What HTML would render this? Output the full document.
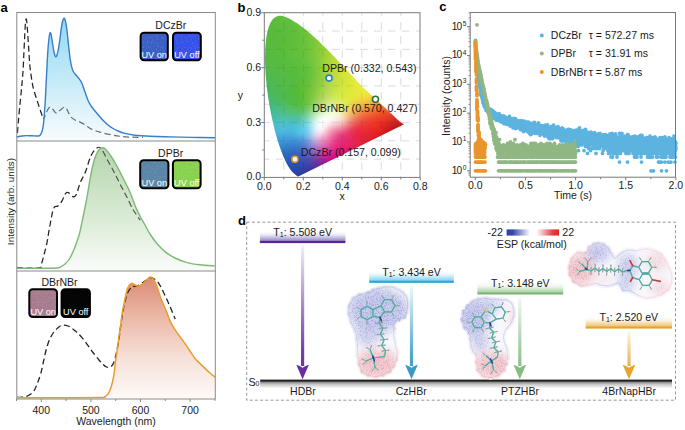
<!DOCTYPE html>
<html><head><meta charset="utf-8"><style>
html,body{margin:0;padding:0;background:#fff;overflow:hidden;width:685px;height:430px;}
svg{display:block;font-family:"Liberation Sans", sans-serif;}
</style></head><body>
<svg width="685" height="430" viewBox="0 0 685 430">
<defs>
<linearGradient id="gA1" x1="0" y1="0" x2="0" y2="1" gradientUnits="objectBoundingBox"><stop offset="0" stop-color="#92d9f3"/><stop offset="0.5" stop-color="#c4eaf8"/><stop offset="1" stop-color="#f8fcfe"/></linearGradient>
<linearGradient id="gA2" x1="0" y1="0" x2="0" y2="1" gradientUnits="objectBoundingBox"><stop offset="0" stop-color="#b5d6ad"/><stop offset="0.5" stop-color="#d5e8d0"/><stop offset="1" stop-color="#fafcf9"/></linearGradient>
<linearGradient id="gA3" x1="0" y1="0" x2="0" y2="1" gradientUnits="objectBoundingBox"><stop offset="0" stop-color="#da8a74"/><stop offset="0.3" stop-color="#eab4a2"/><stop offset="0.65" stop-color="#f6dfd6"/><stop offset="1" stop-color="#fefaf8"/></linearGradient>
</defs>
<path d="M16.80,137.00 C17.67,136.83 20.40,136.23 22.00,136.00 C23.60,135.77 24.73,135.63 26.40,135.60 C28.07,135.57 30.10,135.73 32.00,135.80 C33.90,135.87 36.47,136.10 37.80,136.00 C39.13,135.90 39.30,135.95 40.00,135.20 C40.70,134.45 41.42,133.42 42.00,131.50 C42.58,129.58 43.00,128.12 43.50,123.70 C44.00,119.28 44.53,112.28 45.00,105.00 C45.47,97.72 45.92,87.50 46.30,80.00 C46.68,72.50 46.97,65.83 47.30,60.00 C47.63,54.17 47.97,49.00 48.30,45.00 C48.63,41.00 49.00,38.05 49.30,36.00 C49.60,33.95 49.78,32.87 50.10,32.70 C50.42,32.53 50.75,32.95 51.20,35.00 C51.65,37.05 52.28,41.92 52.80,45.00 C53.32,48.08 53.83,51.57 54.30,53.50 C54.77,55.43 55.15,56.35 55.60,56.60 C56.05,56.85 56.50,56.43 57.00,55.00 C57.50,53.57 58.05,51.17 58.60,48.00 C59.15,44.83 59.73,40.00 60.30,36.00 C60.87,32.00 61.42,26.95 62.00,24.00 C62.58,21.05 63.25,18.88 63.80,18.30 C64.35,17.72 64.80,18.72 65.30,20.50 C65.80,22.28 66.27,24.92 66.80,29.00 C67.33,33.08 67.97,40.17 68.50,45.00 C69.03,49.83 69.52,54.57 70.00,58.00 C70.48,61.43 70.90,63.43 71.40,65.60 C71.90,67.77 72.32,69.52 73.00,71.00 C73.68,72.48 74.58,73.33 75.50,74.50 C76.42,75.67 77.45,76.58 78.50,78.00 C79.55,79.42 80.72,80.67 81.80,83.00 C82.88,85.33 83.92,89.00 85.00,92.00 C86.08,95.00 87.22,98.58 88.30,101.00 C89.38,103.42 90.38,104.83 91.50,106.50 C92.62,108.17 93.58,109.25 95.00,111.00 C96.42,112.75 98.50,115.28 100.00,117.00 C101.50,118.72 102.67,119.97 104.00,121.30 C105.33,122.63 106.50,123.80 108.00,125.00 C109.50,126.20 111.33,127.50 113.00,128.50 C114.67,129.50 116.00,130.18 118.00,131.00 C120.00,131.82 122.17,132.70 125.00,133.40 C127.83,134.10 130.83,134.72 135.00,135.20 C139.17,135.68 144.17,136.02 150.00,136.30 C155.83,136.58 163.00,136.72 170.00,136.90 C177.00,137.08 184.50,137.25 192.00,137.40 C199.50,137.55 211.17,137.73 215.00,137.80 L215.00,140.5 L16.80,140.5 Z" fill="url(#gA1)" stroke="none"/>
<path d="M16.80,268.30 C20.67,268.28 33.32,268.25 40.00,268.20 C46.68,268.15 53.40,268.27 56.90,268.00 C60.40,267.73 59.60,267.32 61.00,266.60 C62.40,265.88 63.80,265.13 65.30,263.70 C66.80,262.27 68.62,260.23 70.00,258.00 C71.38,255.77 72.52,252.80 73.60,250.30 C74.68,247.80 75.52,245.80 76.50,243.00 C77.48,240.20 78.65,236.67 79.50,233.50 C80.35,230.33 80.90,227.25 81.60,224.00 C82.30,220.75 83.05,217.17 83.70,214.00 C84.35,210.83 84.92,208.00 85.50,205.00 C86.08,202.00 86.62,199.28 87.20,196.00 C87.78,192.72 88.35,189.05 89.00,185.30 C89.65,181.55 90.35,177.27 91.10,173.50 C91.85,169.73 92.68,165.78 93.50,162.70 C94.32,159.62 95.08,157.15 96.00,155.00 C96.92,152.85 97.92,151.00 99.00,149.80 C100.08,148.60 101.50,147.97 102.50,147.80 C103.50,147.63 104.13,148.17 105.00,148.80 C105.87,149.43 106.62,150.23 107.70,151.60 C108.78,152.97 110.25,155.10 111.50,157.00 C112.75,158.90 114.03,161.00 115.20,163.00 C116.37,165.00 117.40,166.92 118.50,169.00 C119.60,171.08 120.67,173.25 121.80,175.50 C122.93,177.75 124.07,180.03 125.30,182.50 C126.53,184.97 127.92,187.38 129.20,190.30 C130.48,193.22 131.73,196.78 133.00,200.00 C134.27,203.22 135.55,206.77 136.80,209.60 C138.05,212.43 139.27,214.68 140.50,217.00 C141.73,219.32 142.57,220.58 144.20,223.50 C145.83,226.42 148.08,231.05 150.30,234.50 C152.52,237.95 154.95,241.27 157.50,244.20 C160.05,247.13 162.68,249.80 165.60,252.10 C168.52,254.40 171.42,256.25 175.00,258.00 C178.58,259.75 182.93,261.47 187.10,262.60 C191.27,263.73 195.38,264.25 200.00,264.80 C204.62,265.35 212.33,265.72 214.80,265.90 L214.80,270.5 L16.80,270.5 Z" fill="url(#gA2)" stroke="none"/>
<path d="M16.80,397.70 C24.00,397.70 45.98,397.72 60.00,397.70 C74.02,397.68 93.57,397.70 100.90,397.60 C108.23,397.50 103.13,397.40 104.00,397.10 C104.87,396.80 105.35,396.43 106.10,395.80 C106.85,395.17 107.72,394.60 108.50,393.30 C109.28,392.00 110.12,389.97 110.80,388.00 C111.48,386.03 112.03,384.00 112.60,381.50 C113.17,379.00 113.73,376.25 114.20,373.00 C114.67,369.75 114.90,365.83 115.40,362.00 C115.90,358.17 116.63,354.00 117.20,350.00 C117.77,346.00 118.28,341.75 118.80,338.00 C119.32,334.25 119.75,331.50 120.30,327.50 C120.85,323.50 121.48,317.92 122.10,314.00 C122.72,310.08 123.45,306.83 124.00,304.00 C124.55,301.17 124.90,299.33 125.40,297.00 C125.90,294.67 126.40,291.88 127.00,290.00 C127.60,288.12 128.40,286.72 129.00,285.70 C129.60,284.68 130.10,284.30 130.60,283.90 C131.10,283.50 131.38,283.18 132.00,283.30 C132.62,283.42 133.40,284.17 134.30,284.60 C135.20,285.03 136.37,285.80 137.40,285.90 C138.43,286.00 139.32,285.80 140.50,285.20 C141.68,284.60 143.33,283.33 144.50,282.30 C145.67,281.27 146.58,279.87 147.50,279.00 C148.42,278.13 149.15,277.22 150.00,277.10 C150.85,276.98 151.73,277.43 152.60,278.30 C153.47,279.17 154.33,280.52 155.20,282.30 C156.07,284.08 156.92,286.47 157.80,289.00 C158.68,291.53 159.60,295.00 160.50,297.50 C161.40,300.00 162.20,301.67 163.20,304.00 C164.20,306.33 165.27,308.47 166.50,311.50 C167.73,314.53 169.02,318.92 170.60,322.20 C172.18,325.48 173.95,328.13 176.00,331.20 C178.05,334.27 180.73,337.55 182.90,340.60 C185.07,343.65 186.97,346.50 189.00,349.50 C191.03,352.50 193.27,356.27 195.10,358.60 C196.93,360.93 198.35,361.87 200.00,363.50 C201.65,365.13 203.33,366.82 205.00,368.40 C206.67,369.98 208.32,371.53 210.00,373.00 C211.68,374.47 214.25,376.50 215.10,377.20 L215.10,398.5 L16.80,398.5 Z" fill="url(#gA3)" stroke="none"/>
<path d="M17.40,133.00 C17.58,130.83 18.10,124.50 18.50,120.00 C18.90,115.50 19.35,110.67 19.80,106.00 C20.25,101.33 20.78,96.33 21.20,92.00 C21.62,87.67 21.98,83.67 22.30,80.00 C22.62,76.33 22.85,74.17 23.10,70.00 C23.35,65.83 23.55,60.33 23.80,55.00 C24.05,49.67 24.35,43.00 24.60,38.00 C24.85,33.00 25.07,28.15 25.30,25.00 C25.53,21.85 25.75,19.60 26.00,19.10 C26.25,18.60 26.50,19.35 26.80,22.00 C27.10,24.65 27.45,30.00 27.80,35.00 C28.15,40.00 28.57,47.00 28.90,52.00 C29.23,57.00 29.48,61.50 29.80,65.00 C30.12,68.50 30.47,70.50 30.80,73.00 C31.13,75.50 31.45,77.78 31.80,80.00 C32.15,82.22 32.37,83.97 32.90,86.30 C33.43,88.63 34.18,91.28 35.00,94.00 C35.82,96.72 36.88,99.77 37.80,102.60 C38.72,105.43 39.55,108.28 40.50,111.00 C41.45,113.72 43.00,117.58 43.50,118.90" fill="none" stroke="#222" stroke-width="1.25" stroke-dasharray="6,3.4"/>
<path d="M43.50,118.90 C43.83,118.25 44.83,116.48 45.50,115.00 C46.17,113.52 46.75,111.32 47.50,110.00 C48.25,108.68 49.08,107.18 50.00,107.10 C50.92,107.02 51.92,108.48 53.00,109.50 C54.08,110.52 55.33,113.07 56.50,113.20 C57.67,113.33 58.63,111.32 60.00,110.30 C61.37,109.28 63.45,107.07 64.70,107.10 C65.95,107.13 66.55,108.93 67.50,110.50 C68.45,112.07 69.15,114.92 70.40,116.50 C71.65,118.08 73.38,119.07 75.00,120.00 C76.62,120.93 78.27,121.18 80.10,122.10 C81.93,123.02 84.10,124.33 86.00,125.50 C87.90,126.67 89.17,127.98 91.50,129.10 C93.83,130.22 96.47,131.20 100.00,132.20 C103.53,133.20 108.90,134.37 112.70,135.10 C116.50,135.83 119.58,136.25 122.80,136.60 C126.02,136.95 128.63,137.07 132.00,137.20 C135.37,137.33 141.17,137.37 143.00,137.40" fill="none" stroke="#6e6e6e" stroke-width="1.25" stroke-dasharray="6,3.4" stroke-dashoffset="2"/>
<path d="M16.80,137.00 C17.67,136.83 20.40,136.23 22.00,136.00 C23.60,135.77 24.73,135.63 26.40,135.60 C28.07,135.57 30.10,135.73 32.00,135.80 C33.90,135.87 36.47,136.10 37.80,136.00 C39.13,135.90 39.30,135.95 40.00,135.20 C40.70,134.45 41.42,133.42 42.00,131.50 C42.58,129.58 43.00,128.12 43.50,123.70 C44.00,119.28 44.53,112.28 45.00,105.00 C45.47,97.72 45.92,87.50 46.30,80.00 C46.68,72.50 46.97,65.83 47.30,60.00 C47.63,54.17 47.97,49.00 48.30,45.00 C48.63,41.00 49.00,38.05 49.30,36.00 C49.60,33.95 49.78,32.87 50.10,32.70 C50.42,32.53 50.75,32.95 51.20,35.00 C51.65,37.05 52.28,41.92 52.80,45.00 C53.32,48.08 53.83,51.57 54.30,53.50 C54.77,55.43 55.15,56.35 55.60,56.60 C56.05,56.85 56.50,56.43 57.00,55.00 C57.50,53.57 58.05,51.17 58.60,48.00 C59.15,44.83 59.73,40.00 60.30,36.00 C60.87,32.00 61.42,26.95 62.00,24.00 C62.58,21.05 63.25,18.88 63.80,18.30 C64.35,17.72 64.80,18.72 65.30,20.50 C65.80,22.28 66.27,24.92 66.80,29.00 C67.33,33.08 67.97,40.17 68.50,45.00 C69.03,49.83 69.52,54.57 70.00,58.00 C70.48,61.43 70.90,63.43 71.40,65.60 C71.90,67.77 72.32,69.52 73.00,71.00 C73.68,72.48 74.58,73.33 75.50,74.50 C76.42,75.67 77.45,76.58 78.50,78.00 C79.55,79.42 80.72,80.67 81.80,83.00 C82.88,85.33 83.92,89.00 85.00,92.00 C86.08,95.00 87.22,98.58 88.30,101.00 C89.38,103.42 90.38,104.83 91.50,106.50 C92.62,108.17 93.58,109.25 95.00,111.00 C96.42,112.75 98.50,115.28 100.00,117.00 C101.50,118.72 102.67,119.97 104.00,121.30 C105.33,122.63 106.50,123.80 108.00,125.00 C109.50,126.20 111.33,127.50 113.00,128.50 C114.67,129.50 116.00,130.18 118.00,131.00 C120.00,131.82 122.17,132.70 125.00,133.40 C127.83,134.10 130.83,134.72 135.00,135.20 C139.17,135.68 144.17,136.02 150.00,136.30 C155.83,136.58 163.00,136.72 170.00,136.90 C177.00,137.08 184.50,137.25 192.00,137.40 C199.50,137.55 211.17,137.73 215.00,137.80" fill="none" stroke="#3a7dc9" stroke-width="1.4"/>
<path d="M17.00,267.80 C20.72,267.80 35.17,268.63 39.30,267.80 C43.43,266.97 40.98,265.10 41.80,262.80 C42.62,260.50 43.37,257.22 44.20,254.00 C45.03,250.78 46.07,247.00 46.80,243.50 C47.53,240.00 48.03,236.25 48.60,233.00 C49.17,229.75 49.67,226.92 50.20,224.00 C50.73,221.08 51.27,218.00 51.80,215.50 C52.33,213.00 52.83,210.48 53.40,209.00 C53.97,207.52 54.52,207.07 55.20,206.60 C55.88,206.13 56.65,206.72 57.50,206.20 C58.35,205.68 59.43,204.62 60.30,203.50 C61.17,202.38 61.95,201.00 62.70,199.50 C63.45,198.00 64.07,195.68 64.80,194.50 C65.53,193.32 66.27,192.55 67.10,192.40 C67.93,192.25 68.90,192.93 69.80,193.60 C70.70,194.27 71.68,195.90 72.50,196.40 C73.32,196.90 73.98,197.08 74.70,196.60 C75.42,196.12 76.18,194.88 76.80,193.50 C77.42,192.12 77.78,190.22 78.40,188.30 C79.02,186.38 79.82,183.72 80.50,182.00 C81.18,180.28 81.83,179.30 82.50,178.00 C83.17,176.70 83.83,175.70 84.50,174.20 C85.17,172.70 85.83,170.95 86.50,169.00 C87.17,167.05 87.83,164.50 88.50,162.50 C89.17,160.50 89.83,158.58 90.50,157.00 C91.17,155.42 91.75,154.25 92.50,153.00 C93.25,151.75 94.07,150.45 95.00,149.50 C95.93,148.55 97.58,147.67 98.10,147.30" fill="none" stroke="#222" stroke-width="1.25" stroke-dasharray="6,3.4"/>
<path d="M98.10,147.30 C98.55,147.45 99.95,147.47 100.80,148.20 C101.65,148.93 101.95,149.48 103.20,151.70 C104.45,153.92 106.58,158.28 108.30,161.50 C110.02,164.72 111.83,167.83 113.50,171.00 C115.17,174.17 116.67,177.28 118.30,180.50 C119.93,183.72 121.63,187.05 123.30,190.30 C124.97,193.55 126.68,196.78 128.30,200.00 C129.92,203.22 131.62,207.10 133.00,209.60 C134.38,212.10 135.40,213.23 136.60,215.00 C137.80,216.77 139.60,219.33 140.20,220.20" fill="none" stroke="#4a4a4a" stroke-width="1.1" stroke-dasharray="6,3.4" stroke-dashoffset="3"/>
<path d="M16.80,268.30 C20.67,268.28 33.32,268.25 40.00,268.20 C46.68,268.15 53.40,268.27 56.90,268.00 C60.40,267.73 59.60,267.32 61.00,266.60 C62.40,265.88 63.80,265.13 65.30,263.70 C66.80,262.27 68.62,260.23 70.00,258.00 C71.38,255.77 72.52,252.80 73.60,250.30 C74.68,247.80 75.52,245.80 76.50,243.00 C77.48,240.20 78.65,236.67 79.50,233.50 C80.35,230.33 80.90,227.25 81.60,224.00 C82.30,220.75 83.05,217.17 83.70,214.00 C84.35,210.83 84.92,208.00 85.50,205.00 C86.08,202.00 86.62,199.28 87.20,196.00 C87.78,192.72 88.35,189.05 89.00,185.30 C89.65,181.55 90.35,177.27 91.10,173.50 C91.85,169.73 92.68,165.78 93.50,162.70 C94.32,159.62 95.08,157.15 96.00,155.00 C96.92,152.85 97.92,151.00 99.00,149.80 C100.08,148.60 101.50,147.97 102.50,147.80 C103.50,147.63 104.13,148.17 105.00,148.80 C105.87,149.43 106.62,150.23 107.70,151.60 C108.78,152.97 110.25,155.10 111.50,157.00 C112.75,158.90 114.03,161.00 115.20,163.00 C116.37,165.00 117.40,166.92 118.50,169.00 C119.60,171.08 120.67,173.25 121.80,175.50 C122.93,177.75 124.07,180.03 125.30,182.50 C126.53,184.97 127.92,187.38 129.20,190.30 C130.48,193.22 131.73,196.78 133.00,200.00 C134.27,203.22 135.55,206.77 136.80,209.60 C138.05,212.43 139.27,214.68 140.50,217.00 C141.73,219.32 142.57,220.58 144.20,223.50 C145.83,226.42 148.08,231.05 150.30,234.50 C152.52,237.95 154.95,241.27 157.50,244.20 C160.05,247.13 162.68,249.80 165.60,252.10 C168.52,254.40 171.42,256.25 175.00,258.00 C178.58,259.75 182.93,261.47 187.10,262.60 C191.27,263.73 195.38,264.25 200.00,264.80 C204.62,265.35 212.33,265.72 214.80,265.90" fill="none" stroke="#7db877" stroke-width="1.4"/>
<path d="M17.00,397.50 C17.83,397.43 20.42,397.30 22.00,397.10 C23.58,396.90 25.17,396.72 26.50,396.30 C27.83,395.88 28.73,395.55 30.00,394.60 C31.27,393.65 32.85,392.53 34.10,390.60 C35.35,388.67 36.38,385.87 37.50,383.00 C38.62,380.13 39.78,377.07 40.80,373.40 C41.82,369.73 42.65,365.13 43.60,361.00 C44.55,356.87 45.50,352.18 46.50,348.60 C47.50,345.02 48.48,342.10 49.60,339.50 C50.72,336.90 51.97,334.82 53.20,333.00 C54.43,331.18 55.83,329.77 57.00,328.60 C58.17,327.43 59.08,326.57 60.20,326.00 C61.32,325.43 62.40,325.20 63.70,325.20 C65.00,325.20 66.62,325.47 68.00,326.00 C69.38,326.53 70.65,327.47 72.00,328.40 C73.35,329.33 74.43,330.07 76.10,331.60 C77.77,333.13 80.10,335.40 82.00,337.60 C83.90,339.80 85.67,342.32 87.50,344.80 C89.33,347.28 91.08,349.97 93.00,352.50 C94.92,355.03 97.27,357.95 99.00,360.00 C100.73,362.05 102.15,363.63 103.40,364.80 C104.65,365.97 105.57,366.58 106.50,367.00 C107.43,367.42 108.15,367.47 109.00,367.30 C109.85,367.13 110.77,366.88 111.60,366.00 C112.43,365.12 113.17,364.33 114.00,362.00 C114.83,359.67 115.80,355.67 116.60,352.00 C117.40,348.33 118.10,344.50 118.80,340.00 C119.50,335.50 120.13,329.67 120.80,325.00 C121.47,320.33 122.13,315.83 122.80,312.00 C123.47,308.17 123.97,305.25 124.80,302.00 C125.63,298.75 126.68,294.97 127.80,292.50 C128.92,290.03 130.47,288.22 131.50,287.20 C132.53,286.18 132.85,286.72 134.00,286.40 C135.15,286.08 136.98,285.90 138.40,285.30 C139.82,284.70 141.15,283.68 142.50,282.80 C143.85,281.92 145.15,280.85 146.50,280.00 C147.85,279.15 149.30,277.87 150.60,277.70 C151.90,277.53 153.02,278.18 154.30,279.00 C155.58,279.82 157.00,280.85 158.30,282.60 C159.60,284.35 160.82,287.00 162.10,289.50 C163.38,292.00 164.68,294.77 166.00,297.60 C167.32,300.43 168.47,302.92 170.00,306.50 C171.53,310.08 174.33,317.00 175.20,319.10" fill="none" stroke="#222" stroke-width="1.3" stroke-dasharray="6,3.4"/>
<path d="M16.80,397.70 C24.00,397.70 45.98,397.72 60.00,397.70 C74.02,397.68 93.57,397.70 100.90,397.60 C108.23,397.50 103.13,397.40 104.00,397.10 C104.87,396.80 105.35,396.43 106.10,395.80 C106.85,395.17 107.72,394.60 108.50,393.30 C109.28,392.00 110.12,389.97 110.80,388.00 C111.48,386.03 112.03,384.00 112.60,381.50 C113.17,379.00 113.73,376.25 114.20,373.00 C114.67,369.75 114.90,365.83 115.40,362.00 C115.90,358.17 116.63,354.00 117.20,350.00 C117.77,346.00 118.28,341.75 118.80,338.00 C119.32,334.25 119.75,331.50 120.30,327.50 C120.85,323.50 121.48,317.92 122.10,314.00 C122.72,310.08 123.45,306.83 124.00,304.00 C124.55,301.17 124.90,299.33 125.40,297.00 C125.90,294.67 126.40,291.88 127.00,290.00 C127.60,288.12 128.40,286.72 129.00,285.70 C129.60,284.68 130.10,284.30 130.60,283.90 C131.10,283.50 131.38,283.18 132.00,283.30 C132.62,283.42 133.40,284.17 134.30,284.60 C135.20,285.03 136.37,285.80 137.40,285.90 C138.43,286.00 139.32,285.80 140.50,285.20 C141.68,284.60 143.33,283.33 144.50,282.30 C145.67,281.27 146.58,279.87 147.50,279.00 C148.42,278.13 149.15,277.22 150.00,277.10 C150.85,276.98 151.73,277.43 152.60,278.30 C153.47,279.17 154.33,280.52 155.20,282.30 C156.07,284.08 156.92,286.47 157.80,289.00 C158.68,291.53 159.60,295.00 160.50,297.50 C161.40,300.00 162.20,301.67 163.20,304.00 C164.20,306.33 165.27,308.47 166.50,311.50 C167.73,314.53 169.02,318.92 170.60,322.20 C172.18,325.48 173.95,328.13 176.00,331.20 C178.05,334.27 180.73,337.55 182.90,340.60 C185.07,343.65 186.97,346.50 189.00,349.50 C191.03,352.50 193.27,356.27 195.10,358.60 C196.93,360.93 198.35,361.87 200.00,363.50 C201.65,365.13 203.33,366.82 205.00,368.40 C206.67,369.98 208.32,371.53 210.00,373.00 C211.68,374.47 214.25,376.50 215.10,377.20" fill="none" stroke="#e99e2c" stroke-width="1.5"/>
<rect x="16.8" y="12.5" width="198.5" height="386.5" stroke="#8a8a8a" stroke-width="1" fill="none"/>
<line x1="16.8" y1="141" x2="215.3" y2="141" stroke="#8a8a8a" stroke-width="1" fill="none"/>
<line x1="16.8" y1="271" x2="215.3" y2="271" stroke="#8a8a8a" stroke-width="1" fill="none"/>
<line x1="16.50" y1="399" x2="16.50" y2="401" stroke="#8a8a8a" stroke-width="1" fill="none"/>
<line x1="41.30" y1="399" x2="41.30" y2="402" stroke="#8a8a8a" stroke-width="1" fill="none"/>
<line x1="66.10" y1="399" x2="66.10" y2="401" stroke="#8a8a8a" stroke-width="1" fill="none"/>
<line x1="90.90" y1="399" x2="90.90" y2="402" stroke="#8a8a8a" stroke-width="1" fill="none"/>
<line x1="115.70" y1="399" x2="115.70" y2="401" stroke="#8a8a8a" stroke-width="1" fill="none"/>
<line x1="140.50" y1="399" x2="140.50" y2="402" stroke="#8a8a8a" stroke-width="1" fill="none"/>
<line x1="165.30" y1="399" x2="165.30" y2="401" stroke="#8a8a8a" stroke-width="1" fill="none"/>
<line x1="190.10" y1="399" x2="190.10" y2="402" stroke="#8a8a8a" stroke-width="1" fill="none"/>
<line x1="214.90" y1="399" x2="214.90" y2="401" stroke="#8a8a8a" stroke-width="1" fill="none"/>
<text x="41.30" y="414.00" font-size="10.5" text-anchor="middle" font-weight="normal" fill="#1a1a1a" >400</text>
<text x="90.90" y="414.00" font-size="10.5" text-anchor="middle" font-weight="normal" fill="#1a1a1a" >500</text>
<text x="140.50" y="414.00" font-size="10.5" text-anchor="middle" font-weight="normal" fill="#1a1a1a" >600</text>
<text x="190.10" y="414.00" font-size="10.5" text-anchor="middle" font-weight="normal" fill="#1a1a1a" >700</text>
<text x="116.00" y="424.50" font-size="10.5" text-anchor="middle" font-weight="normal" fill="#1a1a1a" >Wavelength (nm)</text>
<text x="0" y="0" font-size="9.95" text-anchor="middle" fill="#1a1a1a" transform="translate(14.0,201.5) rotate(-90)">Intensity (arb. units)</text>
<text x="0.60" y="12.00" font-size="13" text-anchor="start" font-weight="bold" fill="#000" >a</text>
<defs><filter id="grain" x="0" y="0" width="1" height="1" color-interpolation-filters="sRGB"><feTurbulence type="fractalNoise" baseFrequency="0.8" numOctaves="2" seed="11" result="nz"/><feColorMatrix in="nz" type="matrix" values="0 0 0 0 1  0 0 0 0 1  0 0 0 0 1  0 0 0 -1.6 0.75" result="wn"/><feComposite in="wn" in2="SourceGraphic" operator="in"/></filter></defs>
<text x="170.80" y="29.00" font-size="10.5" text-anchor="middle" font-weight="normal" fill="#1a1a1a" >DCzBr</text>
<rect x="140.6" y="32.8" width="27.2" height="27.4" rx="3.5" fill="#3a5fc4" stroke="#000" stroke-width="2"/>
<rect x="141.6" y="33.8" width="25.2" height="25.4" rx="2.5" fill="#000" filter="url(#grain)" opacity="0.35"/>
<text x="154.20" y="57.90" font-size="9.2" text-anchor="middle" font-weight="normal" fill="#fff" >UV on</text>
<rect x="173" y="32.8" width="27.8" height="27.4" rx="3.5" fill="#3452ea" stroke="#000" stroke-width="2"/>
<rect x="174" y="33.8" width="25.8" height="25.4" rx="2.5" fill="#000" filter="url(#grain)" opacity="0.35"/>
<text x="186.90" y="57.90" font-size="9.2" text-anchor="middle" font-weight="normal" fill="#fff" >UV off</text>
<text x="170.60" y="157.00" font-size="10.5" text-anchor="middle" font-weight="normal" fill="#1a1a1a" >DPBr</text>
<rect x="140.2" y="160.2" width="28.2" height="28" rx="3.5" fill="#5b85a6" stroke="#000" stroke-width="2"/>
<rect x="141.2" y="161.2" width="26.2" height="26" rx="2.5" fill="#000" filter="url(#grain)" opacity="0.35"/>
<text x="154.30" y="185.90" font-size="9.2" text-anchor="middle" font-weight="normal" fill="#fff" >UV on</text>
<rect x="172.9" y="160.2" width="27.7" height="28" rx="3.5" fill="#88d150" stroke="#000" stroke-width="2"/>
<rect x="173.9" y="161.2" width="25.7" height="26" rx="2.5" fill="#000" filter="url(#grain)" opacity="0.35"/>
<text x="186.75" y="185.90" font-size="9.2" text-anchor="middle" font-weight="normal" fill="#fff" >UV off</text>
<text x="59.50" y="285.80" font-size="10.5" text-anchor="middle" font-weight="normal" fill="#1a1a1a" >DBrNBr</text>
<rect x="29.3" y="289.3" width="27.7" height="27.7" rx="3.5" fill="#a77a8e" stroke="#000" stroke-width="2"/>
<rect x="30.3" y="290.3" width="25.7" height="25.7" rx="2.5" fill="#000" filter="url(#grain)" opacity="0.35"/>
<text x="43.15" y="314.70" font-size="9.2" text-anchor="middle" font-weight="normal" fill="#fff" >UV on</text>
<rect x="61.6" y="289.3" width="28.3" height="27.7" rx="3.5" fill="#050505" stroke="#000" stroke-width="2"/>
<text x="75.75" y="314.70" font-size="9.2" text-anchor="middle" font-weight="normal" fill="#fff" >UV off</text>
<defs><clipPath id="cieclip"><path d="M298.25,176.49 L298.24,176.49 L298.24,176.49 L298.22,176.49 L298.21,176.50 L298.19,176.50 L298.17,176.50 L298.15,176.50 L298.14,176.50 L298.12,176.52 L298.10,176.52 L298.08,176.53 L298.05,176.53 L298.02,176.53 L297.99,176.52 L297.95,176.52 L297.92,176.52 L297.88,176.52 L297.84,176.51 L297.79,176.50 L297.72,176.47 L297.64,176.42 L297.56,176.37 L297.46,176.31 L297.35,176.23 L297.23,176.14 L297.09,176.03 L296.93,175.90 L296.76,175.76 L296.57,175.60 L296.36,175.41 L296.13,175.22 L295.86,175.00 L295.56,174.75 L295.22,174.47 L294.84,174.16 L294.43,173.82 L293.98,173.45 L293.49,173.02 L292.95,172.53 L292.37,171.97 L291.76,171.33 L291.09,170.56 L290.33,169.59 L289.47,168.36 L288.50,166.83 L287.45,164.99 L286.29,162.79 L285.02,160.12 L283.63,156.91 L282.10,153.13 L280.42,148.71 L278.62,143.56 L276.78,137.63 L274.96,130.93 L273.15,123.45 L271.36,115.23 L269.66,106.45 L268.14,97.33 L266.87,88.11 L265.89,77.87 L265.25,67.63 L265.01,57.98 L265.21,48.96 L265.86,40.67 L267.00,33.34 L268.64,27.15 L270.70,22.25 L273.14,18.79 L275.87,16.68 L278.79,15.76 L281.84,15.87 L284.97,16.73 L288.16,18.08 L291.35,19.76 L294.47,21.63 L297.50,23.60 L300.45,25.66 L303.36,27.83 L306.23,30.10 L309.08,32.47 L311.91,34.93 L314.72,37.48 L317.53,40.10 L320.32,42.78 L323.11,45.51 L325.90,48.30 L328.69,51.12 L331.48,53.98 L334.27,56.87 L337.05,59.78 L339.84,62.71 L342.62,65.64 L345.39,68.58 L348.15,71.51 L350.89,74.44 L353.62,77.36 L356.32,80.26 L358.99,83.13 L361.63,85.97 L364.23,88.40 L366.79,90.79 L369.30,93.13 L371.75,95.42 L374.14,97.64 L376.45,99.81 L378.70,101.91 L380.84,103.92 L382.87,105.81 L384.77,107.59 L386.57,109.27 L388.30,110.89 L389.93,112.41 L391.45,113.82 L392.84,115.11 L394.12,116.31 L395.31,117.42 L396.40,118.44 L397.40,119.38 L398.31,120.23 L399.14,121.00 L399.90,121.71 L400.59,122.36 L404.12,124.36 Z"/></clipPath><filter id="cieblur" x="-5%" y="-5%" width="110%" height="110%"><feGaussianBlur stdDeviation="1.6"/></filter></defs>
<line x1="283.80" y1="12.7" x2="283.80" y2="177.4" stroke="#000" stroke-width="0.9" stroke-dasharray="7.5,6.5" opacity="0.16" stroke-dashoffset="4.5"/><line x1="303.30" y1="12.7" x2="303.30" y2="177.4" stroke="#000" stroke-width="0.9" stroke-dasharray="7.5,6.5" opacity="0.16" stroke-dashoffset="4.5"/><line x1="322.80" y1="12.7" x2="322.80" y2="177.4" stroke="#000" stroke-width="0.9" stroke-dasharray="7.5,6.5" opacity="0.16" stroke-dashoffset="4.5"/><line x1="342.30" y1="12.7" x2="342.30" y2="177.4" stroke="#000" stroke-width="0.9" stroke-dasharray="7.5,6.5" opacity="0.16" stroke-dashoffset="4.5"/><line x1="361.80" y1="12.7" x2="361.80" y2="177.4" stroke="#000" stroke-width="0.9" stroke-dasharray="7.5,6.5" opacity="0.16" stroke-dashoffset="4.5"/><line x1="381.30" y1="12.7" x2="381.30" y2="177.4" stroke="#000" stroke-width="0.9" stroke-dasharray="7.5,6.5" opacity="0.16" stroke-dashoffset="4.5"/><line x1="400.80" y1="12.7" x2="400.80" y2="177.4" stroke="#000" stroke-width="0.9" stroke-dasharray="7.5,6.5" opacity="0.16" stroke-dashoffset="4.5"/><line x1="264.3" y1="159.11" x2="420" y2="159.11" stroke="#000" stroke-width="0.9" stroke-dasharray="7.5,6.5" opacity="0.16" stroke-dashoffset="2.3"/><line x1="264.3" y1="140.82" x2="420" y2="140.82" stroke="#000" stroke-width="0.9" stroke-dasharray="7.5,6.5" opacity="0.16" stroke-dashoffset="2.3"/><line x1="264.3" y1="122.53" x2="420" y2="122.53" stroke="#000" stroke-width="0.9" stroke-dasharray="7.5,6.5" opacity="0.16" stroke-dashoffset="2.3"/><line x1="264.3" y1="104.24" x2="420" y2="104.24" stroke="#000" stroke-width="0.9" stroke-dasharray="7.5,6.5" opacity="0.16" stroke-dashoffset="2.3"/><line x1="264.3" y1="85.95" x2="420" y2="85.95" stroke="#000" stroke-width="0.9" stroke-dasharray="7.5,6.5" opacity="0.16" stroke-dashoffset="2.3"/><line x1="264.3" y1="67.66" x2="420" y2="67.66" stroke="#000" stroke-width="0.9" stroke-dasharray="7.5,6.5" opacity="0.16" stroke-dashoffset="2.3"/><line x1="264.3" y1="49.37" x2="420" y2="49.37" stroke="#000" stroke-width="0.9" stroke-dasharray="7.5,6.5" opacity="0.16" stroke-dashoffset="2.3"/><line x1="264.3" y1="31.08" x2="420" y2="31.08" stroke="#000" stroke-width="0.9" stroke-dasharray="7.5,6.5" opacity="0.16" stroke-dashoffset="2.3"/>
<g clip-path="url(#cieclip)"><g filter="url(#cieblur)">
<rect x="271" y="13" width="3.6" height="3.6" fill="#5cbf3e"/>
<rect x="274" y="13" width="3.6" height="3.6" fill="#5dbf3e"/>
<rect x="277" y="13" width="3.6" height="3.6" fill="#5fbf3d"/>
<rect x="280" y="13" width="3.6" height="3.6" fill="#60bf3c"/>
<rect x="283" y="13" width="3.6" height="3.6" fill="#62c03c"/>
<rect x="286" y="13" width="3.6" height="3.6" fill="#63c13b"/>
<rect x="289" y="13" width="3.6" height="3.6" fill="#66c23b"/>
<rect x="268" y="16" width="3.6" height="3.6" fill="#5abe3f"/>
<rect x="271" y="16" width="3.6" height="3.6" fill="#5bbe3e"/>
<rect x="274" y="16" width="3.6" height="3.6" fill="#5cbe3e"/>
<rect x="277" y="16" width="3.6" height="3.6" fill="#5dbe3d"/>
<rect x="280" y="16" width="3.6" height="3.6" fill="#5fbe3d"/>
<rect x="283" y="16" width="3.6" height="3.6" fill="#60bf3c"/>
<rect x="286" y="16" width="3.6" height="3.6" fill="#62c03b"/>
<rect x="289" y="16" width="3.6" height="3.6" fill="#64c03b"/>
<rect x="292" y="16" width="3.6" height="3.6" fill="#66c23a"/>
<rect x="295" y="16" width="3.6" height="3.6" fill="#69c33a"/>
<rect x="265" y="19" width="3.6" height="3.6" fill="#59bd40"/>
<rect x="268" y="19" width="3.6" height="3.6" fill="#5abd3f"/>
<rect x="271" y="19" width="3.6" height="3.6" fill="#5bbd3e"/>
<rect x="274" y="19" width="3.6" height="3.6" fill="#5bbd3e"/>
<rect x="277" y="19" width="3.6" height="3.6" fill="#5cbd3d"/>
<rect x="280" y="19" width="3.6" height="3.6" fill="#5ebd3d"/>
<rect x="283" y="19" width="3.6" height="3.6" fill="#5fbe3c"/>
<rect x="286" y="19" width="3.6" height="3.6" fill="#61bf3c"/>
<rect x="289" y="19" width="3.6" height="3.6" fill="#63bf3b"/>
<rect x="292" y="19" width="3.6" height="3.6" fill="#65c13a"/>
<rect x="295" y="19" width="3.6" height="3.6" fill="#68c23a"/>
<rect x="298" y="19" width="3.6" height="3.6" fill="#6bc339"/>
<rect x="265" y="22" width="3.6" height="3.6" fill="#58bc40"/>
<rect x="268" y="22" width="3.6" height="3.6" fill="#59bc3f"/>
<rect x="271" y="22" width="3.6" height="3.6" fill="#5abc3e"/>
<rect x="274" y="22" width="3.6" height="3.6" fill="#5bbc3e"/>
<rect x="277" y="22" width="3.6" height="3.6" fill="#5cbc3d"/>
<rect x="280" y="22" width="3.6" height="3.6" fill="#5dbd3d"/>
<rect x="283" y="22" width="3.6" height="3.6" fill="#5ebd3c"/>
<rect x="286" y="22" width="3.6" height="3.6" fill="#5fbe3c"/>
<rect x="289" y="22" width="3.6" height="3.6" fill="#61bf3b"/>
<rect x="292" y="22" width="3.6" height="3.6" fill="#63c03b"/>
<rect x="295" y="22" width="3.6" height="3.6" fill="#66c13a"/>
<rect x="298" y="22" width="3.6" height="3.6" fill="#69c239"/>
<rect x="301" y="22" width="3.6" height="3.6" fill="#6dc439"/>
<rect x="304" y="22" width="3.6" height="3.6" fill="#71c538"/>
<rect x="265" y="25" width="3.6" height="3.6" fill="#58bc3f"/>
<rect x="268" y="25" width="3.6" height="3.6" fill="#59bc3f"/>
<rect x="271" y="25" width="3.6" height="3.6" fill="#59bc3e"/>
<rect x="274" y="25" width="3.6" height="3.6" fill="#5abc3e"/>
<rect x="277" y="25" width="3.6" height="3.6" fill="#5bbc3d"/>
<rect x="280" y="25" width="3.6" height="3.6" fill="#5cbc3d"/>
<rect x="283" y="25" width="3.6" height="3.6" fill="#5dbd3c"/>
<rect x="286" y="25" width="3.6" height="3.6" fill="#5ebd3c"/>
<rect x="289" y="25" width="3.6" height="3.6" fill="#60be3b"/>
<rect x="292" y="25" width="3.6" height="3.6" fill="#62bf3b"/>
<rect x="295" y="25" width="3.6" height="3.6" fill="#65c03a"/>
<rect x="298" y="25" width="3.6" height="3.6" fill="#68c23a"/>
<rect x="301" y="25" width="3.6" height="3.6" fill="#6cc339"/>
<rect x="304" y="25" width="3.6" height="3.6" fill="#70c538"/>
<rect x="307" y="25" width="3.6" height="3.6" fill="#74c638"/>
<rect x="265" y="28" width="3.6" height="3.6" fill="#58bc3f"/>
<rect x="268" y="28" width="3.6" height="3.6" fill="#58bb3f"/>
<rect x="271" y="28" width="3.6" height="3.6" fill="#59bb3e"/>
<rect x="274" y="28" width="3.6" height="3.6" fill="#5abb3e"/>
<rect x="277" y="28" width="3.6" height="3.6" fill="#5abb3d"/>
<rect x="280" y="28" width="3.6" height="3.6" fill="#5bbc3d"/>
<rect x="283" y="28" width="3.6" height="3.6" fill="#5cbc3c"/>
<rect x="286" y="28" width="3.6" height="3.6" fill="#5dbd3c"/>
<rect x="289" y="28" width="3.6" height="3.6" fill="#5fbe3b"/>
<rect x="292" y="28" width="3.6" height="3.6" fill="#61bf3b"/>
<rect x="295" y="28" width="3.6" height="3.6" fill="#64c03a"/>
<rect x="298" y="28" width="3.6" height="3.6" fill="#67c13a"/>
<rect x="301" y="28" width="3.6" height="3.6" fill="#6bc239"/>
<rect x="304" y="28" width="3.6" height="3.6" fill="#6fc439"/>
<rect x="307" y="28" width="3.6" height="3.6" fill="#73c638"/>
<rect x="310" y="28" width="3.6" height="3.6" fill="#79c838"/>
<rect x="262" y="31" width="3.6" height="3.6" fill="#57bb40"/>
<rect x="265" y="31" width="3.6" height="3.6" fill="#58bb3f"/>
<rect x="268" y="31" width="3.6" height="3.6" fill="#58bb3f"/>
<rect x="271" y="31" width="3.6" height="3.6" fill="#59bb3e"/>
<rect x="274" y="31" width="3.6" height="3.6" fill="#59bb3d"/>
<rect x="277" y="31" width="3.6" height="3.6" fill="#5abb3d"/>
<rect x="280" y="31" width="3.6" height="3.6" fill="#5bbc3d"/>
<rect x="283" y="31" width="3.6" height="3.6" fill="#5bbc3c"/>
<rect x="286" y="31" width="3.6" height="3.6" fill="#5cbd3c"/>
<rect x="289" y="31" width="3.6" height="3.6" fill="#5ebd3b"/>
<rect x="292" y="31" width="3.6" height="3.6" fill="#60be3b"/>
<rect x="295" y="31" width="3.6" height="3.6" fill="#62bf3a"/>
<rect x="298" y="31" width="3.6" height="3.6" fill="#66c13a"/>
<rect x="301" y="31" width="3.6" height="3.6" fill="#69c23a"/>
<rect x="304" y="31" width="3.6" height="3.6" fill="#6ec439"/>
<rect x="307" y="31" width="3.6" height="3.6" fill="#73c538"/>
<rect x="310" y="31" width="3.6" height="3.6" fill="#78c738"/>
<rect x="313" y="31" width="3.6" height="3.6" fill="#7ec937"/>
<rect x="262" y="34" width="3.6" height="3.6" fill="#57bb40"/>
<rect x="265" y="34" width="3.6" height="3.6" fill="#58bb3f"/>
<rect x="268" y="34" width="3.6" height="3.6" fill="#58bb3f"/>
<rect x="271" y="34" width="3.6" height="3.6" fill="#59bb3e"/>
<rect x="274" y="34" width="3.6" height="3.6" fill="#59bb3d"/>
<rect x="277" y="34" width="3.6" height="3.6" fill="#5abb3d"/>
<rect x="280" y="34" width="3.6" height="3.6" fill="#5abc3c"/>
<rect x="283" y="34" width="3.6" height="3.6" fill="#5bbc3c"/>
<rect x="286" y="34" width="3.6" height="3.6" fill="#5cbc3c"/>
<rect x="289" y="34" width="3.6" height="3.6" fill="#5dbd3b"/>
<rect x="292" y="34" width="3.6" height="3.6" fill="#5fbe3b"/>
<rect x="295" y="34" width="3.6" height="3.6" fill="#62bf3b"/>
<rect x="298" y="34" width="3.6" height="3.6" fill="#65c03a"/>
<rect x="301" y="34" width="3.6" height="3.6" fill="#69c23a"/>
<rect x="304" y="34" width="3.6" height="3.6" fill="#6dc339"/>
<rect x="307" y="34" width="3.6" height="3.6" fill="#72c539"/>
<rect x="310" y="34" width="3.6" height="3.6" fill="#77c738"/>
<rect x="313" y="34" width="3.6" height="3.6" fill="#7dc938"/>
<rect x="316" y="34" width="3.6" height="3.6" fill="#83cb37"/>
<rect x="262" y="37" width="3.6" height="3.6" fill="#57bb40"/>
<rect x="265" y="37" width="3.6" height="3.6" fill="#58bb3f"/>
<rect x="268" y="37" width="3.6" height="3.6" fill="#58bb3f"/>
<rect x="271" y="37" width="3.6" height="3.6" fill="#59bb3e"/>
<rect x="274" y="37" width="3.6" height="3.6" fill="#59bb3d"/>
<rect x="277" y="37" width="3.6" height="3.6" fill="#5abb3d"/>
<rect x="280" y="37" width="3.6" height="3.6" fill="#5abc3c"/>
<rect x="283" y="37" width="3.6" height="3.6" fill="#5bbc3c"/>
<rect x="286" y="37" width="3.6" height="3.6" fill="#5cbd3c"/>
<rect x="289" y="37" width="3.6" height="3.6" fill="#5dbd3b"/>
<rect x="292" y="37" width="3.6" height="3.6" fill="#5fbe3b"/>
<rect x="295" y="37" width="3.6" height="3.6" fill="#61bf3b"/>
<rect x="298" y="37" width="3.6" height="3.6" fill="#64c03a"/>
<rect x="301" y="37" width="3.6" height="3.6" fill="#68c13a"/>
<rect x="304" y="37" width="3.6" height="3.6" fill="#6cc33a"/>
<rect x="307" y="37" width="3.6" height="3.6" fill="#71c439"/>
<rect x="310" y="37" width="3.6" height="3.6" fill="#77c638"/>
<rect x="313" y="37" width="3.6" height="3.6" fill="#7dc938"/>
<rect x="316" y="37" width="3.6" height="3.6" fill="#83cb37"/>
<rect x="319" y="37" width="3.6" height="3.6" fill="#8acd37"/>
<rect x="262" y="40" width="3.6" height="3.6" fill="#56bb41"/>
<rect x="265" y="40" width="3.6" height="3.6" fill="#57bb40"/>
<rect x="268" y="40" width="3.6" height="3.6" fill="#58bb3f"/>
<rect x="271" y="40" width="3.6" height="3.6" fill="#59bb3e"/>
<rect x="274" y="40" width="3.6" height="3.6" fill="#59bb3d"/>
<rect x="277" y="40" width="3.6" height="3.6" fill="#59bb3d"/>
<rect x="280" y="40" width="3.6" height="3.6" fill="#5abc3c"/>
<rect x="283" y="40" width="3.6" height="3.6" fill="#5bbc3c"/>
<rect x="286" y="40" width="3.6" height="3.6" fill="#5cbd3c"/>
<rect x="289" y="40" width="3.6" height="3.6" fill="#5dbd3c"/>
<rect x="292" y="40" width="3.6" height="3.6" fill="#5fbe3b"/>
<rect x="295" y="40" width="3.6" height="3.6" fill="#61bf3b"/>
<rect x="298" y="40" width="3.6" height="3.6" fill="#64c03b"/>
<rect x="301" y="40" width="3.6" height="3.6" fill="#67c13a"/>
<rect x="304" y="40" width="3.6" height="3.6" fill="#6cc33a"/>
<rect x="307" y="40" width="3.6" height="3.6" fill="#71c439"/>
<rect x="310" y="40" width="3.6" height="3.6" fill="#76c639"/>
<rect x="313" y="40" width="3.6" height="3.6" fill="#7dc838"/>
<rect x="316" y="40" width="3.6" height="3.6" fill="#84cb38"/>
<rect x="319" y="40" width="3.6" height="3.6" fill="#8bcd37"/>
<rect x="322" y="40" width="3.6" height="3.6" fill="#92d036"/>
<rect x="262" y="43" width="3.6" height="3.6" fill="#56bb41"/>
<rect x="265" y="43" width="3.6" height="3.6" fill="#57bb40"/>
<rect x="268" y="43" width="3.6" height="3.6" fill="#58bb3f"/>
<rect x="271" y="43" width="3.6" height="3.6" fill="#58bb3e"/>
<rect x="274" y="43" width="3.6" height="3.6" fill="#59bb3e"/>
<rect x="277" y="43" width="3.6" height="3.6" fill="#59bc3d"/>
<rect x="280" y="43" width="3.6" height="3.6" fill="#5abc3d"/>
<rect x="283" y="43" width="3.6" height="3.6" fill="#5bbc3c"/>
<rect x="286" y="43" width="3.6" height="3.6" fill="#5cbd3c"/>
<rect x="289" y="43" width="3.6" height="3.6" fill="#5dbd3c"/>
<rect x="292" y="43" width="3.6" height="3.6" fill="#5fbe3b"/>
<rect x="295" y="43" width="3.6" height="3.6" fill="#61bf3b"/>
<rect x="298" y="43" width="3.6" height="3.6" fill="#64c03b"/>
<rect x="301" y="43" width="3.6" height="3.6" fill="#67c13b"/>
<rect x="304" y="43" width="3.6" height="3.6" fill="#6bc23a"/>
<rect x="307" y="43" width="3.6" height="3.6" fill="#70c43a"/>
<rect x="310" y="43" width="3.6" height="3.6" fill="#76c639"/>
<rect x="313" y="43" width="3.6" height="3.6" fill="#7dc839"/>
<rect x="316" y="43" width="3.6" height="3.6" fill="#84ca38"/>
<rect x="319" y="43" width="3.6" height="3.6" fill="#8ccd37"/>
<rect x="322" y="43" width="3.6" height="3.6" fill="#93d037"/>
<rect x="325" y="43" width="3.6" height="3.6" fill="#9bd236"/>
<rect x="262" y="46" width="3.6" height="3.6" fill="#55bb41"/>
<rect x="265" y="46" width="3.6" height="3.6" fill="#56bb40"/>
<rect x="268" y="46" width="3.6" height="3.6" fill="#57bb3f"/>
<rect x="271" y="46" width="3.6" height="3.6" fill="#58bb3e"/>
<rect x="274" y="46" width="3.6" height="3.6" fill="#58bb3e"/>
<rect x="277" y="46" width="3.6" height="3.6" fill="#59bc3d"/>
<rect x="280" y="46" width="3.6" height="3.6" fill="#5abc3d"/>
<rect x="283" y="46" width="3.6" height="3.6" fill="#5bbd3c"/>
<rect x="286" y="46" width="3.6" height="3.6" fill="#5cbd3c"/>
<rect x="289" y="46" width="3.6" height="3.6" fill="#5dbe3c"/>
<rect x="292" y="46" width="3.6" height="3.6" fill="#5fbe3c"/>
<rect x="295" y="46" width="3.6" height="3.6" fill="#61bf3b"/>
<rect x="298" y="46" width="3.6" height="3.6" fill="#63c03b"/>
<rect x="301" y="46" width="3.6" height="3.6" fill="#67c13b"/>
<rect x="304" y="46" width="3.6" height="3.6" fill="#6bc23a"/>
<rect x="307" y="46" width="3.6" height="3.6" fill="#6fc43a"/>
<rect x="310" y="46" width="3.6" height="3.6" fill="#75c53a"/>
<rect x="313" y="46" width="3.6" height="3.6" fill="#7cc839"/>
<rect x="316" y="46" width="3.6" height="3.6" fill="#84ca38"/>
<rect x="319" y="46" width="3.6" height="3.6" fill="#8ccd38"/>
<rect x="322" y="46" width="3.6" height="3.6" fill="#95d037"/>
<rect x="325" y="46" width="3.6" height="3.6" fill="#9dd337"/>
<rect x="328" y="46" width="3.6" height="3.6" fill="#a4d536"/>
<rect x="262" y="49" width="3.6" height="3.6" fill="#55bb42"/>
<rect x="265" y="49" width="3.6" height="3.6" fill="#56bb41"/>
<rect x="268" y="49" width="3.6" height="3.6" fill="#57bb40"/>
<rect x="271" y="49" width="3.6" height="3.6" fill="#57bb3f"/>
<rect x="274" y="49" width="3.6" height="3.6" fill="#58bb3e"/>
<rect x="277" y="49" width="3.6" height="3.6" fill="#59bc3d"/>
<rect x="280" y="49" width="3.6" height="3.6" fill="#5abc3d"/>
<rect x="283" y="49" width="3.6" height="3.6" fill="#5bbd3d"/>
<rect x="286" y="49" width="3.6" height="3.6" fill="#5cbd3c"/>
<rect x="289" y="49" width="3.6" height="3.6" fill="#5dbe3c"/>
<rect x="292" y="49" width="3.6" height="3.6" fill="#5fbf3c"/>
<rect x="295" y="49" width="3.6" height="3.6" fill="#61bf3c"/>
<rect x="298" y="49" width="3.6" height="3.6" fill="#63c03b"/>
<rect x="301" y="49" width="3.6" height="3.6" fill="#66c13b"/>
<rect x="304" y="49" width="3.6" height="3.6" fill="#6ac23b"/>
<rect x="307" y="49" width="3.6" height="3.6" fill="#6fc43b"/>
<rect x="310" y="49" width="3.6" height="3.6" fill="#75c53a"/>
<rect x="313" y="49" width="3.6" height="3.6" fill="#7dc83a"/>
<rect x="316" y="49" width="3.6" height="3.6" fill="#85ca39"/>
<rect x="319" y="49" width="3.6" height="3.6" fill="#8dcd38"/>
<rect x="322" y="49" width="3.6" height="3.6" fill="#96d038"/>
<rect x="325" y="49" width="3.6" height="3.6" fill="#9ed337"/>
<rect x="328" y="49" width="3.6" height="3.6" fill="#a6d636"/>
<rect x="331" y="49" width="3.6" height="3.6" fill="#aed836"/>
<rect x="262" y="52" width="3.6" height="3.6" fill="#54bb43"/>
<rect x="265" y="52" width="3.6" height="3.6" fill="#55bb41"/>
<rect x="268" y="52" width="3.6" height="3.6" fill="#56bb40"/>
<rect x="271" y="52" width="3.6" height="3.6" fill="#57bb3f"/>
<rect x="274" y="52" width="3.6" height="3.6" fill="#58bc3e"/>
<rect x="277" y="52" width="3.6" height="3.6" fill="#59bc3e"/>
<rect x="280" y="52" width="3.6" height="3.6" fill="#59bc3d"/>
<rect x="283" y="52" width="3.6" height="3.6" fill="#5abd3d"/>
<rect x="286" y="52" width="3.6" height="3.6" fill="#5cbe3d"/>
<rect x="289" y="52" width="3.6" height="3.6" fill="#5dbe3d"/>
<rect x="292" y="52" width="3.6" height="3.6" fill="#5fbf3c"/>
<rect x="295" y="52" width="3.6" height="3.6" fill="#60bf3c"/>
<rect x="298" y="52" width="3.6" height="3.6" fill="#63c03c"/>
<rect x="301" y="52" width="3.6" height="3.6" fill="#66c13c"/>
<rect x="304" y="52" width="3.6" height="3.6" fill="#6ac23b"/>
<rect x="307" y="52" width="3.6" height="3.6" fill="#6fc43b"/>
<rect x="310" y="52" width="3.6" height="3.6" fill="#75c53b"/>
<rect x="313" y="52" width="3.6" height="3.6" fill="#7dc83a"/>
<rect x="316" y="52" width="3.6" height="3.6" fill="#85ca39"/>
<rect x="319" y="52" width="3.6" height="3.6" fill="#8ecd39"/>
<rect x="322" y="52" width="3.6" height="3.6" fill="#98d038"/>
<rect x="325" y="52" width="3.6" height="3.6" fill="#a0d338"/>
<rect x="328" y="52" width="3.6" height="3.6" fill="#a8d637"/>
<rect x="331" y="52" width="3.6" height="3.6" fill="#b0d936"/>
<rect x="334" y="52" width="3.6" height="3.6" fill="#b7db36"/>
<rect x="262" y="55" width="3.6" height="3.6" fill="#53ba44"/>
<rect x="265" y="55" width="3.6" height="3.6" fill="#54bb42"/>
<rect x="268" y="55" width="3.6" height="3.6" fill="#55bb41"/>
<rect x="271" y="55" width="3.6" height="3.6" fill="#56bb40"/>
<rect x="274" y="55" width="3.6" height="3.6" fill="#57bc3f"/>
<rect x="277" y="55" width="3.6" height="3.6" fill="#58bc3e"/>
<rect x="280" y="55" width="3.6" height="3.6" fill="#59bc3e"/>
<rect x="283" y="55" width="3.6" height="3.6" fill="#5abd3e"/>
<rect x="286" y="55" width="3.6" height="3.6" fill="#5bbe3d"/>
<rect x="289" y="55" width="3.6" height="3.6" fill="#5dbe3d"/>
<rect x="292" y="55" width="3.6" height="3.6" fill="#5ebf3d"/>
<rect x="295" y="55" width="3.6" height="3.6" fill="#60bf3c"/>
<rect x="298" y="55" width="3.6" height="3.6" fill="#62c03c"/>
<rect x="301" y="55" width="3.6" height="3.6" fill="#65c13c"/>
<rect x="304" y="55" width="3.6" height="3.6" fill="#69c23c"/>
<rect x="307" y="55" width="3.6" height="3.6" fill="#6ec33b"/>
<rect x="310" y="55" width="3.6" height="3.6" fill="#75c53b"/>
<rect x="313" y="55" width="3.6" height="3.6" fill="#7dc83b"/>
<rect x="316" y="55" width="3.6" height="3.6" fill="#86ca3a"/>
<rect x="319" y="55" width="3.6" height="3.6" fill="#8fcd39"/>
<rect x="322" y="55" width="3.6" height="3.6" fill="#99d039"/>
<rect x="325" y="55" width="3.6" height="3.6" fill="#a2d338"/>
<rect x="328" y="55" width="3.6" height="3.6" fill="#aad638"/>
<rect x="331" y="55" width="3.6" height="3.6" fill="#b2d937"/>
<rect x="334" y="55" width="3.6" height="3.6" fill="#b9dc36"/>
<rect x="337" y="55" width="3.6" height="3.6" fill="#c0de36"/>
<rect x="262" y="58" width="3.6" height="3.6" fill="#53ba45"/>
<rect x="265" y="58" width="3.6" height="3.6" fill="#54bb43"/>
<rect x="268" y="58" width="3.6" height="3.6" fill="#55bb42"/>
<rect x="271" y="58" width="3.6" height="3.6" fill="#56bb41"/>
<rect x="274" y="58" width="3.6" height="3.6" fill="#57bb40"/>
<rect x="277" y="58" width="3.6" height="3.6" fill="#57bc3f"/>
<rect x="280" y="58" width="3.6" height="3.6" fill="#58bc3f"/>
<rect x="283" y="58" width="3.6" height="3.6" fill="#59bd3e"/>
<rect x="286" y="58" width="3.6" height="3.6" fill="#5abd3e"/>
<rect x="289" y="58" width="3.6" height="3.6" fill="#5cbe3d"/>
<rect x="292" y="58" width="3.6" height="3.6" fill="#5dbf3d"/>
<rect x="295" y="58" width="3.6" height="3.6" fill="#5fbf3d"/>
<rect x="298" y="58" width="3.6" height="3.6" fill="#61c03c"/>
<rect x="301" y="58" width="3.6" height="3.6" fill="#63c13c"/>
<rect x="304" y="58" width="3.6" height="3.6" fill="#67c23c"/>
<rect x="307" y="58" width="3.6" height="3.6" fill="#6dc33c"/>
<rect x="310" y="58" width="3.6" height="3.6" fill="#73c53c"/>
<rect x="313" y="58" width="3.6" height="3.6" fill="#7cc83b"/>
<rect x="316" y="58" width="3.6" height="3.6" fill="#85ca3b"/>
<rect x="319" y="58" width="3.6" height="3.6" fill="#90cd3a"/>
<rect x="322" y="58" width="3.6" height="3.6" fill="#9ad13a"/>
<rect x="325" y="58" width="3.6" height="3.6" fill="#a3d439"/>
<rect x="328" y="58" width="3.6" height="3.6" fill="#abd738"/>
<rect x="331" y="58" width="3.6" height="3.6" fill="#b3d938"/>
<rect x="334" y="58" width="3.6" height="3.6" fill="#bbdc37"/>
<rect x="337" y="58" width="3.6" height="3.6" fill="#c2df37"/>
<rect x="340" y="58" width="3.6" height="3.6" fill="#c8e136"/>
<rect x="262" y="61" width="3.6" height="3.6" fill="#52ba46"/>
<rect x="265" y="61" width="3.6" height="3.6" fill="#53ba45"/>
<rect x="268" y="61" width="3.6" height="3.6" fill="#54bb43"/>
<rect x="271" y="61" width="3.6" height="3.6" fill="#55bb42"/>
<rect x="274" y="61" width="3.6" height="3.6" fill="#56bb41"/>
<rect x="277" y="61" width="3.6" height="3.6" fill="#57bc40"/>
<rect x="280" y="61" width="3.6" height="3.6" fill="#57bc40"/>
<rect x="283" y="61" width="3.6" height="3.6" fill="#58bd3f"/>
<rect x="286" y="61" width="3.6" height="3.6" fill="#59bd3f"/>
<rect x="289" y="61" width="3.6" height="3.6" fill="#5bbe3e"/>
<rect x="292" y="61" width="3.6" height="3.6" fill="#5cbe3e"/>
<rect x="295" y="61" width="3.6" height="3.6" fill="#5dbf3d"/>
<rect x="298" y="61" width="3.6" height="3.6" fill="#5fbf3d"/>
<rect x="301" y="61" width="3.6" height="3.6" fill="#62c03d"/>
<rect x="304" y="61" width="3.6" height="3.6" fill="#65c13c"/>
<rect x="307" y="61" width="3.6" height="3.6" fill="#6bc33c"/>
<rect x="310" y="61" width="3.6" height="3.6" fill="#71c53c"/>
<rect x="313" y="61" width="3.6" height="3.6" fill="#7ac73c"/>
<rect x="316" y="61" width="3.6" height="3.6" fill="#84ca3c"/>
<rect x="319" y="61" width="3.6" height="3.6" fill="#8fcd3b"/>
<rect x="322" y="61" width="3.6" height="3.6" fill="#99d13b"/>
<rect x="325" y="61" width="3.6" height="3.6" fill="#a3d43a"/>
<rect x="328" y="61" width="3.6" height="3.6" fill="#acd739"/>
<rect x="331" y="61" width="3.6" height="3.6" fill="#b5da39"/>
<rect x="334" y="61" width="3.6" height="3.6" fill="#bcdc38"/>
<rect x="337" y="61" width="3.6" height="3.6" fill="#c3df37"/>
<rect x="340" y="61" width="3.6" height="3.6" fill="#cae137"/>
<rect x="343" y="61" width="3.6" height="3.6" fill="#cfe337"/>
<rect x="262" y="64" width="3.6" height="3.6" fill="#51ba48"/>
<rect x="265" y="64" width="3.6" height="3.6" fill="#52ba47"/>
<rect x="268" y="64" width="3.6" height="3.6" fill="#53ba45"/>
<rect x="271" y="64" width="3.6" height="3.6" fill="#54bb44"/>
<rect x="274" y="64" width="3.6" height="3.6" fill="#55bb43"/>
<rect x="277" y="64" width="3.6" height="3.6" fill="#56bb42"/>
<rect x="280" y="64" width="3.6" height="3.6" fill="#56bc41"/>
<rect x="283" y="64" width="3.6" height="3.6" fill="#57bc40"/>
<rect x="286" y="64" width="3.6" height="3.6" fill="#58bd3f"/>
<rect x="289" y="64" width="3.6" height="3.6" fill="#59bd3f"/>
<rect x="292" y="64" width="3.6" height="3.6" fill="#5abe3e"/>
<rect x="295" y="64" width="3.6" height="3.6" fill="#5cbe3d"/>
<rect x="298" y="64" width="3.6" height="3.6" fill="#5dbf3d"/>
<rect x="301" y="64" width="3.6" height="3.6" fill="#60c03d"/>
<rect x="304" y="64" width="3.6" height="3.6" fill="#63c13d"/>
<rect x="307" y="64" width="3.6" height="3.6" fill="#68c23d"/>
<rect x="310" y="64" width="3.6" height="3.6" fill="#6fc43d"/>
<rect x="313" y="64" width="3.6" height="3.6" fill="#77c73d"/>
<rect x="316" y="64" width="3.6" height="3.6" fill="#82ca3d"/>
<rect x="319" y="64" width="3.6" height="3.6" fill="#8dcd3c"/>
<rect x="322" y="64" width="3.6" height="3.6" fill="#98d03c"/>
<rect x="325" y="64" width="3.6" height="3.6" fill="#a3d43b"/>
<rect x="328" y="64" width="3.6" height="3.6" fill="#add73b"/>
<rect x="331" y="64" width="3.6" height="3.6" fill="#b6da3a"/>
<rect x="334" y="64" width="3.6" height="3.6" fill="#bedd39"/>
<rect x="337" y="64" width="3.6" height="3.6" fill="#c5df39"/>
<rect x="340" y="64" width="3.6" height="3.6" fill="#cbe138"/>
<rect x="343" y="64" width="3.6" height="3.6" fill="#d1e338"/>
<rect x="346" y="64" width="3.6" height="3.6" fill="#d6e538"/>
<rect x="262" y="67" width="3.6" height="3.6" fill="#50ba4a"/>
<rect x="265" y="67" width="3.6" height="3.6" fill="#51ba49"/>
<rect x="268" y="67" width="3.6" height="3.6" fill="#52ba47"/>
<rect x="271" y="67" width="3.6" height="3.6" fill="#53ba46"/>
<rect x="274" y="67" width="3.6" height="3.6" fill="#54bb45"/>
<rect x="277" y="67" width="3.6" height="3.6" fill="#55bb44"/>
<rect x="280" y="67" width="3.6" height="3.6" fill="#55bb42"/>
<rect x="283" y="67" width="3.6" height="3.6" fill="#56bc41"/>
<rect x="286" y="67" width="3.6" height="3.6" fill="#57bc40"/>
<rect x="289" y="67" width="3.6" height="3.6" fill="#58bd3f"/>
<rect x="292" y="67" width="3.6" height="3.6" fill="#59bd3e"/>
<rect x="295" y="67" width="3.6" height="3.6" fill="#5abe3e"/>
<rect x="298" y="67" width="3.6" height="3.6" fill="#5cbe3d"/>
<rect x="301" y="67" width="3.6" height="3.6" fill="#5ebf3d"/>
<rect x="304" y="67" width="3.6" height="3.6" fill="#61c03d"/>
<rect x="307" y="67" width="3.6" height="3.6" fill="#66c13d"/>
<rect x="310" y="67" width="3.6" height="3.6" fill="#6cc33d"/>
<rect x="313" y="67" width="3.6" height="3.6" fill="#75c63e"/>
<rect x="316" y="67" width="3.6" height="3.6" fill="#80c93e"/>
<rect x="319" y="67" width="3.6" height="3.6" fill="#8bcd3e"/>
<rect x="322" y="67" width="3.6" height="3.6" fill="#97d03e"/>
<rect x="325" y="67" width="3.6" height="3.6" fill="#a2d43d"/>
<rect x="328" y="67" width="3.6" height="3.6" fill="#add73c"/>
<rect x="331" y="67" width="3.6" height="3.6" fill="#b6da3b"/>
<rect x="334" y="67" width="3.6" height="3.6" fill="#bfdd3a"/>
<rect x="337" y="67" width="3.6" height="3.6" fill="#c6df3a"/>
<rect x="340" y="67" width="3.6" height="3.6" fill="#cce139"/>
<rect x="343" y="67" width="3.6" height="3.6" fill="#d2e339"/>
<rect x="346" y="67" width="3.6" height="3.6" fill="#d7e539"/>
<rect x="349" y="67" width="3.6" height="3.6" fill="#dbe739"/>
<rect x="262" y="70" width="3.6" height="3.6" fill="#4fb94d"/>
<rect x="265" y="70" width="3.6" height="3.6" fill="#50b94b"/>
<rect x="268" y="70" width="3.6" height="3.6" fill="#51ba4a"/>
<rect x="271" y="70" width="3.6" height="3.6" fill="#52ba48"/>
<rect x="274" y="70" width="3.6" height="3.6" fill="#53ba47"/>
<rect x="277" y="70" width="3.6" height="3.6" fill="#54bb46"/>
<rect x="280" y="70" width="3.6" height="3.6" fill="#54bb44"/>
<rect x="283" y="70" width="3.6" height="3.6" fill="#55bb43"/>
<rect x="286" y="70" width="3.6" height="3.6" fill="#56bc41"/>
<rect x="289" y="70" width="3.6" height="3.6" fill="#56bc40"/>
<rect x="292" y="70" width="3.6" height="3.6" fill="#57bc3f"/>
<rect x="295" y="70" width="3.6" height="3.6" fill="#59bd3e"/>
<rect x="298" y="70" width="3.6" height="3.6" fill="#5abe3d"/>
<rect x="301" y="70" width="3.6" height="3.6" fill="#5dbe3c"/>
<rect x="304" y="70" width="3.6" height="3.6" fill="#60c03c"/>
<rect x="307" y="70" width="3.6" height="3.6" fill="#65c13d"/>
<rect x="310" y="70" width="3.6" height="3.6" fill="#6bc33e"/>
<rect x="313" y="70" width="3.6" height="3.6" fill="#74c63e"/>
<rect x="316" y="70" width="3.6" height="3.6" fill="#7fc93f"/>
<rect x="319" y="70" width="3.6" height="3.6" fill="#8bcc3f"/>
<rect x="322" y="70" width="3.6" height="3.6" fill="#97d03f"/>
<rect x="325" y="70" width="3.6" height="3.6" fill="#a2d43f"/>
<rect x="328" y="70" width="3.6" height="3.6" fill="#add73e"/>
<rect x="331" y="70" width="3.6" height="3.6" fill="#b7da3d"/>
<rect x="334" y="70" width="3.6" height="3.6" fill="#bfdd3c"/>
<rect x="337" y="70" width="3.6" height="3.6" fill="#c7df3b"/>
<rect x="340" y="70" width="3.6" height="3.6" fill="#cde13b"/>
<rect x="343" y="70" width="3.6" height="3.6" fill="#d3e33a"/>
<rect x="346" y="70" width="3.6" height="3.6" fill="#d8e53a"/>
<rect x="349" y="70" width="3.6" height="3.6" fill="#dce739"/>
<rect x="352" y="70" width="3.6" height="3.6" fill="#e0e839"/>
<rect x="262" y="73" width="3.6" height="3.6" fill="#4eb94f"/>
<rect x="265" y="73" width="3.6" height="3.6" fill="#4fb94e"/>
<rect x="268" y="73" width="3.6" height="3.6" fill="#50b94c"/>
<rect x="271" y="73" width="3.6" height="3.6" fill="#51ba4b"/>
<rect x="274" y="73" width="3.6" height="3.6" fill="#52ba49"/>
<rect x="277" y="73" width="3.6" height="3.6" fill="#53ba48"/>
<rect x="280" y="73" width="3.6" height="3.6" fill="#54bb46"/>
<rect x="283" y="73" width="3.6" height="3.6" fill="#54bb45"/>
<rect x="286" y="73" width="3.6" height="3.6" fill="#55bb43"/>
<rect x="289" y="73" width="3.6" height="3.6" fill="#55bc41"/>
<rect x="292" y="73" width="3.6" height="3.6" fill="#56bc3f"/>
<rect x="295" y="73" width="3.6" height="3.6" fill="#58bc3d"/>
<rect x="298" y="73" width="3.6" height="3.6" fill="#5abd3c"/>
<rect x="301" y="73" width="3.6" height="3.6" fill="#5cbe3c"/>
<rect x="304" y="73" width="3.6" height="3.6" fill="#60bf3c"/>
<rect x="307" y="73" width="3.6" height="3.6" fill="#65c13c"/>
<rect x="310" y="73" width="3.6" height="3.6" fill="#6cc33d"/>
<rect x="313" y="73" width="3.6" height="3.6" fill="#75c63e"/>
<rect x="316" y="73" width="3.6" height="3.6" fill="#7fc93f"/>
<rect x="319" y="73" width="3.6" height="3.6" fill="#8bcc40"/>
<rect x="322" y="73" width="3.6" height="3.6" fill="#97d041"/>
<rect x="325" y="73" width="3.6" height="3.6" fill="#a3d441"/>
<rect x="328" y="73" width="3.6" height="3.6" fill="#aed741"/>
<rect x="331" y="73" width="3.6" height="3.6" fill="#b8da40"/>
<rect x="334" y="73" width="3.6" height="3.6" fill="#c0dd3e"/>
<rect x="337" y="73" width="3.6" height="3.6" fill="#c8df3d"/>
<rect x="340" y="73" width="3.6" height="3.6" fill="#cee13c"/>
<rect x="343" y="73" width="3.6" height="3.6" fill="#d4e33b"/>
<rect x="346" y="73" width="3.6" height="3.6" fill="#d9e53b"/>
<rect x="349" y="73" width="3.6" height="3.6" fill="#dde73a"/>
<rect x="352" y="73" width="3.6" height="3.6" fill="#e1e83a"/>
<rect x="355" y="73" width="3.6" height="3.6" fill="#e5ea3a"/>
<rect x="262" y="76" width="3.6" height="3.6" fill="#4db952"/>
<rect x="265" y="76" width="3.6" height="3.6" fill="#4eb951"/>
<rect x="268" y="76" width="3.6" height="3.6" fill="#4fb94f"/>
<rect x="271" y="76" width="3.6" height="3.6" fill="#50b94e"/>
<rect x="274" y="76" width="3.6" height="3.6" fill="#51ba4c"/>
<rect x="277" y="76" width="3.6" height="3.6" fill="#52ba4a"/>
<rect x="280" y="76" width="3.6" height="3.6" fill="#53ba48"/>
<rect x="283" y="76" width="3.6" height="3.6" fill="#53bb46"/>
<rect x="286" y="76" width="3.6" height="3.6" fill="#54bb44"/>
<rect x="289" y="76" width="3.6" height="3.6" fill="#55bb41"/>
<rect x="292" y="76" width="3.6" height="3.6" fill="#56bb3f"/>
<rect x="295" y="76" width="3.6" height="3.6" fill="#57bc3d"/>
<rect x="298" y="76" width="3.6" height="3.6" fill="#59bd3c"/>
<rect x="301" y="76" width="3.6" height="3.6" fill="#5cbe3b"/>
<rect x="304" y="76" width="3.6" height="3.6" fill="#61bf3b"/>
<rect x="307" y="76" width="3.6" height="3.6" fill="#66c13c"/>
<rect x="310" y="76" width="3.6" height="3.6" fill="#6ec33d"/>
<rect x="313" y="76" width="3.6" height="3.6" fill="#77c63e"/>
<rect x="316" y="76" width="3.6" height="3.6" fill="#81c940"/>
<rect x="319" y="76" width="3.6" height="3.6" fill="#8dcd42"/>
<rect x="322" y="76" width="3.6" height="3.6" fill="#99d143"/>
<rect x="325" y="76" width="3.6" height="3.6" fill="#a5d444"/>
<rect x="328" y="76" width="3.6" height="3.6" fill="#afd843"/>
<rect x="331" y="76" width="3.6" height="3.6" fill="#b9db42"/>
<rect x="334" y="76" width="3.6" height="3.6" fill="#c1dd40"/>
<rect x="337" y="76" width="3.6" height="3.6" fill="#c8e03f"/>
<rect x="340" y="76" width="3.6" height="3.6" fill="#cfe13d"/>
<rect x="343" y="76" width="3.6" height="3.6" fill="#d4e33c"/>
<rect x="346" y="76" width="3.6" height="3.6" fill="#d9e53b"/>
<rect x="349" y="76" width="3.6" height="3.6" fill="#dee63b"/>
<rect x="352" y="76" width="3.6" height="3.6" fill="#e2e83b"/>
<rect x="355" y="76" width="3.6" height="3.6" fill="#e5ea3b"/>
<rect x="358" y="76" width="3.6" height="3.6" fill="#e8eb3b"/>
<rect x="262" y="79" width="3.6" height="3.6" fill="#4cb855"/>
<rect x="265" y="79" width="3.6" height="3.6" fill="#4db853"/>
<rect x="268" y="79" width="3.6" height="3.6" fill="#4fb952"/>
<rect x="271" y="79" width="3.6" height="3.6" fill="#50b950"/>
<rect x="274" y="79" width="3.6" height="3.6" fill="#51b94f"/>
<rect x="277" y="79" width="3.6" height="3.6" fill="#51ba4d"/>
<rect x="280" y="79" width="3.6" height="3.6" fill="#52ba4b"/>
<rect x="283" y="79" width="3.6" height="3.6" fill="#53ba48"/>
<rect x="286" y="79" width="3.6" height="3.6" fill="#53bb45"/>
<rect x="289" y="79" width="3.6" height="3.6" fill="#54bb42"/>
<rect x="292" y="79" width="3.6" height="3.6" fill="#55bb3f"/>
<rect x="295" y="79" width="3.6" height="3.6" fill="#57bc3c"/>
<rect x="298" y="79" width="3.6" height="3.6" fill="#59bc3a"/>
<rect x="301" y="79" width="3.6" height="3.6" fill="#5dbd3a"/>
<rect x="304" y="79" width="3.6" height="3.6" fill="#62bf3a"/>
<rect x="307" y="79" width="3.6" height="3.6" fill="#68c13b"/>
<rect x="310" y="79" width="3.6" height="3.6" fill="#70c33c"/>
<rect x="313" y="79" width="3.6" height="3.6" fill="#79c63e"/>
<rect x="316" y="79" width="3.6" height="3.6" fill="#84ca40"/>
<rect x="319" y="79" width="3.6" height="3.6" fill="#90cd43"/>
<rect x="322" y="79" width="3.6" height="3.6" fill="#9bd145"/>
<rect x="325" y="79" width="3.6" height="3.6" fill="#a7d546"/>
<rect x="328" y="79" width="3.6" height="3.6" fill="#b1d846"/>
<rect x="331" y="79" width="3.6" height="3.6" fill="#badb44"/>
<rect x="334" y="79" width="3.6" height="3.6" fill="#c2de42"/>
<rect x="337" y="79" width="3.6" height="3.6" fill="#c9e03f"/>
<rect x="340" y="79" width="3.6" height="3.6" fill="#cfe23e"/>
<rect x="343" y="79" width="3.6" height="3.6" fill="#d5e33c"/>
<rect x="346" y="79" width="3.6" height="3.6" fill="#dae53c"/>
<rect x="349" y="79" width="3.6" height="3.6" fill="#dee73b"/>
<rect x="352" y="79" width="3.6" height="3.6" fill="#e2e83b"/>
<rect x="355" y="79" width="3.6" height="3.6" fill="#e6ea3c"/>
<rect x="358" y="79" width="3.6" height="3.6" fill="#e9eb3c"/>
<rect x="361" y="79" width="3.6" height="3.6" fill="#ebeb3c"/>
<rect x="262" y="82" width="3.6" height="3.6" fill="#4bb858"/>
<rect x="265" y="82" width="3.6" height="3.6" fill="#4cb856"/>
<rect x="268" y="82" width="3.6" height="3.6" fill="#4eb855"/>
<rect x="271" y="82" width="3.6" height="3.6" fill="#4fb953"/>
<rect x="274" y="82" width="3.6" height="3.6" fill="#50b951"/>
<rect x="277" y="82" width="3.6" height="3.6" fill="#51b94f"/>
<rect x="280" y="82" width="3.6" height="3.6" fill="#52ba4d"/>
<rect x="283" y="82" width="3.6" height="3.6" fill="#52ba4a"/>
<rect x="286" y="82" width="3.6" height="3.6" fill="#53ba46"/>
<rect x="289" y="82" width="3.6" height="3.6" fill="#54ba42"/>
<rect x="292" y="82" width="3.6" height="3.6" fill="#55bb3e"/>
<rect x="295" y="82" width="3.6" height="3.6" fill="#57bb3b"/>
<rect x="298" y="82" width="3.6" height="3.6" fill="#5abc39"/>
<rect x="301" y="82" width="3.6" height="3.6" fill="#5ebd38"/>
<rect x="304" y="82" width="3.6" height="3.6" fill="#63bf38"/>
<rect x="307" y="82" width="3.6" height="3.6" fill="#6ac139"/>
<rect x="310" y="82" width="3.6" height="3.6" fill="#72c43b"/>
<rect x="313" y="82" width="3.6" height="3.6" fill="#7cc73e"/>
<rect x="316" y="82" width="3.6" height="3.6" fill="#87ca41"/>
<rect x="319" y="82" width="3.6" height="3.6" fill="#92ce44"/>
<rect x="322" y="82" width="3.6" height="3.6" fill="#9ed246"/>
<rect x="325" y="82" width="3.6" height="3.6" fill="#a9d648"/>
<rect x="328" y="82" width="3.6" height="3.6" fill="#b3d948"/>
<rect x="331" y="82" width="3.6" height="3.6" fill="#bcdc46"/>
<rect x="334" y="82" width="3.6" height="3.6" fill="#c3df43"/>
<rect x="337" y="82" width="3.6" height="3.6" fill="#cae140"/>
<rect x="340" y="82" width="3.6" height="3.6" fill="#d0e33e"/>
<rect x="343" y="82" width="3.6" height="3.6" fill="#d5e53c"/>
<rect x="346" y="82" width="3.6" height="3.6" fill="#dae63b"/>
<rect x="349" y="82" width="3.6" height="3.6" fill="#dee73b"/>
<rect x="352" y="82" width="3.6" height="3.6" fill="#e2e83c"/>
<rect x="355" y="82" width="3.6" height="3.6" fill="#e6e93c"/>
<rect x="358" y="82" width="3.6" height="3.6" fill="#e9ea3d"/>
<rect x="361" y="82" width="3.6" height="3.6" fill="#eceb3d"/>
<rect x="364" y="82" width="3.6" height="3.6" fill="#eeea3c"/>
<rect x="262" y="85" width="3.6" height="3.6" fill="#4ab85b"/>
<rect x="265" y="85" width="3.6" height="3.6" fill="#4cb859"/>
<rect x="268" y="85" width="3.6" height="3.6" fill="#4db857"/>
<rect x="271" y="85" width="3.6" height="3.6" fill="#4eb955"/>
<rect x="274" y="85" width="3.6" height="3.6" fill="#4fb953"/>
<rect x="277" y="85" width="3.6" height="3.6" fill="#50b951"/>
<rect x="280" y="85" width="3.6" height="3.6" fill="#51ba4e"/>
<rect x="283" y="85" width="3.6" height="3.6" fill="#52ba4b"/>
<rect x="286" y="85" width="3.6" height="3.6" fill="#52ba46"/>
<rect x="289" y="85" width="3.6" height="3.6" fill="#53ba41"/>
<rect x="292" y="85" width="3.6" height="3.6" fill="#54ba3d"/>
<rect x="295" y="85" width="3.6" height="3.6" fill="#56bb3a"/>
<rect x="298" y="85" width="3.6" height="3.6" fill="#5abc38"/>
<rect x="301" y="85" width="3.6" height="3.6" fill="#5ebd37"/>
<rect x="304" y="85" width="3.6" height="3.6" fill="#64bf37"/>
<rect x="307" y="85" width="3.6" height="3.6" fill="#6cc138"/>
<rect x="310" y="85" width="3.6" height="3.6" fill="#75c43b"/>
<rect x="313" y="85" width="3.6" height="3.6" fill="#7fc73e"/>
<rect x="316" y="85" width="3.6" height="3.6" fill="#8acb42"/>
<rect x="319" y="85" width="3.6" height="3.6" fill="#95cf45"/>
<rect x="322" y="85" width="3.6" height="3.6" fill="#a1d348"/>
<rect x="325" y="85" width="3.6" height="3.6" fill="#acd749"/>
<rect x="328" y="85" width="3.6" height="3.6" fill="#b5da49"/>
<rect x="331" y="85" width="3.6" height="3.6" fill="#bede47"/>
<rect x="334" y="85" width="3.6" height="3.6" fill="#c5e144"/>
<rect x="337" y="85" width="3.6" height="3.6" fill="#cbe340"/>
<rect x="340" y="85" width="3.6" height="3.6" fill="#d1e53e"/>
<rect x="343" y="85" width="3.6" height="3.6" fill="#d6e63c"/>
<rect x="346" y="85" width="3.6" height="3.6" fill="#dae73b"/>
<rect x="349" y="85" width="3.6" height="3.6" fill="#dfe83b"/>
<rect x="352" y="85" width="3.6" height="3.6" fill="#e3e93c"/>
<rect x="355" y="85" width="3.6" height="3.6" fill="#e6e93d"/>
<rect x="358" y="85" width="3.6" height="3.6" fill="#e9ea3d"/>
<rect x="361" y="85" width="3.6" height="3.6" fill="#ecea3e"/>
<rect x="364" y="85" width="3.6" height="3.6" fill="#efea3d"/>
<rect x="367" y="85" width="3.6" height="3.6" fill="#f1e83c"/>
<rect x="262" y="88" width="3.6" height="3.6" fill="#49b85d"/>
<rect x="265" y="88" width="3.6" height="3.6" fill="#4bb85c"/>
<rect x="268" y="88" width="3.6" height="3.6" fill="#4cb85a"/>
<rect x="271" y="88" width="3.6" height="3.6" fill="#4db858"/>
<rect x="274" y="88" width="3.6" height="3.6" fill="#4eb955"/>
<rect x="277" y="88" width="3.6" height="3.6" fill="#4fb952"/>
<rect x="280" y="88" width="3.6" height="3.6" fill="#50ba4f"/>
<rect x="283" y="88" width="3.6" height="3.6" fill="#51ba4b"/>
<rect x="286" y="88" width="3.6" height="3.6" fill="#52ba46"/>
<rect x="289" y="88" width="3.6" height="3.6" fill="#52ba41"/>
<rect x="292" y="88" width="3.6" height="3.6" fill="#54ba3c"/>
<rect x="295" y="88" width="3.6" height="3.6" fill="#56bb39"/>
<rect x="298" y="88" width="3.6" height="3.6" fill="#5abc36"/>
<rect x="301" y="88" width="3.6" height="3.6" fill="#5ebd35"/>
<rect x="304" y="88" width="3.6" height="3.6" fill="#65bf36"/>
<rect x="307" y="88" width="3.6" height="3.6" fill="#6dc138"/>
<rect x="310" y="88" width="3.6" height="3.6" fill="#77c43b"/>
<rect x="313" y="88" width="3.6" height="3.6" fill="#82c83f"/>
<rect x="316" y="88" width="3.6" height="3.6" fill="#8dcc43"/>
<rect x="319" y="88" width="3.6" height="3.6" fill="#99d047"/>
<rect x="322" y="88" width="3.6" height="3.6" fill="#a5d44b"/>
<rect x="325" y="88" width="3.6" height="3.6" fill="#afd84c"/>
<rect x="328" y="88" width="3.6" height="3.6" fill="#b8dc4c"/>
<rect x="331" y="88" width="3.6" height="3.6" fill="#c0df4a"/>
<rect x="334" y="88" width="3.6" height="3.6" fill="#c7e246"/>
<rect x="337" y="88" width="3.6" height="3.6" fill="#cde542"/>
<rect x="340" y="88" width="3.6" height="3.6" fill="#d2e63e"/>
<rect x="343" y="88" width="3.6" height="3.6" fill="#d6e83b"/>
<rect x="346" y="88" width="3.6" height="3.6" fill="#dbe83a"/>
<rect x="349" y="88" width="3.6" height="3.6" fill="#dfe93b"/>
<rect x="352" y="88" width="3.6" height="3.6" fill="#e3e93c"/>
<rect x="355" y="88" width="3.6" height="3.6" fill="#e6e93d"/>
<rect x="358" y="88" width="3.6" height="3.6" fill="#eae93e"/>
<rect x="361" y="88" width="3.6" height="3.6" fill="#edea3e"/>
<rect x="364" y="88" width="3.6" height="3.6" fill="#efe93e"/>
<rect x="367" y="88" width="3.6" height="3.6" fill="#f1e63d"/>
<rect x="370" y="88" width="3.6" height="3.6" fill="#f3e13c"/>
<rect x="262" y="91" width="3.6" height="3.6" fill="#48b761"/>
<rect x="265" y="91" width="3.6" height="3.6" fill="#4ab85e"/>
<rect x="268" y="91" width="3.6" height="3.6" fill="#4bb85c"/>
<rect x="271" y="91" width="3.6" height="3.6" fill="#4cb85a"/>
<rect x="274" y="91" width="3.6" height="3.6" fill="#4db957"/>
<rect x="277" y="91" width="3.6" height="3.6" fill="#4eb954"/>
<rect x="280" y="91" width="3.6" height="3.6" fill="#4fba50"/>
<rect x="283" y="91" width="3.6" height="3.6" fill="#50ba4b"/>
<rect x="286" y="91" width="3.6" height="3.6" fill="#51ba46"/>
<rect x="289" y="91" width="3.6" height="3.6" fill="#52ba41"/>
<rect x="292" y="91" width="3.6" height="3.6" fill="#53ba3c"/>
<rect x="295" y="91" width="3.6" height="3.6" fill="#56bb38"/>
<rect x="298" y="91" width="3.6" height="3.6" fill="#59bc35"/>
<rect x="301" y="91" width="3.6" height="3.6" fill="#5ebd34"/>
<rect x="304" y="91" width="3.6" height="3.6" fill="#66bf35"/>
<rect x="307" y="91" width="3.6" height="3.6" fill="#6ec238"/>
<rect x="310" y="91" width="3.6" height="3.6" fill="#79c53c"/>
<rect x="313" y="91" width="3.6" height="3.6" fill="#85c941"/>
<rect x="316" y="91" width="3.6" height="3.6" fill="#91cd47"/>
<rect x="319" y="91" width="3.6" height="3.6" fill="#9dd14c"/>
<rect x="322" y="91" width="3.6" height="3.6" fill="#a9d550"/>
<rect x="325" y="91" width="3.6" height="3.6" fill="#b4da52"/>
<rect x="328" y="91" width="3.6" height="3.6" fill="#bdde51"/>
<rect x="331" y="91" width="3.6" height="3.6" fill="#c4e14f"/>
<rect x="334" y="91" width="3.6" height="3.6" fill="#cae44a"/>
<rect x="337" y="91" width="3.6" height="3.6" fill="#cfe744"/>
<rect x="340" y="91" width="3.6" height="3.6" fill="#d3e83f"/>
<rect x="343" y="91" width="3.6" height="3.6" fill="#d7e93c"/>
<rect x="346" y="91" width="3.6" height="3.6" fill="#dce93b"/>
<rect x="349" y="91" width="3.6" height="3.6" fill="#e0e93b"/>
<rect x="352" y="91" width="3.6" height="3.6" fill="#e4e83c"/>
<rect x="355" y="91" width="3.6" height="3.6" fill="#e7e83d"/>
<rect x="358" y="91" width="3.6" height="3.6" fill="#eae83e"/>
<rect x="361" y="91" width="3.6" height="3.6" fill="#ede83f"/>
<rect x="364" y="91" width="3.6" height="3.6" fill="#f0e73f"/>
<rect x="367" y="91" width="3.6" height="3.6" fill="#f2e33d"/>
<rect x="370" y="91" width="3.6" height="3.6" fill="#f3dd3c"/>
<rect x="373" y="91" width="3.6" height="3.6" fill="#f4d539"/>
<rect x="265" y="94" width="3.6" height="3.6" fill="#49b862"/>
<rect x="268" y="94" width="3.6" height="3.6" fill="#4ab85f"/>
<rect x="271" y="94" width="3.6" height="3.6" fill="#4bb95d"/>
<rect x="274" y="94" width="3.6" height="3.6" fill="#4cb95b"/>
<rect x="277" y="94" width="3.6" height="3.6" fill="#4db957"/>
<rect x="280" y="94" width="3.6" height="3.6" fill="#4fba53"/>
<rect x="283" y="94" width="3.6" height="3.6" fill="#4fba4d"/>
<rect x="286" y="94" width="3.6" height="3.6" fill="#50ba48"/>
<rect x="289" y="94" width="3.6" height="3.6" fill="#51ba42"/>
<rect x="292" y="94" width="3.6" height="3.6" fill="#53ba3c"/>
<rect x="295" y="94" width="3.6" height="3.6" fill="#55bb38"/>
<rect x="298" y="94" width="3.6" height="3.6" fill="#59bc35"/>
<rect x="301" y="94" width="3.6" height="3.6" fill="#5ebd35"/>
<rect x="304" y="94" width="3.6" height="3.6" fill="#66bf36"/>
<rect x="307" y="94" width="3.6" height="3.6" fill="#70c23a"/>
<rect x="310" y="94" width="3.6" height="3.6" fill="#7bc63f"/>
<rect x="313" y="94" width="3.6" height="3.6" fill="#88ca45"/>
<rect x="316" y="94" width="3.6" height="3.6" fill="#95ce4c"/>
<rect x="319" y="94" width="3.6" height="3.6" fill="#a2d352"/>
<rect x="322" y="94" width="3.6" height="3.6" fill="#aed758"/>
<rect x="325" y="94" width="3.6" height="3.6" fill="#b9dc5b"/>
<rect x="328" y="94" width="3.6" height="3.6" fill="#c2e05b"/>
<rect x="331" y="94" width="3.6" height="3.6" fill="#c9e457"/>
<rect x="334" y="94" width="3.6" height="3.6" fill="#cee751"/>
<rect x="337" y="94" width="3.6" height="3.6" fill="#d2e94a"/>
<rect x="340" y="94" width="3.6" height="3.6" fill="#d5ea43"/>
<rect x="343" y="94" width="3.6" height="3.6" fill="#d9ea3e"/>
<rect x="346" y="94" width="3.6" height="3.6" fill="#dde93d"/>
<rect x="349" y="94" width="3.6" height="3.6" fill="#e1e83c"/>
<rect x="352" y="94" width="3.6" height="3.6" fill="#e5e73d"/>
<rect x="355" y="94" width="3.6" height="3.6" fill="#e8e63e"/>
<rect x="358" y="94" width="3.6" height="3.6" fill="#ebe53f"/>
<rect x="361" y="94" width="3.6" height="3.6" fill="#eee53f"/>
<rect x="364" y="94" width="3.6" height="3.6" fill="#f0e23f"/>
<rect x="367" y="94" width="3.6" height="3.6" fill="#f2dd3d"/>
<rect x="370" y="94" width="3.6" height="3.6" fill="#f3d53b"/>
<rect x="373" y="94" width="3.6" height="3.6" fill="#f4cc39"/>
<rect x="376" y="94" width="3.6" height="3.6" fill="#f5c336"/>
<rect x="265" y="97" width="3.6" height="3.6" fill="#47b867"/>
<rect x="268" y="97" width="3.6" height="3.6" fill="#49b865"/>
<rect x="271" y="97" width="3.6" height="3.6" fill="#4ab963"/>
<rect x="274" y="97" width="3.6" height="3.6" fill="#4bb960"/>
<rect x="277" y="97" width="3.6" height="3.6" fill="#4dba5c"/>
<rect x="280" y="97" width="3.6" height="3.6" fill="#4eba57"/>
<rect x="283" y="97" width="3.6" height="3.6" fill="#4fba51"/>
<rect x="286" y="97" width="3.6" height="3.6" fill="#50ba4b"/>
<rect x="289" y="97" width="3.6" height="3.6" fill="#51bb44"/>
<rect x="292" y="97" width="3.6" height="3.6" fill="#52bb3f"/>
<rect x="295" y="97" width="3.6" height="3.6" fill="#54bb3a"/>
<rect x="298" y="97" width="3.6" height="3.6" fill="#58bc37"/>
<rect x="301" y="97" width="3.6" height="3.6" fill="#5dbd37"/>
<rect x="304" y="97" width="3.6" height="3.6" fill="#66c039"/>
<rect x="307" y="97" width="3.6" height="3.6" fill="#71c33e"/>
<rect x="310" y="97" width="3.6" height="3.6" fill="#7ec744"/>
<rect x="313" y="97" width="3.6" height="3.6" fill="#8ccc4c"/>
<rect x="316" y="97" width="3.6" height="3.6" fill="#9ad054"/>
<rect x="319" y="97" width="3.6" height="3.6" fill="#a8d55c"/>
<rect x="322" y="97" width="3.6" height="3.6" fill="#b5da63"/>
<rect x="325" y="97" width="3.6" height="3.6" fill="#c0de68"/>
<rect x="328" y="97" width="3.6" height="3.6" fill="#c9e368"/>
<rect x="331" y="97" width="3.6" height="3.6" fill="#cfe765"/>
<rect x="334" y="97" width="3.6" height="3.6" fill="#d3ea5e"/>
<rect x="337" y="97" width="3.6" height="3.6" fill="#d6ec55"/>
<rect x="340" y="97" width="3.6" height="3.6" fill="#d9ec4b"/>
<rect x="343" y="97" width="3.6" height="3.6" fill="#dceb45"/>
<rect x="346" y="97" width="3.6" height="3.6" fill="#e0e941"/>
<rect x="349" y="97" width="3.6" height="3.6" fill="#e4e63f"/>
<rect x="352" y="97" width="3.6" height="3.6" fill="#e7e33f"/>
<rect x="355" y="97" width="3.6" height="3.6" fill="#eae03f"/>
<rect x="358" y="97" width="3.6" height="3.6" fill="#ecde3f"/>
<rect x="361" y="97" width="3.6" height="3.6" fill="#efdc40"/>
<rect x="364" y="97" width="3.6" height="3.6" fill="#f1d83f"/>
<rect x="367" y="97" width="3.6" height="3.6" fill="#f2d23d"/>
<rect x="370" y="97" width="3.6" height="3.6" fill="#f4ca3a"/>
<rect x="373" y="97" width="3.6" height="3.6" fill="#f4c137"/>
<rect x="376" y="97" width="3.6" height="3.6" fill="#f4b635"/>
<rect x="379" y="97" width="3.6" height="3.6" fill="#f4ab33"/>
<rect x="265" y="100" width="3.6" height="3.6" fill="#45b771"/>
<rect x="268" y="100" width="3.6" height="3.6" fill="#47b86f"/>
<rect x="271" y="100" width="3.6" height="3.6" fill="#48b86c"/>
<rect x="274" y="100" width="3.6" height="3.6" fill="#4ab968"/>
<rect x="277" y="100" width="3.6" height="3.6" fill="#4cba64"/>
<rect x="280" y="100" width="3.6" height="3.6" fill="#4dbb5e"/>
<rect x="283" y="100" width="3.6" height="3.6" fill="#4fbb58"/>
<rect x="286" y="100" width="3.6" height="3.6" fill="#50bb51"/>
<rect x="289" y="100" width="3.6" height="3.6" fill="#51bb4a"/>
<rect x="292" y="100" width="3.6" height="3.6" fill="#52bb43"/>
<rect x="295" y="100" width="3.6" height="3.6" fill="#54bb3e"/>
<rect x="298" y="100" width="3.6" height="3.6" fill="#57bc3b"/>
<rect x="301" y="100" width="3.6" height="3.6" fill="#5dbe3b"/>
<rect x="304" y="100" width="3.6" height="3.6" fill="#66c13e"/>
<rect x="307" y="100" width="3.6" height="3.6" fill="#72c444"/>
<rect x="310" y="100" width="3.6" height="3.6" fill="#80c94c"/>
<rect x="313" y="100" width="3.6" height="3.6" fill="#90ce55"/>
<rect x="316" y="100" width="3.6" height="3.6" fill="#a0d35f"/>
<rect x="319" y="100" width="3.6" height="3.6" fill="#afd869"/>
<rect x="322" y="100" width="3.6" height="3.6" fill="#bddd72"/>
<rect x="325" y="100" width="3.6" height="3.6" fill="#c8e279"/>
<rect x="328" y="100" width="3.6" height="3.6" fill="#d1e67b"/>
<rect x="331" y="100" width="3.6" height="3.6" fill="#d7ea78"/>
<rect x="334" y="100" width="3.6" height="3.6" fill="#daed71"/>
<rect x="337" y="100" width="3.6" height="3.6" fill="#dcee66"/>
<rect x="340" y="100" width="3.6" height="3.6" fill="#deed5a"/>
<rect x="343" y="100" width="3.6" height="3.6" fill="#e1eb51"/>
<rect x="346" y="100" width="3.6" height="3.6" fill="#e4e64a"/>
<rect x="349" y="100" width="3.6" height="3.6" fill="#e7e145"/>
<rect x="352" y="100" width="3.6" height="3.6" fill="#e9dc42"/>
<rect x="355" y="100" width="3.6" height="3.6" fill="#ecd741"/>
<rect x="358" y="100" width="3.6" height="3.6" fill="#eed240"/>
<rect x="361" y="100" width="3.6" height="3.6" fill="#efcd40"/>
<rect x="364" y="100" width="3.6" height="3.6" fill="#f1c83e"/>
<rect x="367" y="100" width="3.6" height="3.6" fill="#f2c23c"/>
<rect x="370" y="100" width="3.6" height="3.6" fill="#f3ba39"/>
<rect x="373" y="100" width="3.6" height="3.6" fill="#f4b136"/>
<rect x="376" y="100" width="3.6" height="3.6" fill="#f3a633"/>
<rect x="379" y="100" width="3.6" height="3.6" fill="#f39b31"/>
<rect x="382" y="100" width="3.6" height="3.6" fill="#f2922f"/>
<rect x="265" y="103" width="3.6" height="3.6" fill="#42b67e"/>
<rect x="268" y="103" width="3.6" height="3.6" fill="#44b77b"/>
<rect x="271" y="103" width="3.6" height="3.6" fill="#46b877"/>
<rect x="274" y="103" width="3.6" height="3.6" fill="#49ba73"/>
<rect x="277" y="103" width="3.6" height="3.6" fill="#4bbb6e"/>
<rect x="280" y="103" width="3.6" height="3.6" fill="#4dbc68"/>
<rect x="283" y="103" width="3.6" height="3.6" fill="#4fbc61"/>
<rect x="286" y="103" width="3.6" height="3.6" fill="#51bc59"/>
<rect x="289" y="103" width="3.6" height="3.6" fill="#52bc52"/>
<rect x="292" y="103" width="3.6" height="3.6" fill="#52bc4b"/>
<rect x="295" y="103" width="3.6" height="3.6" fill="#53bc46"/>
<rect x="298" y="103" width="3.6" height="3.6" fill="#56bd43"/>
<rect x="301" y="103" width="3.6" height="3.6" fill="#5cbe43"/>
<rect x="304" y="103" width="3.6" height="3.6" fill="#66c247"/>
<rect x="307" y="103" width="3.6" height="3.6" fill="#74c74f"/>
<rect x="310" y="103" width="3.6" height="3.6" fill="#84cc59"/>
<rect x="313" y="103" width="3.6" height="3.6" fill="#96d263"/>
<rect x="316" y="103" width="3.6" height="3.6" fill="#a7d76e"/>
<rect x="319" y="103" width="3.6" height="3.6" fill="#b7dd7a"/>
<rect x="322" y="103" width="3.6" height="3.6" fill="#c5e285"/>
<rect x="325" y="103" width="3.6" height="3.6" fill="#d1e68e"/>
<rect x="328" y="103" width="3.6" height="3.6" fill="#daeb92"/>
<rect x="331" y="103" width="3.6" height="3.6" fill="#dfee8f"/>
<rect x="334" y="103" width="3.6" height="3.6" fill="#e1f188"/>
<rect x="337" y="103" width="3.6" height="3.6" fill="#e3f17c"/>
<rect x="340" y="103" width="3.6" height="3.6" fill="#e5ee6e"/>
<rect x="343" y="103" width="3.6" height="3.6" fill="#e7e960"/>
<rect x="346" y="103" width="3.6" height="3.6" fill="#e9e355"/>
<rect x="349" y="103" width="3.6" height="3.6" fill="#ebdb4c"/>
<rect x="352" y="103" width="3.6" height="3.6" fill="#ecd247"/>
<rect x="355" y="103" width="3.6" height="3.6" fill="#eeca44"/>
<rect x="358" y="103" width="3.6" height="3.6" fill="#efc242"/>
<rect x="361" y="103" width="3.6" height="3.6" fill="#f0bb40"/>
<rect x="364" y="103" width="3.6" height="3.6" fill="#f1b43e"/>
<rect x="367" y="103" width="3.6" height="3.6" fill="#f2ad3b"/>
<rect x="370" y="103" width="3.6" height="3.6" fill="#f3a537"/>
<rect x="373" y="103" width="3.6" height="3.6" fill="#f39d34"/>
<rect x="376" y="103" width="3.6" height="3.6" fill="#f29331"/>
<rect x="379" y="103" width="3.6" height="3.6" fill="#f1892f"/>
<rect x="382" y="103" width="3.6" height="3.6" fill="#f0802e"/>
<rect x="385" y="103" width="3.6" height="3.6" fill="#ef792c"/>
<rect x="265" y="106" width="3.6" height="3.6" fill="#40b68a"/>
<rect x="268" y="106" width="3.6" height="3.6" fill="#42b788"/>
<rect x="271" y="106" width="3.6" height="3.6" fill="#45b984"/>
<rect x="274" y="106" width="3.6" height="3.6" fill="#47ba7f"/>
<rect x="277" y="106" width="3.6" height="3.6" fill="#4abc7a"/>
<rect x="280" y="106" width="3.6" height="3.6" fill="#4dbd74"/>
<rect x="283" y="106" width="3.6" height="3.6" fill="#4fbd6d"/>
<rect x="286" y="106" width="3.6" height="3.6" fill="#51be65"/>
<rect x="289" y="106" width="3.6" height="3.6" fill="#53be5d"/>
<rect x="292" y="106" width="3.6" height="3.6" fill="#53be57"/>
<rect x="295" y="106" width="3.6" height="3.6" fill="#54bd52"/>
<rect x="298" y="106" width="3.6" height="3.6" fill="#56be4f"/>
<rect x="301" y="106" width="3.6" height="3.6" fill="#5bc04f"/>
<rect x="304" y="106" width="3.6" height="3.6" fill="#67c455"/>
<rect x="307" y="106" width="3.6" height="3.6" fill="#77ca5f"/>
<rect x="310" y="106" width="3.6" height="3.6" fill="#8ad06a"/>
<rect x="313" y="106" width="3.6" height="3.6" fill="#9dd776"/>
<rect x="316" y="106" width="3.6" height="3.6" fill="#afdd81"/>
<rect x="319" y="106" width="3.6" height="3.6" fill="#c0e38e"/>
<rect x="322" y="106" width="3.6" height="3.6" fill="#cfe99c"/>
<rect x="325" y="106" width="3.6" height="3.6" fill="#daeda6"/>
<rect x="328" y="106" width="3.6" height="3.6" fill="#e2f1aa"/>
<rect x="331" y="106" width="3.6" height="3.6" fill="#e6f4a9"/>
<rect x="334" y="106" width="3.6" height="3.6" fill="#e8f5a2"/>
<rect x="337" y="106" width="3.6" height="3.6" fill="#e9f395"/>
<rect x="340" y="106" width="3.6" height="3.6" fill="#ebef84"/>
<rect x="343" y="106" width="3.6" height="3.6" fill="#ece771"/>
<rect x="346" y="106" width="3.6" height="3.6" fill="#eddd60"/>
<rect x="349" y="106" width="3.6" height="3.6" fill="#eed254"/>
<rect x="352" y="106" width="3.6" height="3.6" fill="#efc64d"/>
<rect x="355" y="106" width="3.6" height="3.6" fill="#efbb48"/>
<rect x="358" y="106" width="3.6" height="3.6" fill="#f0b044"/>
<rect x="361" y="106" width="3.6" height="3.6" fill="#f0a641"/>
<rect x="364" y="106" width="3.6" height="3.6" fill="#f19d3e"/>
<rect x="367" y="106" width="3.6" height="3.6" fill="#f1963a"/>
<rect x="370" y="106" width="3.6" height="3.6" fill="#f28e36"/>
<rect x="373" y="106" width="3.6" height="3.6" fill="#f18632"/>
<rect x="376" y="106" width="3.6" height="3.6" fill="#f07d2f"/>
<rect x="379" y="106" width="3.6" height="3.6" fill="#ef752d"/>
<rect x="382" y="106" width="3.6" height="3.6" fill="#ef6e2c"/>
<rect x="385" y="106" width="3.6" height="3.6" fill="#ee682b"/>
<rect x="388" y="106" width="3.6" height="3.6" fill="#ed632a"/>
<rect x="265" y="109" width="3.6" height="3.6" fill="#3fb795"/>
<rect x="268" y="109" width="3.6" height="3.6" fill="#41b893"/>
<rect x="271" y="109" width="3.6" height="3.6" fill="#44ba90"/>
<rect x="274" y="109" width="3.6" height="3.6" fill="#47bc8c"/>
<rect x="277" y="109" width="3.6" height="3.6" fill="#4abd87"/>
<rect x="280" y="109" width="3.6" height="3.6" fill="#4dbe82"/>
<rect x="283" y="109" width="3.6" height="3.6" fill="#4fbf7b"/>
<rect x="286" y="109" width="3.6" height="3.6" fill="#52bf74"/>
<rect x="289" y="109" width="3.6" height="3.6" fill="#54bf6d"/>
<rect x="292" y="109" width="3.6" height="3.6" fill="#54bf67"/>
<rect x="295" y="109" width="3.6" height="3.6" fill="#54bf63"/>
<rect x="298" y="109" width="3.6" height="3.6" fill="#57bf62"/>
<rect x="301" y="109" width="3.6" height="3.6" fill="#5ec264"/>
<rect x="304" y="109" width="3.6" height="3.6" fill="#6bc76b"/>
<rect x="307" y="109" width="3.6" height="3.6" fill="#7cce75"/>
<rect x="310" y="109" width="3.6" height="3.6" fill="#91d582"/>
<rect x="313" y="109" width="3.6" height="3.6" fill="#a6dd8e"/>
<rect x="316" y="109" width="3.6" height="3.6" fill="#bae49b"/>
<rect x="319" y="109" width="3.6" height="3.6" fill="#cceaa8"/>
<rect x="322" y="109" width="3.6" height="3.6" fill="#daf0b5"/>
<rect x="325" y="109" width="3.6" height="3.6" fill="#e4f4bf"/>
<rect x="328" y="109" width="3.6" height="3.6" fill="#eaf7c4"/>
<rect x="331" y="109" width="3.6" height="3.6" fill="#edf9c4"/>
<rect x="334" y="109" width="3.6" height="3.6" fill="#eef9bd"/>
<rect x="337" y="109" width="3.6" height="3.6" fill="#eff5af"/>
<rect x="340" y="109" width="3.6" height="3.6" fill="#f0ee9b"/>
<rect x="343" y="109" width="3.6" height="3.6" fill="#f1e483"/>
<rect x="346" y="109" width="3.6" height="3.6" fill="#f1d66c"/>
<rect x="349" y="109" width="3.6" height="3.6" fill="#f1c75d"/>
<rect x="352" y="109" width="3.6" height="3.6" fill="#f1b853"/>
<rect x="355" y="109" width="3.6" height="3.6" fill="#f1a94c"/>
<rect x="358" y="109" width="3.6" height="3.6" fill="#f09c47"/>
<rect x="361" y="109" width="3.6" height="3.6" fill="#f09042"/>
<rect x="364" y="109" width="3.6" height="3.6" fill="#f0863e"/>
<rect x="367" y="109" width="3.6" height="3.6" fill="#f17f3a"/>
<rect x="370" y="109" width="3.6" height="3.6" fill="#f17835"/>
<rect x="373" y="109" width="3.6" height="3.6" fill="#f07031"/>
<rect x="376" y="109" width="3.6" height="3.6" fill="#ef692e"/>
<rect x="379" y="109" width="3.6" height="3.6" fill="#ee632c"/>
<rect x="382" y="109" width="3.6" height="3.6" fill="#ee5d2a"/>
<rect x="385" y="109" width="3.6" height="3.6" fill="#ed5929"/>
<rect x="388" y="109" width="3.6" height="3.6" fill="#eb5529"/>
<rect x="391" y="109" width="3.6" height="3.6" fill="#e85128"/>
<rect x="268" y="112" width="3.6" height="3.6" fill="#41ba9e"/>
<rect x="271" y="112" width="3.6" height="3.6" fill="#44bb9c"/>
<rect x="274" y="112" width="3.6" height="3.6" fill="#47bd99"/>
<rect x="277" y="112" width="3.6" height="3.6" fill="#4abe96"/>
<rect x="280" y="112" width="3.6" height="3.6" fill="#4cbf92"/>
<rect x="283" y="112" width="3.6" height="3.6" fill="#4fbf8d"/>
<rect x="286" y="112" width="3.6" height="3.6" fill="#51c086"/>
<rect x="289" y="112" width="3.6" height="3.6" fill="#53c080"/>
<rect x="292" y="112" width="3.6" height="3.6" fill="#53bf7b"/>
<rect x="295" y="112" width="3.6" height="3.6" fill="#54bf79"/>
<rect x="298" y="112" width="3.6" height="3.6" fill="#58c17a"/>
<rect x="301" y="112" width="3.6" height="3.6" fill="#60c47d"/>
<rect x="304" y="112" width="3.6" height="3.6" fill="#6fca85"/>
<rect x="307" y="112" width="3.6" height="3.6" fill="#82d290"/>
<rect x="310" y="112" width="3.6" height="3.6" fill="#99db9c"/>
<rect x="313" y="112" width="3.6" height="3.6" fill="#b1e3aa"/>
<rect x="316" y="112" width="3.6" height="3.6" fill="#c7ebb7"/>
<rect x="319" y="112" width="3.6" height="3.6" fill="#d9f2c4"/>
<rect x="322" y="112" width="3.6" height="3.6" fill="#e6f7d0"/>
<rect x="325" y="112" width="3.6" height="3.6" fill="#eefbd8"/>
<rect x="328" y="112" width="3.6" height="3.6" fill="#f2fcdc"/>
<rect x="331" y="112" width="3.6" height="3.6" fill="#f4fcdb"/>
<rect x="334" y="112" width="3.6" height="3.6" fill="#f3fad5"/>
<rect x="337" y="112" width="3.6" height="3.6" fill="#f3f5c8"/>
<rect x="340" y="112" width="3.6" height="3.6" fill="#f3ecb1"/>
<rect x="343" y="112" width="3.6" height="3.6" fill="#f4de95"/>
<rect x="346" y="112" width="3.6" height="3.6" fill="#f4cd7a"/>
<rect x="349" y="112" width="3.6" height="3.6" fill="#f3ba68"/>
<rect x="352" y="112" width="3.6" height="3.6" fill="#f2a85a"/>
<rect x="355" y="112" width="3.6" height="3.6" fill="#f19751"/>
<rect x="358" y="112" width="3.6" height="3.6" fill="#f18849"/>
<rect x="361" y="112" width="3.6" height="3.6" fill="#f07b43"/>
<rect x="364" y="112" width="3.6" height="3.6" fill="#f0713e"/>
<rect x="367" y="112" width="3.6" height="3.6" fill="#f06a38"/>
<rect x="370" y="112" width="3.6" height="3.6" fill="#f06433"/>
<rect x="373" y="112" width="3.6" height="3.6" fill="#f05e2f"/>
<rect x="376" y="112" width="3.6" height="3.6" fill="#ef582c"/>
<rect x="379" y="112" width="3.6" height="3.6" fill="#ee532a"/>
<rect x="382" y="112" width="3.6" height="3.6" fill="#ec4e29"/>
<rect x="385" y="112" width="3.6" height="3.6" fill="#eb4b28"/>
<rect x="388" y="112" width="3.6" height="3.6" fill="#e94728"/>
<rect x="391" y="112" width="3.6" height="3.6" fill="#e64427"/>
<rect x="394" y="112" width="3.6" height="3.6" fill="#e14226"/>
<rect x="268" y="115" width="3.6" height="3.6" fill="#42bba8"/>
<rect x="271" y="115" width="3.6" height="3.6" fill="#44bda7"/>
<rect x="274" y="115" width="3.6" height="3.6" fill="#47bea6"/>
<rect x="277" y="115" width="3.6" height="3.6" fill="#4abfa5"/>
<rect x="280" y="115" width="3.6" height="3.6" fill="#4cc0a3"/>
<rect x="283" y="115" width="3.6" height="3.6" fill="#4dc0a0"/>
<rect x="286" y="115" width="3.6" height="3.6" fill="#4fc09b"/>
<rect x="289" y="115" width="3.6" height="3.6" fill="#50c096"/>
<rect x="292" y="115" width="3.6" height="3.6" fill="#50bf92"/>
<rect x="295" y="115" width="3.6" height="3.6" fill="#52c091"/>
<rect x="298" y="115" width="3.6" height="3.6" fill="#57c293"/>
<rect x="301" y="115" width="3.6" height="3.6" fill="#61c698"/>
<rect x="304" y="115" width="3.6" height="3.6" fill="#71cda0"/>
<rect x="307" y="115" width="3.6" height="3.6" fill="#87d6ab"/>
<rect x="310" y="115" width="3.6" height="3.6" fill="#a1e0b8"/>
<rect x="313" y="115" width="3.6" height="3.6" fill="#bceac5"/>
<rect x="316" y="115" width="3.6" height="3.6" fill="#d4f2d2"/>
<rect x="319" y="115" width="3.6" height="3.6" fill="#e6f9de"/>
<rect x="322" y="115" width="3.6" height="3.6" fill="#f2fde8"/>
<rect x="325" y="115" width="3.6" height="3.6" fill="#f7feed"/>
<rect x="328" y="115" width="3.6" height="3.6" fill="#f9fdee"/>
<rect x="331" y="115" width="3.6" height="3.6" fill="#f9faeb"/>
<rect x="334" y="115" width="3.6" height="3.6" fill="#f8f6e4"/>
<rect x="337" y="115" width="3.6" height="3.6" fill="#f6f0d8"/>
<rect x="340" y="115" width="3.6" height="3.6" fill="#f6e5c1"/>
<rect x="343" y="115" width="3.6" height="3.6" fill="#f6d5a4"/>
<rect x="346" y="115" width="3.6" height="3.6" fill="#f5c089"/>
<rect x="349" y="115" width="3.6" height="3.6" fill="#f3aa73"/>
<rect x="352" y="115" width="3.6" height="3.6" fill="#f29562"/>
<rect x="355" y="115" width="3.6" height="3.6" fill="#f18355"/>
<rect x="358" y="115" width="3.6" height="3.6" fill="#f0744b"/>
<rect x="361" y="115" width="3.6" height="3.6" fill="#f06843"/>
<rect x="364" y="115" width="3.6" height="3.6" fill="#f05f3c"/>
<rect x="367" y="115" width="3.6" height="3.6" fill="#f05836"/>
<rect x="370" y="115" width="3.6" height="3.6" fill="#f05331"/>
<rect x="373" y="115" width="3.6" height="3.6" fill="#ef4e2d"/>
<rect x="376" y="115" width="3.6" height="3.6" fill="#ee4a2a"/>
<rect x="379" y="115" width="3.6" height="3.6" fill="#ed4628"/>
<rect x="382" y="115" width="3.6" height="3.6" fill="#eb4227"/>
<rect x="385" y="115" width="3.6" height="3.6" fill="#e83e26"/>
<rect x="388" y="115" width="3.6" height="3.6" fill="#e63b26"/>
<rect x="391" y="115" width="3.6" height="3.6" fill="#e13926"/>
<rect x="394" y="115" width="3.6" height="3.6" fill="#dc3725"/>
<rect x="397" y="115" width="3.6" height="3.6" fill="#d63524"/>
<rect x="400" y="115" width="3.6" height="3.6" fill="#cf3423"/>
<rect x="268" y="118" width="3.6" height="3.6" fill="#42bbb3"/>
<rect x="271" y="118" width="3.6" height="3.6" fill="#45bdb3"/>
<rect x="274" y="118" width="3.6" height="3.6" fill="#48bfb3"/>
<rect x="277" y="118" width="3.6" height="3.6" fill="#4ac0b4"/>
<rect x="280" y="118" width="3.6" height="3.6" fill="#4cc0b4"/>
<rect x="283" y="118" width="3.6" height="3.6" fill="#4dc0b2"/>
<rect x="286" y="118" width="3.6" height="3.6" fill="#4dc0ae"/>
<rect x="289" y="118" width="3.6" height="3.6" fill="#4dbfaa"/>
<rect x="292" y="118" width="3.6" height="3.6" fill="#4ebfa8"/>
<rect x="295" y="118" width="3.6" height="3.6" fill="#4fbfa8"/>
<rect x="298" y="118" width="3.6" height="3.6" fill="#54c2ab"/>
<rect x="301" y="118" width="3.6" height="3.6" fill="#60c7b1"/>
<rect x="304" y="118" width="3.6" height="3.6" fill="#72cfba"/>
<rect x="307" y="118" width="3.6" height="3.6" fill="#8ad9c5"/>
<rect x="310" y="118" width="3.6" height="3.6" fill="#a7e4d1"/>
<rect x="313" y="118" width="3.6" height="3.6" fill="#c5efdd"/>
<rect x="316" y="118" width="3.6" height="3.6" fill="#e0f8e9"/>
<rect x="319" y="118" width="3.6" height="3.6" fill="#f3fef2"/>
<rect x="322" y="118" width="3.6" height="3.6" fill="#fbfff8"/>
<rect x="325" y="118" width="3.6" height="3.6" fill="#fefefa"/>
<rect x="328" y="118" width="3.6" height="3.6" fill="#fef8f6"/>
<rect x="331" y="118" width="3.6" height="3.6" fill="#fcf2ef"/>
<rect x="334" y="118" width="3.6" height="3.6" fill="#faece6"/>
<rect x="337" y="118" width="3.6" height="3.6" fill="#f9e5da"/>
<rect x="340" y="118" width="3.6" height="3.6" fill="#f8dac6"/>
<rect x="343" y="118" width="3.6" height="3.6" fill="#f6c7ad"/>
<rect x="346" y="118" width="3.6" height="3.6" fill="#f4af92"/>
<rect x="349" y="118" width="3.6" height="3.6" fill="#f2967a"/>
<rect x="352" y="118" width="3.6" height="3.6" fill="#f08066"/>
<rect x="355" y="118" width="3.6" height="3.6" fill="#f06f56"/>
<rect x="358" y="118" width="3.6" height="3.6" fill="#ef614a"/>
<rect x="361" y="118" width="3.6" height="3.6" fill="#ef5741"/>
<rect x="364" y="118" width="3.6" height="3.6" fill="#ef503a"/>
<rect x="367" y="118" width="3.6" height="3.6" fill="#f04a34"/>
<rect x="370" y="118" width="3.6" height="3.6" fill="#ef462f"/>
<rect x="373" y="118" width="3.6" height="3.6" fill="#ef422a"/>
<rect x="376" y="118" width="3.6" height="3.6" fill="#ed3e28"/>
<rect x="379" y="118" width="3.6" height="3.6" fill="#eb3b26"/>
<rect x="382" y="118" width="3.6" height="3.6" fill="#e83725"/>
<rect x="385" y="118" width="3.6" height="3.6" fill="#e43424"/>
<rect x="388" y="118" width="3.6" height="3.6" fill="#df3124"/>
<rect x="391" y="118" width="3.6" height="3.6" fill="#d92f24"/>
<rect x="394" y="118" width="3.6" height="3.6" fill="#d42d23"/>
<rect x="397" y="118" width="3.6" height="3.6" fill="#cf2c22"/>
<rect x="400" y="118" width="3.6" height="3.6" fill="#c92a22"/>
<rect x="403" y="118" width="3.6" height="3.6" fill="#c12920"/>
<rect x="268" y="121" width="3.6" height="3.6" fill="#43bbbd"/>
<rect x="271" y="121" width="3.6" height="3.6" fill="#46bdbe"/>
<rect x="274" y="121" width="3.6" height="3.6" fill="#49bec0"/>
<rect x="277" y="121" width="3.6" height="3.6" fill="#4bbfc2"/>
<rect x="280" y="121" width="3.6" height="3.6" fill="#4dc0c2"/>
<rect x="283" y="121" width="3.6" height="3.6" fill="#4dc0c2"/>
<rect x="286" y="121" width="3.6" height="3.6" fill="#4dbfbf"/>
<rect x="289" y="121" width="3.6" height="3.6" fill="#4cbfbd"/>
<rect x="292" y="121" width="3.6" height="3.6" fill="#4cbfbc"/>
<rect x="295" y="121" width="3.6" height="3.6" fill="#4dc0bd"/>
<rect x="298" y="121" width="3.6" height="3.6" fill="#52c2c0"/>
<rect x="301" y="121" width="3.6" height="3.6" fill="#5dc8c7"/>
<rect x="304" y="121" width="3.6" height="3.6" fill="#70d0d0"/>
<rect x="307" y="121" width="3.6" height="3.6" fill="#8adada"/>
<rect x="310" y="121" width="3.6" height="3.6" fill="#a9e6e4"/>
<rect x="313" y="121" width="3.6" height="3.6" fill="#cbf1ef"/>
<rect x="316" y="121" width="3.6" height="3.6" fill="#e9fbf8"/>
<rect x="319" y="121" width="3.6" height="3.6" fill="#fcffff"/>
<rect x="322" y="121" width="3.6" height="3.6" fill="#ffffff"/>
<rect x="325" y="121" width="3.6" height="3.6" fill="#fff8fb"/>
<rect x="328" y="121" width="3.6" height="3.6" fill="#feecf2"/>
<rect x="331" y="121" width="3.6" height="3.6" fill="#fce1e8"/>
<rect x="334" y="121" width="3.6" height="3.6" fill="#fad8dd"/>
<rect x="337" y="121" width="3.6" height="3.6" fill="#f8d1d0"/>
<rect x="340" y="121" width="3.6" height="3.6" fill="#f7c7c1"/>
<rect x="343" y="121" width="3.6" height="3.6" fill="#f5b2aa"/>
<rect x="346" y="121" width="3.6" height="3.6" fill="#f29890"/>
<rect x="349" y="121" width="3.6" height="3.6" fill="#f07f79"/>
<rect x="352" y="121" width="3.6" height="3.6" fill="#ef6a64"/>
<rect x="355" y="121" width="3.6" height="3.6" fill="#ee5a54"/>
<rect x="358" y="121" width="3.6" height="3.6" fill="#ee4f48"/>
<rect x="361" y="121" width="3.6" height="3.6" fill="#ee473e"/>
<rect x="364" y="121" width="3.6" height="3.6" fill="#ee4237"/>
<rect x="367" y="121" width="3.6" height="3.6" fill="#ef3e31"/>
<rect x="370" y="121" width="3.6" height="3.6" fill="#ef3b2c"/>
<rect x="373" y="121" width="3.6" height="3.6" fill="#ee3828"/>
<rect x="376" y="121" width="3.6" height="3.6" fill="#ec3525"/>
<rect x="379" y="121" width="3.6" height="3.6" fill="#e93223"/>
<rect x="382" y="121" width="3.6" height="3.6" fill="#e42e23"/>
<rect x="385" y="121" width="3.6" height="3.6" fill="#de2b22"/>
<rect x="388" y="121" width="3.6" height="3.6" fill="#d72822"/>
<rect x="391" y="121" width="3.6" height="3.6" fill="#d02622"/>
<rect x="394" y="121" width="3.6" height="3.6" fill="#ca2421"/>
<rect x="397" y="121" width="3.6" height="3.6" fill="#c72321"/>
<rect x="400" y="121" width="3.6" height="3.6" fill="#c12220"/>
<rect x="268" y="124" width="3.6" height="3.6" fill="#43b9c5"/>
<rect x="271" y="124" width="3.6" height="3.6" fill="#46bbc8"/>
<rect x="274" y="124" width="3.6" height="3.6" fill="#4abdcb"/>
<rect x="277" y="124" width="3.6" height="3.6" fill="#4cbecd"/>
<rect x="280" y="124" width="3.6" height="3.6" fill="#4ebecf"/>
<rect x="283" y="124" width="3.6" height="3.6" fill="#4ebecf"/>
<rect x="286" y="124" width="3.6" height="3.6" fill="#4dbece"/>
<rect x="289" y="124" width="3.6" height="3.6" fill="#4cbecd"/>
<rect x="292" y="124" width="3.6" height="3.6" fill="#4cbfcd"/>
<rect x="295" y="124" width="3.6" height="3.6" fill="#4dc1cf"/>
<rect x="298" y="124" width="3.6" height="3.6" fill="#52c4d2"/>
<rect x="301" y="124" width="3.6" height="3.6" fill="#5cc9d8"/>
<rect x="304" y="124" width="3.6" height="3.6" fill="#6dcfe0"/>
<rect x="307" y="124" width="3.6" height="3.6" fill="#87d9e9"/>
<rect x="310" y="124" width="3.6" height="3.6" fill="#aae5f1"/>
<rect x="313" y="124" width="3.6" height="3.6" fill="#cdf1f8"/>
<rect x="316" y="124" width="3.6" height="3.6" fill="#eafcff"/>
<rect x="319" y="124" width="3.6" height="3.6" fill="#fcffff"/>
<rect x="322" y="124" width="3.6" height="3.6" fill="#fffcfe"/>
<rect x="325" y="124" width="3.6" height="3.6" fill="#ffebf3"/>
<rect x="328" y="124" width="3.6" height="3.6" fill="#fcd7e5"/>
<rect x="331" y="124" width="3.6" height="3.6" fill="#f9c7d6"/>
<rect x="334" y="124" width="3.6" height="3.6" fill="#f7bcc9"/>
<rect x="337" y="124" width="3.6" height="3.6" fill="#f5b2bd"/>
<rect x="340" y="124" width="3.6" height="3.6" fill="#f3a6af"/>
<rect x="343" y="124" width="3.6" height="3.6" fill="#f1939c"/>
<rect x="346" y="124" width="3.6" height="3.6" fill="#ef7c87"/>
<rect x="349" y="124" width="3.6" height="3.6" fill="#ed6571"/>
<rect x="352" y="124" width="3.6" height="3.6" fill="#ec525e"/>
<rect x="355" y="124" width="3.6" height="3.6" fill="#ec464f"/>
<rect x="358" y="124" width="3.6" height="3.6" fill="#ec3e44"/>
<rect x="361" y="124" width="3.6" height="3.6" fill="#ed3a3b"/>
<rect x="364" y="124" width="3.6" height="3.6" fill="#ed3734"/>
<rect x="367" y="124" width="3.6" height="3.6" fill="#ed352e"/>
<rect x="370" y="124" width="3.6" height="3.6" fill="#ed3329"/>
<rect x="373" y="124" width="3.6" height="3.6" fill="#ec3125"/>
<rect x="376" y="124" width="3.6" height="3.6" fill="#ea2e23"/>
<rect x="379" y="124" width="3.6" height="3.6" fill="#e62b21"/>
<rect x="382" y="124" width="3.6" height="3.6" fill="#e02721"/>
<rect x="385" y="124" width="3.6" height="3.6" fill="#d82421"/>
<rect x="388" y="124" width="3.6" height="3.6" fill="#d02120"/>
<rect x="391" y="124" width="3.6" height="3.6" fill="#c71e20"/>
<rect x="394" y="124" width="3.6" height="3.6" fill="#c11d1f"/>
<rect x="397" y="124" width="3.6" height="3.6" fill="#bd1c1f"/>
<rect x="400" y="124" width="3.6" height="3.6" fill="#b71b1e"/>
<rect x="403" y="124" width="3.6" height="3.6" fill="#af1a1d"/>
<rect x="271" y="127" width="3.6" height="3.6" fill="#46b9cf"/>
<rect x="274" y="127" width="3.6" height="3.6" fill="#4abad3"/>
<rect x="277" y="127" width="3.6" height="3.6" fill="#4dbbd6"/>
<rect x="280" y="127" width="3.6" height="3.6" fill="#4fbcd9"/>
<rect x="283" y="127" width="3.6" height="3.6" fill="#4fbbd9"/>
<rect x="286" y="127" width="3.6" height="3.6" fill="#4dbad8"/>
<rect x="289" y="127" width="3.6" height="3.6" fill="#4cbbd8"/>
<rect x="292" y="127" width="3.6" height="3.6" fill="#4dbdd9"/>
<rect x="295" y="127" width="3.6" height="3.6" fill="#4fc2db"/>
<rect x="298" y="127" width="3.6" height="3.6" fill="#53c6df"/>
<rect x="301" y="127" width="3.6" height="3.6" fill="#5bcae4"/>
<rect x="304" y="127" width="3.6" height="3.6" fill="#69cdea"/>
<rect x="307" y="127" width="3.6" height="3.6" fill="#84d5f1"/>
<rect x="310" y="127" width="3.6" height="3.6" fill="#a9e1f6"/>
<rect x="313" y="127" width="3.6" height="3.6" fill="#cfedfb"/>
<rect x="316" y="127" width="3.6" height="3.6" fill="#ebf7fe"/>
<rect x="319" y="127" width="3.6" height="3.6" fill="#faf9fe"/>
<rect x="322" y="127" width="3.6" height="3.6" fill="#feeff6"/>
<rect x="325" y="127" width="3.6" height="3.6" fill="#fcd6e5"/>
<rect x="328" y="127" width="3.6" height="3.6" fill="#f8bad1"/>
<rect x="331" y="127" width="3.6" height="3.6" fill="#f5a7c0"/>
<rect x="334" y="127" width="3.6" height="3.6" fill="#f29ab2"/>
<rect x="337" y="127" width="3.6" height="3.6" fill="#f08fa4"/>
<rect x="340" y="127" width="3.6" height="3.6" fill="#ee8298"/>
<rect x="343" y="127" width="3.6" height="3.6" fill="#ec718a"/>
<rect x="346" y="127" width="3.6" height="3.6" fill="#eb5e79"/>
<rect x="349" y="127" width="3.6" height="3.6" fill="#ea4c67"/>
<rect x="352" y="127" width="3.6" height="3.6" fill="#ea3c56"/>
<rect x="355" y="127" width="3.6" height="3.6" fill="#ea3549"/>
<rect x="358" y="127" width="3.6" height="3.6" fill="#ea3140"/>
<rect x="361" y="127" width="3.6" height="3.6" fill="#eb2f39"/>
<rect x="364" y="127" width="3.6" height="3.6" fill="#eb2e32"/>
<rect x="367" y="127" width="3.6" height="3.6" fill="#eb2d2d"/>
<rect x="370" y="127" width="3.6" height="3.6" fill="#eb2d28"/>
<rect x="373" y="127" width="3.6" height="3.6" fill="#ea2b24"/>
<rect x="376" y="127" width="3.6" height="3.6" fill="#e82921"/>
<rect x="379" y="127" width="3.6" height="3.6" fill="#e22520"/>
<rect x="382" y="127" width="3.6" height="3.6" fill="#db2120"/>
<rect x="385" y="127" width="3.6" height="3.6" fill="#d31e1f"/>
<rect x="388" y="127" width="3.6" height="3.6" fill="#cb1b1f"/>
<rect x="391" y="127" width="3.6" height="3.6" fill="#c2181e"/>
<rect x="394" y="127" width="3.6" height="3.6" fill="#bb161e"/>
<rect x="397" y="127" width="3.6" height="3.6" fill="#b5151d"/>
<rect x="400" y="127" width="3.6" height="3.6" fill="#af141d"/>
<rect x="403" y="127" width="3.6" height="3.6" fill="#a8131c"/>
<rect x="271" y="130" width="3.6" height="3.6" fill="#44b4d4"/>
<rect x="274" y="130" width="3.6" height="3.6" fill="#48b6d8"/>
<rect x="277" y="130" width="3.6" height="3.6" fill="#4cb7dc"/>
<rect x="280" y="130" width="3.6" height="3.6" fill="#4eb7df"/>
<rect x="283" y="130" width="3.6" height="3.6" fill="#4eb5df"/>
<rect x="286" y="130" width="3.6" height="3.6" fill="#4cb4de"/>
<rect x="289" y="130" width="3.6" height="3.6" fill="#4bb4de"/>
<rect x="292" y="130" width="3.6" height="3.6" fill="#4cb7df"/>
<rect x="295" y="130" width="3.6" height="3.6" fill="#4fbfe2"/>
<rect x="298" y="130" width="3.6" height="3.6" fill="#55c6e6"/>
<rect x="301" y="130" width="3.6" height="3.6" fill="#5cc8ea"/>
<rect x="304" y="130" width="3.6" height="3.6" fill="#6ac9ee"/>
<rect x="307" y="130" width="3.6" height="3.6" fill="#85cff2"/>
<rect x="310" y="130" width="3.6" height="3.6" fill="#abdaf6"/>
<rect x="313" y="130" width="3.6" height="3.6" fill="#d2e5f8"/>
<rect x="316" y="130" width="3.6" height="3.6" fill="#eeebf7"/>
<rect x="319" y="130" width="3.6" height="3.6" fill="#fbe8f3"/>
<rect x="322" y="130" width="3.6" height="3.6" fill="#fdd9e8"/>
<rect x="325" y="130" width="3.6" height="3.6" fill="#fabdd5"/>
<rect x="328" y="130" width="3.6" height="3.6" fill="#f69fbf"/>
<rect x="331" y="130" width="3.6" height="3.6" fill="#f18aad"/>
<rect x="334" y="130" width="3.6" height="3.6" fill="#ee7b9d"/>
<rect x="337" y="130" width="3.6" height="3.6" fill="#ea6d8f"/>
<rect x="340" y="130" width="3.6" height="3.6" fill="#e85f85"/>
<rect x="343" y="130" width="3.6" height="3.6" fill="#e8527c"/>
<rect x="346" y="130" width="3.6" height="3.6" fill="#e8456f"/>
<rect x="349" y="130" width="3.6" height="3.6" fill="#e83960"/>
<rect x="352" y="130" width="3.6" height="3.6" fill="#e82e51"/>
<rect x="355" y="130" width="3.6" height="3.6" fill="#e82a46"/>
<rect x="358" y="130" width="3.6" height="3.6" fill="#e8293e"/>
<rect x="361" y="130" width="3.6" height="3.6" fill="#e82938"/>
<rect x="364" y="130" width="3.6" height="3.6" fill="#e82932"/>
<rect x="367" y="130" width="3.6" height="3.6" fill="#e8292d"/>
<rect x="370" y="130" width="3.6" height="3.6" fill="#e72828"/>
<rect x="373" y="130" width="3.6" height="3.6" fill="#e62724"/>
<rect x="376" y="130" width="3.6" height="3.6" fill="#e32421"/>
<rect x="379" y="130" width="3.6" height="3.6" fill="#de211f"/>
<rect x="382" y="130" width="3.6" height="3.6" fill="#d61d1f"/>
<rect x="385" y="130" width="3.6" height="3.6" fill="#ce191e"/>
<rect x="388" y="130" width="3.6" height="3.6" fill="#c6161e"/>
<rect x="391" y="130" width="3.6" height="3.6" fill="#bd131d"/>
<rect x="394" y="130" width="3.6" height="3.6" fill="#b6111c"/>
<rect x="397" y="130" width="3.6" height="3.6" fill="#af0f1c"/>
<rect x="271" y="133" width="3.6" height="3.6" fill="#41aed6"/>
<rect x="274" y="133" width="3.6" height="3.6" fill="#44afd9"/>
<rect x="277" y="133" width="3.6" height="3.6" fill="#48afdc"/>
<rect x="280" y="133" width="3.6" height="3.6" fill="#4aafdf"/>
<rect x="283" y="133" width="3.6" height="3.6" fill="#4aade0"/>
<rect x="286" y="133" width="3.6" height="3.6" fill="#49abe0"/>
<rect x="289" y="133" width="3.6" height="3.6" fill="#48aae0"/>
<rect x="292" y="133" width="3.6" height="3.6" fill="#49ade1"/>
<rect x="295" y="133" width="3.6" height="3.6" fill="#4db4e3"/>
<rect x="298" y="133" width="3.6" height="3.6" fill="#52bbe6"/>
<rect x="301" y="133" width="3.6" height="3.6" fill="#5abee9"/>
<rect x="304" y="133" width="3.6" height="3.6" fill="#6ac0ec"/>
<rect x="307" y="133" width="3.6" height="3.6" fill="#87c5ee"/>
<rect x="310" y="133" width="3.6" height="3.6" fill="#abcef0"/>
<rect x="313" y="133" width="3.6" height="3.6" fill="#d1d6f0"/>
<rect x="316" y="133" width="3.6" height="3.6" fill="#edd9ed"/>
<rect x="319" y="133" width="3.6" height="3.6" fill="#f8d1e6"/>
<rect x="322" y="133" width="3.6" height="3.6" fill="#fbbfd9"/>
<rect x="325" y="133" width="3.6" height="3.6" fill="#f9a5c7"/>
<rect x="328" y="133" width="3.6" height="3.6" fill="#f48ab3"/>
<rect x="331" y="133" width="3.6" height="3.6" fill="#ef73a1"/>
<rect x="334" y="133" width="3.6" height="3.6" fill="#eb6191"/>
<rect x="337" y="133" width="3.6" height="3.6" fill="#e65085"/>
<rect x="340" y="133" width="3.6" height="3.6" fill="#e4427e"/>
<rect x="343" y="133" width="3.6" height="3.6" fill="#e43a76"/>
<rect x="346" y="133" width="3.6" height="3.6" fill="#e6356b"/>
<rect x="349" y="133" width="3.6" height="3.6" fill="#e72e5d"/>
<rect x="352" y="133" width="3.6" height="3.6" fill="#e72951"/>
<rect x="355" y="133" width="3.6" height="3.6" fill="#e72747"/>
<rect x="358" y="133" width="3.6" height="3.6" fill="#e7263f"/>
<rect x="361" y="133" width="3.6" height="3.6" fill="#e62638"/>
<rect x="364" y="133" width="3.6" height="3.6" fill="#e52633"/>
<rect x="367" y="133" width="3.6" height="3.6" fill="#e4252e"/>
<rect x="370" y="133" width="3.6" height="3.6" fill="#e2252a"/>
<rect x="373" y="133" width="3.6" height="3.6" fill="#e02326"/>
<rect x="376" y="133" width="3.6" height="3.6" fill="#dd2022"/>
<rect x="379" y="133" width="3.6" height="3.6" fill="#d81d20"/>
<rect x="382" y="133" width="3.6" height="3.6" fill="#d1191f"/>
<rect x="385" y="133" width="3.6" height="3.6" fill="#c9151e"/>
<rect x="388" y="133" width="3.6" height="3.6" fill="#c1111d"/>
<rect x="391" y="133" width="3.6" height="3.6" fill="#b90f1c"/>
<rect x="271" y="136" width="3.6" height="3.6" fill="#3da7d5"/>
<rect x="274" y="136" width="3.6" height="3.6" fill="#3fa7d8"/>
<rect x="277" y="136" width="3.6" height="3.6" fill="#42a6da"/>
<rect x="280" y="136" width="3.6" height="3.6" fill="#44a5dc"/>
<rect x="283" y="136" width="3.6" height="3.6" fill="#44a3dd"/>
<rect x="286" y="136" width="3.6" height="3.6" fill="#44a0dd"/>
<rect x="289" y="136" width="3.6" height="3.6" fill="#439fdd"/>
<rect x="292" y="136" width="3.6" height="3.6" fill="#44a0de"/>
<rect x="295" y="136" width="3.6" height="3.6" fill="#47a5df"/>
<rect x="298" y="136" width="3.6" height="3.6" fill="#4ca9e1"/>
<rect x="301" y="136" width="3.6" height="3.6" fill="#55ace2"/>
<rect x="304" y="136" width="3.6" height="3.6" fill="#67afe4"/>
<rect x="307" y="136" width="3.6" height="3.6" fill="#84b4e6"/>
<rect x="310" y="136" width="3.6" height="3.6" fill="#a6bbe7"/>
<rect x="313" y="136" width="3.6" height="3.6" fill="#c8c1e6"/>
<rect x="316" y="136" width="3.6" height="3.6" fill="#e1c0e1"/>
<rect x="319" y="136" width="3.6" height="3.6" fill="#efb6d9"/>
<rect x="322" y="136" width="3.6" height="3.6" fill="#f5a5cb"/>
<rect x="325" y="136" width="3.6" height="3.6" fill="#f58fba"/>
<rect x="328" y="136" width="3.6" height="3.6" fill="#f277a9"/>
<rect x="331" y="136" width="3.6" height="3.6" fill="#ee6199"/>
<rect x="334" y="136" width="3.6" height="3.6" fill="#e94e8c"/>
<rect x="337" y="136" width="3.6" height="3.6" fill="#e53d83"/>
<rect x="340" y="136" width="3.6" height="3.6" fill="#e3327c"/>
<rect x="343" y="136" width="3.6" height="3.6" fill="#e42f74"/>
<rect x="346" y="136" width="3.6" height="3.6" fill="#e62e6a"/>
<rect x="349" y="136" width="3.6" height="3.6" fill="#e72b5e"/>
<rect x="352" y="136" width="3.6" height="3.6" fill="#e62853"/>
<rect x="355" y="136" width="3.6" height="3.6" fill="#e62749"/>
<rect x="358" y="136" width="3.6" height="3.6" fill="#e52741"/>
<rect x="361" y="136" width="3.6" height="3.6" fill="#e4253a"/>
<rect x="364" y="136" width="3.6" height="3.6" fill="#e22434"/>
<rect x="367" y="136" width="3.6" height="3.6" fill="#e02330"/>
<rect x="370" y="136" width="3.6" height="3.6" fill="#dd212b"/>
<rect x="373" y="136" width="3.6" height="3.6" fill="#da1f27"/>
<rect x="376" y="136" width="3.6" height="3.6" fill="#d71c24"/>
<rect x="379" y="136" width="3.6" height="3.6" fill="#d21821"/>
<rect x="382" y="136" width="3.6" height="3.6" fill="#cb151f"/>
<rect x="385" y="136" width="3.6" height="3.6" fill="#c4111e"/>
<rect x="274" y="139" width="3.6" height="3.6" fill="#3b9ed5"/>
<rect x="277" y="139" width="3.6" height="3.6" fill="#3d9dd6"/>
<rect x="280" y="139" width="3.6" height="3.6" fill="#3e9ad8"/>
<rect x="283" y="139" width="3.6" height="3.6" fill="#3e98d8"/>
<rect x="286" y="139" width="3.6" height="3.6" fill="#3e95d8"/>
<rect x="289" y="139" width="3.6" height="3.6" fill="#3e94d8"/>
<rect x="292" y="139" width="3.6" height="3.6" fill="#3f93d8"/>
<rect x="295" y="139" width="3.6" height="3.6" fill="#4294d8"/>
<rect x="298" y="139" width="3.6" height="3.6" fill="#4795d8"/>
<rect x="301" y="139" width="3.6" height="3.6" fill="#5096d8"/>
<rect x="304" y="139" width="3.6" height="3.6" fill="#6298d9"/>
<rect x="307" y="139" width="3.6" height="3.6" fill="#7e9fdc"/>
<rect x="310" y="139" width="3.6" height="3.6" fill="#9da6de"/>
<rect x="313" y="139" width="3.6" height="3.6" fill="#bba9dd"/>
<rect x="316" y="139" width="3.6" height="3.6" fill="#d3a6d7"/>
<rect x="319" y="139" width="3.6" height="3.6" fill="#e39dcd"/>
<rect x="322" y="139" width="3.6" height="3.6" fill="#ec8dc0"/>
<rect x="325" y="139" width="3.6" height="3.6" fill="#ef79b1"/>
<rect x="328" y="139" width="3.6" height="3.6" fill="#ee64a2"/>
<rect x="331" y="139" width="3.6" height="3.6" fill="#ec5194"/>
<rect x="334" y="139" width="3.6" height="3.6" fill="#e84189"/>
<rect x="337" y="139" width="3.6" height="3.6" fill="#e63480"/>
<rect x="340" y="139" width="3.6" height="3.6" fill="#e52d79"/>
<rect x="343" y="139" width="3.6" height="3.6" fill="#e62b72"/>
<rect x="346" y="139" width="3.6" height="3.6" fill="#e72b69"/>
<rect x="349" y="139" width="3.6" height="3.6" fill="#e6295e"/>
<rect x="352" y="139" width="3.6" height="3.6" fill="#e62854"/>
<rect x="355" y="139" width="3.6" height="3.6" fill="#e5284b"/>
<rect x="358" y="139" width="3.6" height="3.6" fill="#e32743"/>
<rect x="361" y="139" width="3.6" height="3.6" fill="#e1253c"/>
<rect x="364" y="139" width="3.6" height="3.6" fill="#df2236"/>
<rect x="367" y="139" width="3.6" height="3.6" fill="#dc2031"/>
<rect x="370" y="139" width="3.6" height="3.6" fill="#d91e2d"/>
<rect x="373" y="139" width="3.6" height="3.6" fill="#d51b29"/>
<rect x="376" y="139" width="3.6" height="3.6" fill="#d11825"/>
<rect x="379" y="139" width="3.6" height="3.6" fill="#cc1422"/>
<rect x="274" y="142" width="3.6" height="3.6" fill="#3695d1"/>
<rect x="277" y="142" width="3.6" height="3.6" fill="#3893d2"/>
<rect x="280" y="142" width="3.6" height="3.6" fill="#3990d2"/>
<rect x="283" y="142" width="3.6" height="3.6" fill="#398dd2"/>
<rect x="286" y="142" width="3.6" height="3.6" fill="#398ad2"/>
<rect x="289" y="142" width="3.6" height="3.6" fill="#3a88d2"/>
<rect x="292" y="142" width="3.6" height="3.6" fill="#3b86d1"/>
<rect x="295" y="142" width="3.6" height="3.6" fill="#3e85d1"/>
<rect x="298" y="142" width="3.6" height="3.6" fill="#4384d0"/>
<rect x="301" y="142" width="3.6" height="3.6" fill="#4d83cf"/>
<rect x="304" y="142" width="3.6" height="3.6" fill="#5f85d0"/>
<rect x="307" y="142" width="3.6" height="3.6" fill="#788cd4"/>
<rect x="310" y="142" width="3.6" height="3.6" fill="#9493d7"/>
<rect x="313" y="142" width="3.6" height="3.6" fill="#af93d4"/>
<rect x="316" y="142" width="3.6" height="3.6" fill="#c68fce"/>
<rect x="319" y="142" width="3.6" height="3.6" fill="#d785c4"/>
<rect x="322" y="142" width="3.6" height="3.6" fill="#e177b8"/>
<rect x="325" y="142" width="3.6" height="3.6" fill="#e766aa"/>
<rect x="328" y="142" width="3.6" height="3.6" fill="#e9559c"/>
<rect x="331" y="142" width="3.6" height="3.6" fill="#e94590"/>
<rect x="334" y="142" width="3.6" height="3.6" fill="#e73786"/>
<rect x="337" y="142" width="3.6" height="3.6" fill="#e62e7d"/>
<rect x="340" y="142" width="3.6" height="3.6" fill="#e52876"/>
<rect x="343" y="142" width="3.6" height="3.6" fill="#e6276f"/>
<rect x="346" y="142" width="3.6" height="3.6" fill="#e62667"/>
<rect x="349" y="142" width="3.6" height="3.6" fill="#e5265e"/>
<rect x="352" y="142" width="3.6" height="3.6" fill="#e42655"/>
<rect x="355" y="142" width="3.6" height="3.6" fill="#e2264d"/>
<rect x="358" y="142" width="3.6" height="3.6" fill="#e12545"/>
<rect x="361" y="142" width="3.6" height="3.6" fill="#de233e"/>
<rect x="364" y="142" width="3.6" height="3.6" fill="#db2038"/>
<rect x="367" y="142" width="3.6" height="3.6" fill="#d81d33"/>
<rect x="370" y="142" width="3.6" height="3.6" fill="#d51a2e"/>
<rect x="373" y="142" width="3.6" height="3.6" fill="#d0172a"/>
<rect x="274" y="145" width="3.6" height="3.6" fill="#328ccd"/>
<rect x="277" y="145" width="3.6" height="3.6" fill="#3389cd"/>
<rect x="280" y="145" width="3.6" height="3.6" fill="#3486cc"/>
<rect x="283" y="145" width="3.6" height="3.6" fill="#3583cc"/>
<rect x="286" y="145" width="3.6" height="3.6" fill="#3580cb"/>
<rect x="289" y="145" width="3.6" height="3.6" fill="#367dcb"/>
<rect x="292" y="145" width="3.6" height="3.6" fill="#387bca"/>
<rect x="295" y="145" width="3.6" height="3.6" fill="#3b79ca"/>
<rect x="298" y="145" width="3.6" height="3.6" fill="#4177ca"/>
<rect x="301" y="145" width="3.6" height="3.6" fill="#4c77ca"/>
<rect x="304" y="145" width="3.6" height="3.6" fill="#5d79cc"/>
<rect x="307" y="145" width="3.6" height="3.6" fill="#737ece"/>
<rect x="310" y="145" width="3.6" height="3.6" fill="#8c81d0"/>
<rect x="313" y="145" width="3.6" height="3.6" fill="#a37fcc"/>
<rect x="316" y="145" width="3.6" height="3.6" fill="#b979c5"/>
<rect x="319" y="145" width="3.6" height="3.6" fill="#ca6fbc"/>
<rect x="322" y="145" width="3.6" height="3.6" fill="#d762b1"/>
<rect x="325" y="145" width="3.6" height="3.6" fill="#df54a4"/>
<rect x="328" y="145" width="3.6" height="3.6" fill="#e34698"/>
<rect x="331" y="145" width="3.6" height="3.6" fill="#e4398d"/>
<rect x="334" y="145" width="3.6" height="3.6" fill="#e42f83"/>
<rect x="337" y="145" width="3.6" height="3.6" fill="#e4277b"/>
<rect x="340" y="145" width="3.6" height="3.6" fill="#e32373"/>
<rect x="343" y="145" width="3.6" height="3.6" fill="#e3216c"/>
<rect x="346" y="145" width="3.6" height="3.6" fill="#e32165"/>
<rect x="349" y="145" width="3.6" height="3.6" fill="#e2215d"/>
<rect x="352" y="145" width="3.6" height="3.6" fill="#e12155"/>
<rect x="355" y="145" width="3.6" height="3.6" fill="#df214d"/>
<rect x="358" y="145" width="3.6" height="3.6" fill="#dd2046"/>
<rect x="361" y="145" width="3.6" height="3.6" fill="#da1e3f"/>
<rect x="364" y="145" width="3.6" height="3.6" fill="#d71c39"/>
<rect x="367" y="145" width="3.6" height="3.6" fill="#d41934"/>
<rect x="277" y="148" width="3.6" height="3.6" fill="#2f80c7"/>
<rect x="280" y="148" width="3.6" height="3.6" fill="#307dc6"/>
<rect x="283" y="148" width="3.6" height="3.6" fill="#3179c5"/>
<rect x="286" y="148" width="3.6" height="3.6" fill="#3276c4"/>
<rect x="289" y="148" width="3.6" height="3.6" fill="#3373c4"/>
<rect x="292" y="148" width="3.6" height="3.6" fill="#3570c4"/>
<rect x="295" y="148" width="3.6" height="3.6" fill="#396ec4"/>
<rect x="298" y="148" width="3.6" height="3.6" fill="#406dc5"/>
<rect x="301" y="148" width="3.6" height="3.6" fill="#4a6dc5"/>
<rect x="304" y="148" width="3.6" height="3.6" fill="#596ec7"/>
<rect x="307" y="148" width="3.6" height="3.6" fill="#6c6fc8"/>
<rect x="310" y="148" width="3.6" height="3.6" fill="#8270c7"/>
<rect x="313" y="148" width="3.6" height="3.6" fill="#976cc4"/>
<rect x="316" y="148" width="3.6" height="3.6" fill="#ac66bd"/>
<rect x="319" y="148" width="3.6" height="3.6" fill="#be5cb5"/>
<rect x="322" y="148" width="3.6" height="3.6" fill="#cc50ab"/>
<rect x="325" y="148" width="3.6" height="3.6" fill="#d644a0"/>
<rect x="328" y="148" width="3.6" height="3.6" fill="#dc3994"/>
<rect x="331" y="148" width="3.6" height="3.6" fill="#df2f8a"/>
<rect x="334" y="148" width="3.6" height="3.6" fill="#df2780"/>
<rect x="337" y="148" width="3.6" height="3.6" fill="#e02178"/>
<rect x="340" y="148" width="3.6" height="3.6" fill="#e01d71"/>
<rect x="343" y="148" width="3.6" height="3.6" fill="#e01c6a"/>
<rect x="346" y="148" width="3.6" height="3.6" fill="#df1b63"/>
<rect x="349" y="148" width="3.6" height="3.6" fill="#de1b5c"/>
<rect x="352" y="148" width="3.6" height="3.6" fill="#dd1b54"/>
<rect x="355" y="148" width="3.6" height="3.6" fill="#db1b4d"/>
<rect x="358" y="148" width="3.6" height="3.6" fill="#d91a46"/>
<rect x="361" y="148" width="3.6" height="3.6" fill="#d61940"/>
<rect x="277" y="151" width="3.6" height="3.6" fill="#2c78c3"/>
<rect x="280" y="151" width="3.6" height="3.6" fill="#2d74c1"/>
<rect x="283" y="151" width="3.6" height="3.6" fill="#2e71c0"/>
<rect x="286" y="151" width="3.6" height="3.6" fill="#2f6dbf"/>
<rect x="289" y="151" width="3.6" height="3.6" fill="#316abf"/>
<rect x="292" y="151" width="3.6" height="3.6" fill="#3368bf"/>
<rect x="295" y="151" width="3.6" height="3.6" fill="#3766bf"/>
<rect x="298" y="151" width="3.6" height="3.6" fill="#3e64c0"/>
<rect x="301" y="151" width="3.6" height="3.6" fill="#4764c0"/>
<rect x="304" y="151" width="3.6" height="3.6" fill="#5463c1"/>
<rect x="307" y="151" width="3.6" height="3.6" fill="#6563c1"/>
<rect x="310" y="151" width="3.6" height="3.6" fill="#7761bf"/>
<rect x="313" y="151" width="3.6" height="3.6" fill="#8b5cbc"/>
<rect x="316" y="151" width="3.6" height="3.6" fill="#9f55b6"/>
<rect x="319" y="151" width="3.6" height="3.6" fill="#b14bae"/>
<rect x="322" y="151" width="3.6" height="3.6" fill="#c140a5"/>
<rect x="325" y="151" width="3.6" height="3.6" fill="#cd369b"/>
<rect x="328" y="151" width="3.6" height="3.6" fill="#d42c91"/>
<rect x="331" y="151" width="3.6" height="3.6" fill="#d82487"/>
<rect x="334" y="151" width="3.6" height="3.6" fill="#da1e7e"/>
<rect x="337" y="151" width="3.6" height="3.6" fill="#da1a76"/>
<rect x="340" y="151" width="3.6" height="3.6" fill="#db176f"/>
<rect x="343" y="151" width="3.6" height="3.6" fill="#db1568"/>
<rect x="346" y="151" width="3.6" height="3.6" fill="#da1561"/>
<rect x="349" y="151" width="3.6" height="3.6" fill="#d9155a"/>
<rect x="352" y="151" width="3.6" height="3.6" fill="#d81553"/>
<rect x="355" y="151" width="3.6" height="3.6" fill="#d6154d"/>
<rect x="277" y="154" width="3.6" height="3.6" fill="#2970be"/>
<rect x="280" y="154" width="3.6" height="3.6" fill="#2a6dbd"/>
<rect x="283" y="154" width="3.6" height="3.6" fill="#2c69bc"/>
<rect x="286" y="154" width="3.6" height="3.6" fill="#2d66bb"/>
<rect x="289" y="154" width="3.6" height="3.6" fill="#2f63ba"/>
<rect x="292" y="154" width="3.6" height="3.6" fill="#3160ba"/>
<rect x="295" y="154" width="3.6" height="3.6" fill="#355ebb"/>
<rect x="298" y="154" width="3.6" height="3.6" fill="#3b5dbb"/>
<rect x="301" y="154" width="3.6" height="3.6" fill="#435cbb"/>
<rect x="304" y="154" width="3.6" height="3.6" fill="#4e5abb"/>
<rect x="307" y="154" width="3.6" height="3.6" fill="#5c58ba"/>
<rect x="310" y="154" width="3.6" height="3.6" fill="#6c54b8"/>
<rect x="313" y="154" width="3.6" height="3.6" fill="#7e4eb4"/>
<rect x="316" y="154" width="3.6" height="3.6" fill="#9147af"/>
<rect x="319" y="154" width="3.6" height="3.6" fill="#a33da8"/>
<rect x="322" y="154" width="3.6" height="3.6" fill="#b533a0"/>
<rect x="325" y="154" width="3.6" height="3.6" fill="#c22997"/>
<rect x="328" y="154" width="3.6" height="3.6" fill="#ca228e"/>
<rect x="331" y="154" width="3.6" height="3.6" fill="#cf1b84"/>
<rect x="334" y="154" width="3.6" height="3.6" fill="#d2177c"/>
<rect x="337" y="154" width="3.6" height="3.6" fill="#d31374"/>
<rect x="340" y="154" width="3.6" height="3.6" fill="#d4116d"/>
<rect x="343" y="154" width="3.6" height="3.6" fill="#d50f66"/>
<rect x="346" y="154" width="3.6" height="3.6" fill="#d40f5f"/>
<rect x="349" y="154" width="3.6" height="3.6" fill="#d30f59"/>
<rect x="280" y="157" width="3.6" height="3.6" fill="#2866b9"/>
<rect x="283" y="157" width="3.6" height="3.6" fill="#2a62b8"/>
<rect x="286" y="157" width="3.6" height="3.6" fill="#2c5fb7"/>
<rect x="289" y="157" width="3.6" height="3.6" fill="#2d5cb7"/>
<rect x="292" y="157" width="3.6" height="3.6" fill="#305ab6"/>
<rect x="295" y="157" width="3.6" height="3.6" fill="#3358b7"/>
<rect x="298" y="157" width="3.6" height="3.6" fill="#3756b7"/>
<rect x="301" y="157" width="3.6" height="3.6" fill="#3e55b6"/>
<rect x="304" y="157" width="3.6" height="3.6" fill="#4752b6"/>
<rect x="307" y="157" width="3.6" height="3.6" fill="#534fb4"/>
<rect x="310" y="157" width="3.6" height="3.6" fill="#614ab2"/>
<rect x="313" y="157" width="3.6" height="3.6" fill="#7143ad"/>
<rect x="316" y="157" width="3.6" height="3.6" fill="#833ba8"/>
<rect x="319" y="157" width="3.6" height="3.6" fill="#9432a2"/>
<rect x="322" y="157" width="3.6" height="3.6" fill="#a6299a"/>
<rect x="325" y="157" width="3.6" height="3.6" fill="#b42092"/>
<rect x="328" y="157" width="3.6" height="3.6" fill="#be198a"/>
<rect x="331" y="157" width="3.6" height="3.6" fill="#c41482"/>
<rect x="334" y="157" width="3.6" height="3.6" fill="#c8107a"/>
<rect x="337" y="157" width="3.6" height="3.6" fill="#cb0d72"/>
<rect x="340" y="157" width="3.6" height="3.6" fill="#cc0b6b"/>
<rect x="343" y="157" width="3.6" height="3.6" fill="#cd0964"/>
<rect x="280" y="160" width="3.6" height="3.6" fill="#2660b6"/>
<rect x="283" y="160" width="3.6" height="3.6" fill="#285db5"/>
<rect x="286" y="160" width="3.6" height="3.6" fill="#2a5ab4"/>
<rect x="289" y="160" width="3.6" height="3.6" fill="#2c57b3"/>
<rect x="292" y="160" width="3.6" height="3.6" fill="#2e55b3"/>
<rect x="295" y="160" width="3.6" height="3.6" fill="#3053b2"/>
<rect x="298" y="160" width="3.6" height="3.6" fill="#3451b2"/>
<rect x="301" y="160" width="3.6" height="3.6" fill="#394fb2"/>
<rect x="304" y="160" width="3.6" height="3.6" fill="#404cb1"/>
<rect x="307" y="160" width="3.6" height="3.6" fill="#4a47af"/>
<rect x="310" y="160" width="3.6" height="3.6" fill="#5742ac"/>
<rect x="313" y="160" width="3.6" height="3.6" fill="#653ba7"/>
<rect x="316" y="160" width="3.6" height="3.6" fill="#7533a2"/>
<rect x="319" y="160" width="3.6" height="3.6" fill="#862a9c"/>
<rect x="322" y="160" width="3.6" height="3.6" fill="#972195"/>
<rect x="325" y="160" width="3.6" height="3.6" fill="#a51a8e"/>
<rect x="328" y="160" width="3.6" height="3.6" fill="#b01387"/>
<rect x="331" y="160" width="3.6" height="3.6" fill="#b70e7f"/>
<rect x="334" y="160" width="3.6" height="3.6" fill="#bd0a77"/>
<rect x="337" y="160" width="3.6" height="3.6" fill="#c00770"/>
<rect x="283" y="163" width="3.6" height="3.6" fill="#2658b1"/>
<rect x="286" y="163" width="3.6" height="3.6" fill="#2855b0"/>
<rect x="289" y="163" width="3.6" height="3.6" fill="#2953af"/>
<rect x="292" y="163" width="3.6" height="3.6" fill="#2b51af"/>
<rect x="295" y="163" width="3.6" height="3.6" fill="#2e4fae"/>
<rect x="298" y="163" width="3.6" height="3.6" fill="#314cae"/>
<rect x="301" y="163" width="3.6" height="3.6" fill="#354aad"/>
<rect x="304" y="163" width="3.6" height="3.6" fill="#3a46ab"/>
<rect x="307" y="163" width="3.6" height="3.6" fill="#4341a9"/>
<rect x="310" y="163" width="3.6" height="3.6" fill="#4e3ba6"/>
<rect x="313" y="163" width="3.6" height="3.6" fill="#5c34a2"/>
<rect x="316" y="163" width="3.6" height="3.6" fill="#6a2c9d"/>
<rect x="319" y="163" width="3.6" height="3.6" fill="#7a2497"/>
<rect x="322" y="163" width="3.6" height="3.6" fill="#891c91"/>
<rect x="325" y="163" width="3.6" height="3.6" fill="#97158a"/>
<rect x="328" y="163" width="3.6" height="3.6" fill="#a20e83"/>
<rect x="331" y="163" width="3.6" height="3.6" fill="#ab0a7c"/>
<rect x="283" y="166" width="3.6" height="3.6" fill="#2354ae"/>
<rect x="286" y="166" width="3.6" height="3.6" fill="#2552ad"/>
<rect x="289" y="166" width="3.6" height="3.6" fill="#274fac"/>
<rect x="292" y="166" width="3.6" height="3.6" fill="#294dab"/>
<rect x="295" y="166" width="3.6" height="3.6" fill="#2b4baa"/>
<rect x="298" y="166" width="3.6" height="3.6" fill="#2e48a9"/>
<rect x="301" y="166" width="3.6" height="3.6" fill="#3245a8"/>
<rect x="304" y="166" width="3.6" height="3.6" fill="#3741a6"/>
<rect x="307" y="166" width="3.6" height="3.6" fill="#3e3ca4"/>
<rect x="310" y="166" width="3.6" height="3.6" fill="#4835a0"/>
<rect x="313" y="166" width="3.6" height="3.6" fill="#542e9c"/>
<rect x="316" y="166" width="3.6" height="3.6" fill="#622697"/>
<rect x="319" y="166" width="3.6" height="3.6" fill="#701f92"/>
<rect x="322" y="166" width="3.6" height="3.6" fill="#7e178c"/>
<rect x="325" y="166" width="3.6" height="3.6" fill="#8a1086"/>
<rect x="286" y="169" width="3.6" height="3.6" fill="#234ea9"/>
<rect x="289" y="169" width="3.6" height="3.6" fill="#254ca8"/>
<rect x="292" y="169" width="3.6" height="3.6" fill="#274aa6"/>
<rect x="295" y="169" width="3.6" height="3.6" fill="#2a47a5"/>
<rect x="298" y="169" width="3.6" height="3.6" fill="#2d44a4"/>
<rect x="301" y="169" width="3.6" height="3.6" fill="#3040a2"/>
<rect x="304" y="169" width="3.6" height="3.6" fill="#353ca1"/>
<rect x="307" y="169" width="3.6" height="3.6" fill="#3b369e"/>
<rect x="310" y="169" width="3.6" height="3.6" fill="#44309b"/>
<rect x="313" y="169" width="3.6" height="3.6" fill="#4f2997"/>
<rect x="316" y="169" width="3.6" height="3.6" fill="#5b2193"/>
<rect x="319" y="169" width="3.6" height="3.6" fill="#671a8d"/>
<rect x="286" y="172" width="3.6" height="3.6" fill="#214aa5"/>
<rect x="289" y="172" width="3.6" height="3.6" fill="#2348a4"/>
<rect x="292" y="172" width="3.6" height="3.6" fill="#2646a2"/>
<rect x="295" y="172" width="3.6" height="3.6" fill="#2943a1"/>
<rect x="298" y="172" width="3.6" height="3.6" fill="#2c409f"/>
<rect x="301" y="172" width="3.6" height="3.6" fill="#2f3b9d"/>
<rect x="304" y="172" width="3.6" height="3.6" fill="#33369b"/>
<rect x="307" y="172" width="3.6" height="3.6" fill="#393199"/>
<rect x="310" y="172" width="3.6" height="3.6" fill="#412b96"/>
<rect x="313" y="172" width="3.6" height="3.6" fill="#4a2492"/>
<rect x="289" y="175" width="3.6" height="3.6" fill="#2144a0"/>
<rect x="292" y="175" width="3.6" height="3.6" fill="#24419e"/>
<rect x="295" y="175" width="3.6" height="3.6" fill="#273e9c"/>
<rect x="298" y="175" width="3.6" height="3.6" fill="#2a3b9a"/>
<rect x="301" y="175" width="3.6" height="3.6" fill="#2e3698"/>
<rect x="304" y="175" width="3.6" height="3.6" fill="#323196"/>
<rect x="307" y="175" width="3.6" height="3.6" fill="#372c94"/>
<rect x="301" y="178" width="3.6" height="3.6" fill="#2c3194"/>
</g>
<line x1="283.80" y1="12.7" x2="283.80" y2="177.4" stroke="#000" stroke-width="0.9" stroke-dasharray="7.5,6.5" opacity="0.08" stroke-dashoffset="4.5"/><line x1="303.30" y1="12.7" x2="303.30" y2="177.4" stroke="#000" stroke-width="0.9" stroke-dasharray="7.5,6.5" opacity="0.08" stroke-dashoffset="4.5"/><line x1="322.80" y1="12.7" x2="322.80" y2="177.4" stroke="#000" stroke-width="0.9" stroke-dasharray="7.5,6.5" opacity="0.08" stroke-dashoffset="4.5"/><line x1="342.30" y1="12.7" x2="342.30" y2="177.4" stroke="#000" stroke-width="0.9" stroke-dasharray="7.5,6.5" opacity="0.08" stroke-dashoffset="4.5"/><line x1="361.80" y1="12.7" x2="361.80" y2="177.4" stroke="#000" stroke-width="0.9" stroke-dasharray="7.5,6.5" opacity="0.08" stroke-dashoffset="4.5"/><line x1="381.30" y1="12.7" x2="381.30" y2="177.4" stroke="#000" stroke-width="0.9" stroke-dasharray="7.5,6.5" opacity="0.08" stroke-dashoffset="4.5"/><line x1="400.80" y1="12.7" x2="400.80" y2="177.4" stroke="#000" stroke-width="0.9" stroke-dasharray="7.5,6.5" opacity="0.08" stroke-dashoffset="4.5"/><line x1="264.3" y1="159.11" x2="420" y2="159.11" stroke="#000" stroke-width="0.9" stroke-dasharray="7.5,6.5" opacity="0.08" stroke-dashoffset="2.3"/><line x1="264.3" y1="140.82" x2="420" y2="140.82" stroke="#000" stroke-width="0.9" stroke-dasharray="7.5,6.5" opacity="0.08" stroke-dashoffset="2.3"/><line x1="264.3" y1="122.53" x2="420" y2="122.53" stroke="#000" stroke-width="0.9" stroke-dasharray="7.5,6.5" opacity="0.08" stroke-dashoffset="2.3"/><line x1="264.3" y1="104.24" x2="420" y2="104.24" stroke="#000" stroke-width="0.9" stroke-dasharray="7.5,6.5" opacity="0.08" stroke-dashoffset="2.3"/><line x1="264.3" y1="85.95" x2="420" y2="85.95" stroke="#000" stroke-width="0.9" stroke-dasharray="7.5,6.5" opacity="0.08" stroke-dashoffset="2.3"/><line x1="264.3" y1="67.66" x2="420" y2="67.66" stroke="#000" stroke-width="0.9" stroke-dasharray="7.5,6.5" opacity="0.08" stroke-dashoffset="2.3"/><line x1="264.3" y1="49.37" x2="420" y2="49.37" stroke="#000" stroke-width="0.9" stroke-dasharray="7.5,6.5" opacity="0.08" stroke-dashoffset="2.3"/><line x1="264.3" y1="31.08" x2="420" y2="31.08" stroke="#000" stroke-width="0.9" stroke-dasharray="7.5,6.5" opacity="0.08" stroke-dashoffset="2.3"/>
</g>
<rect x="264.3" y="12.7" width="155.7" height="164.7" stroke="#7a7a7a" stroke-width="1" fill="none"/>
<line x1="264.30" y1="177.4" x2="264.30" y2="180.4" stroke="#7a7a7a" stroke-width="1" fill="none"/>
<line x1="283.80" y1="177.4" x2="283.80" y2="179.4" stroke="#7a7a7a" stroke-width="1" fill="none"/>
<line x1="303.30" y1="177.4" x2="303.30" y2="180.4" stroke="#7a7a7a" stroke-width="1" fill="none"/>
<line x1="322.80" y1="177.4" x2="322.80" y2="179.4" stroke="#7a7a7a" stroke-width="1" fill="none"/>
<line x1="342.30" y1="177.4" x2="342.30" y2="180.4" stroke="#7a7a7a" stroke-width="1" fill="none"/>
<line x1="361.80" y1="177.4" x2="361.80" y2="179.4" stroke="#7a7a7a" stroke-width="1" fill="none"/>
<line x1="381.30" y1="177.4" x2="381.30" y2="180.4" stroke="#7a7a7a" stroke-width="1" fill="none"/>
<line x1="400.80" y1="177.4" x2="400.80" y2="179.4" stroke="#7a7a7a" stroke-width="1" fill="none"/>
<line x1="420.30" y1="177.4" x2="420.30" y2="180.4" stroke="#7a7a7a" stroke-width="1" fill="none"/>
<line x1="264.3" y1="177.40" x2="261.3" y2="177.40" stroke="#7a7a7a" stroke-width="1" fill="none"/>
<line x1="264.3" y1="149.97" x2="262.3" y2="149.97" stroke="#7a7a7a" stroke-width="1" fill="none"/>
<line x1="264.3" y1="122.53" x2="261.3" y2="122.53" stroke="#7a7a7a" stroke-width="1" fill="none"/>
<line x1="264.3" y1="95.10" x2="262.3" y2="95.10" stroke="#7a7a7a" stroke-width="1" fill="none"/>
<line x1="264.3" y1="67.66" x2="261.3" y2="67.66" stroke="#7a7a7a" stroke-width="1" fill="none"/>
<line x1="264.3" y1="40.22" x2="262.3" y2="40.22" stroke="#7a7a7a" stroke-width="1" fill="none"/>
<line x1="264.3" y1="12.79" x2="261.3" y2="12.79" stroke="#7a7a7a" stroke-width="1" fill="none"/>
<text x="264.30" y="190.00" font-size="10.5" text-anchor="middle" font-weight="normal" fill="#1a1a1a" >0.0</text>
<text x="303.30" y="190.00" font-size="10.5" text-anchor="middle" font-weight="normal" fill="#1a1a1a" >0.2</text>
<text x="342.30" y="190.00" font-size="10.5" text-anchor="middle" font-weight="normal" fill="#1a1a1a" >0.4</text>
<text x="381.30" y="190.00" font-size="10.5" text-anchor="middle" font-weight="normal" fill="#1a1a1a" >0.6</text>
<text x="420.30" y="190.00" font-size="10.5" text-anchor="middle" font-weight="normal" fill="#1a1a1a" >0.8</text>
<text x="261.00" y="180.40" font-size="10.5" text-anchor="end" font-weight="normal" fill="#1a1a1a" >0.0</text>
<text x="261.00" y="125.53" font-size="10.5" text-anchor="end" font-weight="normal" fill="#1a1a1a" >0.3</text>
<text x="261.00" y="70.66" font-size="10.5" text-anchor="end" font-weight="normal" fill="#1a1a1a" >0.6</text>
<text x="261.00" y="15.79" font-size="10.5" text-anchor="end" font-weight="normal" fill="#1a1a1a" >0.9</text>
<text x="342.00" y="200.00" font-size="10.5" text-anchor="middle" font-weight="normal" fill="#1a1a1a" >x</text>
<text x="240.30" y="98.50" font-size="10.5" text-anchor="middle" font-weight="normal" fill="#1a1a1a" >y</text>
<text x="237.50" y="11.60" font-size="13" text-anchor="start" font-weight="bold" fill="#000" >b</text>
<circle cx="294.92" cy="159.29" r="3" fill="#fff" stroke="#e89a2c" stroke-width="1.6"/>
<circle cx="329.04" cy="78.09" r="3" fill="#fff" stroke="#2f7fc4" stroke-width="1.6"/>
<circle cx="375.45" cy="99.30" r="3" fill="#fff" stroke="#2c6e3c" stroke-width="1.6"/>
<text x="322.30" y="71.60" font-size="10.6" text-anchor="start" font-weight="normal" fill="#1a1a1a" >DPBr (0.332, 0.543)</text>
<text x="312.20" y="112.30" font-size="10.6" text-anchor="start" font-weight="normal" fill="#1a1a1a" >DBrNBr (0.570, 0.427)</text>
<text x="300.80" y="155.80" font-size="10.6" text-anchor="start" font-weight="normal" fill="#1a1a1a" >DCzBr (0.157, 0.099)</text>
<path d="M475.5,40.5V47.2M476.0,48.1V54.3M476.5,54.0V59.5M477.0,60.2V65.7M477.5,66.1V69.8M478.0,70.4V74.7M478.5,74.7V79.0M479.0,78.5V82.2M479.5,82.8V85.2M480.0,85.4V88.0M480.5,87.3V91.5M481.0,91.7V95.2M481.5,93.7V96.5M482.0,94.6V98.4M482.5,97.6V100.1M483.0,99.0V102.8M483.5,100.6V103.9M484.0,101.3V105.8M484.5,103.2V106.5M485.0,102.7V107.5M485.5,105.5V107.7M486.0,104.6V110.2M486.5,106.5V109.0M487.0,106.3V110.8M487.5,108.4V110.8M488.0,107.8V111.8M488.5,109.4V111.7M489.0,110.5V113.2M489.5,109.2V113.2M490.0,109.9V112.9M490.5,109.8V113.6M491.0,109.3V113.1M491.5,110.2V114.9M492.0,110.5V117.2M492.5,112.4V115.0M493.0,110.9V115.9M493.5,112.6V118.1M494.0,113.1V117.4M494.5,112.6V118.5M495.0,112.7V118.5M495.5,114.4V118.0M496.0,114.2V118.0M496.5,114.2V120.4M497.0,114.2V118.7M497.5,114.7V119.9M498.0,114.9V119.3M498.5,114.6V119.1M499.0,113.6V119.5M499.5,115.0V119.1M500.0,115.9V121.3M500.5,115.3V120.6M501.0,118.0V121.8M501.5,117.2V121.1M502.0,116.6V121.1M502.5,117.6V121.1M503.0,117.6V122.6M503.5,115.8V120.4M504.0,116.4V123.7M504.5,117.4V123.1M505.0,117.1V121.8M505.5,118.1V122.6M506.0,117.4V122.6M506.5,118.0V122.3M507.0,118.3V124.3M507.5,118.3V123.7M508.0,119.3V123.4M508.5,118.7V122.6M509.0,119.3V122.8M509.5,116.4V124.3M510.0,119.5V125.9M510.5,118.3V125.2M511.0,119.5V122.6M511.5,119.3V124.6M512.0,120.8V126.6M512.5,120.6V124.0M513.0,118.7V127.8M513.5,120.8V124.9M514.0,118.5V125.2M514.5,120.4V126.3M515.0,120.4V126.3M515.5,118.9V124.6M515.5,128.6v0.01M516.0,121.1V126.6M516.5,120.2V127.0M517.0,121.6V127.8M517.5,120.8V127.8M518.0,121.1V127.0M518.5,121.6V127.0M519.0,120.8V127.0M519.5,122.1V125.2M520.0,122.1V128.2M520.5,122.8V129.5M521.0,120.6V128.2M521.5,120.8V129.1M522.0,121.8V127.8M522.5,121.1V128.2M523.0,122.1V130.5M523.5,121.6V131.5M524.0,121.1V125.6M524.0,129.5V130.5M524.5,124.0V129.5M525.0,123.7V129.5M525.5,121.8V130.0M526.0,124.6V130.5M526.5,124.9V129.5M527.0,122.1V129.5M527.5,124.3V131.5M528.0,123.1V130.5M528.5,122.1V127.8M528.5,132.1v0.01M529.0,123.7V131.0M529.5,123.1V129.5M529.5,133.3v0.01M530.0,125.2V133.3M530.5,124.9V129.1M530.5,134.6v0.01M531.0,124.6V129.5M531.5,123.4V133.9M532.0,124.6V128.6M532.0,132.1v0.01M532.5,123.4V131.5M533.0,123.4V129.1M533.5,125.6V130.5M534.0,124.6V131.0M534.5,122.3v0.01M534.5,125.9V132.7M535.0,124.9V133.3M535.5,124.6V130.0M536.0,124.9V132.7M536.5,125.2V133.3M537.0,127.0V133.3M537.5,125.9V131.5M538.0,125.6V132.7M538.5,122.8V130.5M539.0,125.2V131.0M539.5,125.2V133.9M540.0,128.2V135.3M540.5,125.9V133.9M541.0,128.2V133.3M541.5,126.6V132.1M542.0,125.6V132.1M542.5,126.6V133.9M543.0,126.6V132.7M543.5,125.9V133.9M544.0,126.3V133.9M544.5,127.0V132.7M544.5,136.1v0.01M545.0,127.8V135.3M545.5,125.2V133.9M546.0,128.2V130.5M546.0,133.9V134.6M546.5,127.4V135.3M547.0,125.6V133.9M547.5,124.9v0.01M547.5,129.1V136.1M548.0,128.6V135.3M548.5,128.6V137.7M549.0,129.1V134.6M549.0,138.7v0.01M549.5,128.2V134.6M549.5,138.7v0.01M550.0,127.8V136.9M550.5,131.0V136.9M551.0,126.6V133.3M551.5,128.2V132.1M551.5,136.1V138.7M552.0,126.3V136.1M552.5,131.0V138.7M553.0,129.5V137.7M553.5,125.2v0.01M553.5,129.1V134.6M554.0,129.1V136.1M554.5,127.4V135.3M555.0,127.8V133.9M555.5,129.5V135.3M556.0,127.4V136.9M556.5,129.1V135.3M557.0,132.7V137.7M557.5,131.0V136.9M558.0,126.6v0.01M558.0,131.5V136.9M558.5,128.2V137.7M559.0,128.6V133.9M559.0,137.7v0.01M559.5,128.6V136.9M560.0,129.5V136.1M560.5,130.0V133.9M560.5,137.7v0.01M561.0,129.5V133.3M561.0,136.9V140.8M561.5,129.5v0.01M561.5,133.3V137.7M562.0,127.8V133.9M562.5,133.3V138.7M562.5,144.8v0.01M563.0,128.6V136.1M563.0,140.8v0.01M563.5,131.0V136.9M564.0,130.0V138.7M564.5,130.5V137.7M565.0,132.1V138.7M565.5,131.0V138.7M566.0,130.5V142.0M566.5,131.5V137.7M567.0,130.5V137.7M567.5,130.0V136.9M568.0,131.0V133.9M568.0,137.7V142.0M568.5,129.5v0.01M568.5,133.3V142.0M569.0,129.5V137.7M569.5,131.5V136.1M569.5,140.8v0.01M570.0,131.0V140.8M570.0,144.8v0.01M570.5,132.1V136.9M570.5,140.8V144.8M571.0,130.0V138.7M571.5,133.9V138.7M572.0,133.3V140.8M572.5,131.0V139.7M573.0,131.0V136.9M573.5,132.1V140.8M574.0,132.7V142.0M574.5,131.5V139.7M574.5,144.8v0.01M575.0,130.5V142.0M575.5,130.5V138.7M576.0,132.1V142.0M576.5,130.5v0.01M576.5,133.9V135.3M576.5,139.7v0.01M576.5,143.3V146.4M577.0,133.3V140.8M577.5,132.7V139.7M577.5,146.4v0.01M578.0,129.5v0.01M578.0,133.3V140.8M578.0,146.4v0.01M578.5,136.1V140.8M578.5,150.6v0.01M579.0,132.1V139.7M579.5,127.8v0.01M579.5,136.1V142.0M580.0,133.3V140.8M580.0,144.8v0.01M580.5,130.5V139.7M581.0,132.7V140.8M581.5,134.6V143.3M582.0,132.1V144.8M582.5,132.7V139.7M583.0,134.6V142.0M583.5,130.5v0.01M583.5,134.6V143.3M584.0,133.3v0.01M584.0,136.9V143.3M584.0,150.6v0.01M584.5,133.3V139.7M585.0,131.5V139.7M585.0,143.3v0.01M585.5,129.5V140.8M585.5,146.4v0.01M586.0,135.3V143.3M586.5,133.3V142.0M587.0,133.3V140.8M587.0,146.4v0.01M587.5,132.7V140.8M587.5,153.4v0.01M588.0,132.7V140.8M588.5,134.6V144.8M588.5,148.4v0.01M589.0,132.7v0.01M589.0,136.1V142.0M589.5,134.6V139.7M589.5,144.8v0.01M590.0,135.3V143.3M590.0,148.4v0.01M590.5,135.3V142.0M590.5,150.6v0.01M591.0,132.1V140.8M591.5,134.6V144.8M592.0,136.1V143.3M592.5,136.9V144.8M592.5,148.4v0.01M593.0,133.9V144.8M593.5,135.3V144.8M594.0,136.9V140.8M594.0,144.8v0.01M594.0,148.4v0.01M594.5,132.7V143.3M594.5,148.4v0.01M595.0,133.3v0.01M595.0,137.7V140.8M595.0,144.8v0.01M595.5,135.3V143.3M596.0,137.7V146.4M596.0,153.4v0.01M596.5,134.6V139.7M596.5,144.8v0.01M597.0,136.1V142.0M597.0,146.4V148.4M597.5,135.3V140.8M597.5,146.4V148.4M598.0,135.3V140.8M598.0,146.4v0.01M598.5,133.9v0.01M598.5,137.7V143.3M598.5,148.4v0.01M599.0,135.3V143.3M599.5,136.1V148.4M600.0,133.3V136.9M600.0,142.0v0.01M600.0,146.4v0.01M600.5,136.1V144.8M601.0,135.3V146.4M601.5,136.1V146.4M602.0,136.1V144.8M602.5,136.1V143.3M602.5,153.4v0.01M603.0,138.7V146.4M603.0,150.6v0.01M603.5,134.6V142.0M603.5,146.4v0.01M604.0,139.7V148.4M604.5,136.1V146.4M605.0,136.9V146.4M605.5,134.6V139.7M605.5,144.8V148.4M606.0,138.7V140.8M606.0,144.8V146.4M606.5,137.7V140.8M606.5,144.8V146.4M607.0,135.3V140.8M607.0,144.8v0.01M607.0,148.4v0.01M607.5,136.9V144.8M608.0,136.9V139.7M608.0,143.3v0.01M608.0,148.4V150.6M608.5,136.1v0.01M608.5,140.8V144.8M608.5,153.4v0.01M609.0,139.7V144.8M609.0,148.4V150.6M609.5,136.9v0.01M609.5,140.8v0.01M609.5,144.8V146.4M609.5,150.6V153.4M610.0,133.9V143.3M610.0,148.4v0.01M610.5,135.3V146.4M611.0,137.7V144.8M611.0,148.4v0.01M611.0,157.0v0.01M611.5,136.9V140.8M611.5,144.8v0.01M612.0,133.3v0.01M612.0,136.9V143.3M612.0,157.0v0.01M612.5,138.7V140.8M612.5,144.8V150.6M612.5,157.0v0.01M613.0,136.9V144.8M613.0,153.4v0.01M613.5,136.1V144.8M613.5,148.4v0.01M614.0,136.9V144.8M614.0,148.4V150.6M614.5,136.1V146.4M614.5,153.4v0.01M615.0,135.3V143.3M615.0,153.4v0.01M615.5,133.9v0.01M615.5,137.7V146.4M615.5,150.6v0.01M616.0,136.1V143.3M616.5,137.7V143.3M616.5,150.6v0.01M617.0,137.7V143.3M617.0,153.4v0.01M617.0,157.0v0.01M617.5,137.7V143.3M617.5,148.4v0.01M618.0,138.7V148.4M618.5,142.0V153.4M619.0,136.9V148.4M619.0,153.4v0.01M619.5,133.3v0.01M619.5,136.9V144.8M619.5,148.4V150.6M619.5,162.1v0.01M620.0,139.7V144.8M620.0,148.4v0.01M620.0,153.4v0.01M620.5,138.7V146.4M620.5,153.4v0.01M621.0,136.1V146.4M621.0,150.6v0.01M621.5,139.7V148.4M622.0,133.3v0.01M622.0,139.7V140.8M622.0,144.8V146.4M622.0,150.6v0.01M622.5,136.1V146.4M622.5,150.6v0.01M623.0,138.7V150.6M623.5,138.7V148.4M624.0,138.7V146.4M624.5,136.1V142.0M624.5,146.4V150.6M625.0,142.0V148.4M625.5,136.9V146.4M625.5,150.6v0.01M626.0,136.9V137.7M626.0,142.0V144.8M626.0,148.4V153.4M626.5,137.7V140.8M626.5,144.8v0.01M626.5,148.4V153.4M627.0,137.7V144.8M627.0,148.4v0.01M627.0,153.4v0.01M627.5,134.6V144.8M627.5,162.1v0.01M628.0,134.6v0.01M628.0,140.8V150.6M628.5,140.8V146.4M629.0,137.7V146.4M629.0,153.4v0.01M629.5,136.9V144.8M629.5,148.4v0.01M630.0,140.8V142.0M630.0,146.4V150.6M630.5,137.7V144.8M630.5,148.4v0.01M631.0,139.7v0.01M631.0,143.3V148.4M631.5,138.7V146.4M632.0,137.7V148.4M632.5,136.9V146.4M632.5,150.6v0.01M633.0,138.7V148.4M633.0,153.4v0.01M633.5,137.7V143.3M633.5,148.4V150.6M634.0,136.9v0.01M634.0,140.8V146.4M634.0,150.6v0.01M634.5,137.7v0.01M634.5,142.0V144.8M634.5,148.4V150.6M634.5,157.0v0.01M635.0,136.1V137.7M635.0,142.0V146.4M635.0,150.6V153.4M635.5,137.7V139.7M635.5,144.8V148.4M635.5,153.4v0.01M636.0,140.8V146.4M636.5,142.0V148.4M636.5,153.4v0.01M637.0,137.7v0.01M637.0,142.0V148.4M637.0,157.0v0.01M637.5,139.7V146.4M638.0,136.9V148.4M638.0,153.4v0.01M638.5,138.7V142.0M638.5,146.4V153.4M639.0,137.7v0.01M639.0,142.0V146.4M639.5,136.9v0.01M639.5,142.0V153.4M640.0,136.1V144.8M640.0,150.6V153.4M640.5,135.3V146.4M640.5,150.6V153.4M641.0,138.7V144.8M641.0,148.4V153.4M641.0,157.0v0.01M641.5,139.7V143.3M641.5,148.4v0.01M641.5,162.1v0.01M642.0,135.3V137.7M642.0,142.0V153.4M642.5,137.7V150.6M643.0,137.7V148.4M643.0,153.4v0.01M643.5,140.8V146.4M643.5,150.6V153.4M644.0,139.7V144.8M644.0,148.4v0.01M644.5,138.7v0.01M644.5,143.3V148.4M644.5,153.4v0.01M645.0,140.8V146.4M645.5,139.7v0.01M645.5,143.3V153.4M646.0,140.8V153.4M646.5,137.7V139.7M646.5,143.3V148.4M646.5,153.4v0.01M647.0,137.7V142.0M647.0,146.4V153.4M647.5,142.0V150.6M647.5,157.0v0.01M648.0,139.7V146.4M648.0,150.6v0.01M648.0,157.0v0.01M648.5,137.7V144.8M648.5,150.6V153.4M649.0,139.7V146.4M649.0,150.6V153.4M649.5,142.0V146.4M649.5,153.4v0.01M650.0,136.1v0.01M650.0,139.7V144.8M650.0,148.4v0.01M650.0,153.4v0.01M650.0,157.0v0.01M650.5,139.7V144.8M650.5,150.6v0.01M651.0,139.7V144.8M651.0,148.4V153.4M651.0,170.8v0.01M651.5,137.7V146.4M651.5,153.4v0.01M651.5,157.0v0.01M652.0,138.7V146.4M652.0,150.6v0.01M652.5,138.7V144.8M652.5,148.4v0.01M652.5,157.0v0.01M653.0,140.8v0.01M653.0,144.8V150.6M653.5,137.7v0.01M653.5,142.0V146.4M653.5,150.6v0.01M653.5,170.8v0.01M654.0,139.7v0.01M654.0,144.8V150.6M654.5,138.7V153.4M655.0,136.9V139.7M655.0,143.3V150.6M655.5,137.7V150.6M656.0,140.8V146.4M656.0,150.6v0.01M656.5,140.8v0.01M656.5,144.8V153.4M656.5,157.0v0.01M657.0,139.7V148.4M657.0,153.4v0.01M657.5,139.7V143.3M657.5,153.4v0.01M657.5,157.0v0.01M658.0,139.7V148.4M658.5,140.8V146.4M658.5,162.1v0.01M659.0,143.3V148.4M659.0,162.1v0.01M659.5,143.3V153.4M660.0,137.7V140.8M660.0,146.4V148.4M660.0,153.4v0.01M660.5,139.7V150.6M660.5,162.1v0.01M661.0,139.7V150.6M661.0,157.0v0.01M661.5,142.0V146.4M661.5,150.6V153.4M661.5,162.1v0.01M661.5,170.8v0.01M662.0,137.7V146.4M662.0,153.4v0.01M662.5,137.7v0.01M662.5,142.0v0.01M662.5,146.4V150.6M663.0,139.7V148.4M663.0,153.4v0.01M663.0,157.0v0.01M663.5,139.7V148.4M663.5,153.4v0.01M663.5,157.0v0.01M664.0,137.7v0.01M664.0,143.3V148.4M664.5,142.0v0.01M664.5,146.4V148.4M664.5,153.4v0.01M664.5,157.0v0.01M665.0,136.9V148.4M665.0,162.1v0.01M665.5,140.8V146.4M665.5,150.6v0.01M665.5,157.0v0.01M666.0,143.3V146.4M666.0,150.6V153.4M666.0,157.0v0.01M666.5,140.8V153.4M666.5,170.8v0.01M667.0,142.0V148.4M667.0,153.4v0.01M667.5,142.0V146.4M667.5,150.6v0.01M668.0,143.3V153.4M668.5,139.7V140.8M668.5,144.8V146.4M668.5,150.6V153.4M668.5,162.1v0.01M669.0,137.7V146.4M669.0,150.6V153.4M669.5,138.7v0.01M669.5,143.3V153.4M670.0,139.7V150.6M670.0,157.0v0.01M670.5,140.8V146.4M670.5,150.6V153.4M670.5,157.0v0.01M671.0,142.0V144.8M671.0,148.4V150.6M671.0,157.0v0.01M671.0,162.1v0.01M671.5,140.8V144.8M671.5,148.4v0.01M671.5,153.4v0.01M672.0,142.0V150.6M672.5,138.7V153.4M673.0,138.7V148.4M673.0,157.0v0.01M673.5,138.7V146.4M673.5,150.6v0.01M674.0,136.1v0.01M674.0,139.7V153.4M674.5,142.0V153.4M675.0,142.0V148.4M675.0,153.4v0.01M675.0,157.0v0.01M675.0,162.1v0.01M675.5,142.0V150.6M675.5,157.0v0.01M676.0,143.3v0.01M676.0,148.4v0.01" stroke="#5cb3e0" stroke-width="3.8" stroke-linecap="round" fill="none"/>
<path d="M475.5,41.6V46.1M476.0,46.3V51.0M476.5,50.6V54.1M477.0,24.8v0.01M477.0,53.7V57.0M477.5,57.5V60.3M478.0,60.7V63.8M478.5,64.5V66.2M479.0,66.0V68.5M479.5,68.9V72.2M480.0,71.2V73.3M480.5,73.3V76.8M481.0,75.2V78.8M481.5,78.3V81.3M482.0,80.6V82.7M482.5,83.6V85.6M483.0,85.2V87.9M483.5,86.9V91.7M484.0,88.8V93.4M484.5,92.2V95.4M485.0,93.8V97.6M485.5,96.7V100.2M486.0,99.6V101.7M486.5,100.4V104.6M487.0,102.2V106.8M487.5,104.4V108.1M488.0,107.0V112.4M488.5,108.5V111.2M489.0,111.0V115.6M489.5,113.8V118.7M490.0,115.8V123.4M490.5,115.8V121.6M491.0,119.1V125.6M491.5,120.6V128.2M492.0,123.1V127.8M492.5,125.9V130.0M493.0,127.0V133.9M493.5,128.6V136.9M494.0,129.1V140.8M494.5,131.0V137.7M494.5,143.3v0.01M495.0,132.7V142.0M495.5,134.6V144.8M496.0,132.7v0.01M496.0,137.7V144.8M496.0,148.4v0.01M496.5,136.9V148.4M497.0,139.7V146.4M497.0,150.6v0.01M497.5,139.7V140.8M497.5,144.8V150.6M497.5,157.0v0.01M498.0,142.0V144.8M498.0,148.4V153.4M498.5,143.3V153.4M498.5,157.0v0.01M498.5,162.1v0.01M498.5,170.8v0.01M499.0,143.3V153.4M499.0,157.0v0.01M499.0,162.1v0.01M499.5,139.7v0.01M499.5,144.8V153.4M499.5,157.0v0.01M499.5,162.1v0.01M500.0,144.8V150.6M500.0,157.0v0.01M500.0,162.1v0.01M500.0,170.8v0.01M500.5,148.4V153.4M500.5,157.0v0.01M501.0,146.4V153.4M501.0,162.1v0.01M501.0,170.8v0.01M501.5,148.4V153.4M501.5,157.0v0.01M501.5,162.1v0.01M501.5,170.8v0.01M502.0,148.4v0.01M502.0,153.4v0.01M502.0,157.0v0.01M502.0,162.1v0.01M502.0,170.8v0.01M502.5,146.4V148.4M502.5,153.4v0.01M502.5,157.0v0.01M502.5,162.1v0.01M502.5,170.8v0.01M503.0,148.4V153.4M503.0,157.0v0.01M503.0,170.8v0.01M503.5,144.8V146.4M503.5,150.6V153.4M503.5,157.0v0.01M503.5,162.1v0.01M504.0,148.4v0.01M504.0,153.4v0.01M504.0,162.1v0.01M504.5,150.6V153.4M504.5,157.0v0.01M504.5,162.1v0.01M504.5,170.8v0.01M505.0,146.4V153.4M505.0,157.0v0.01M505.0,162.1v0.01M505.5,146.4v0.01M505.5,150.6V153.4M505.5,157.0v0.01M505.5,162.1v0.01M505.5,170.8v0.01M506.0,146.4v0.01M506.0,150.6V153.4M506.0,157.0v0.01M506.0,170.8v0.01M506.5,148.4V153.4M506.5,157.0v0.01M506.5,162.1v0.01M506.5,170.8v0.01M507.0,144.8V146.4M507.0,150.6V153.4M507.0,157.0v0.01M507.0,162.1v0.01M507.0,170.8v0.01M507.5,143.3V144.8M507.5,148.4V153.4M507.5,157.0v0.01M508.0,143.3V146.4M508.0,150.6V153.4M508.0,157.0v0.01M508.5,148.4V153.4M508.5,157.0v0.01M508.5,170.8v0.01M509.0,146.4v0.01M509.0,150.6V153.4M509.0,157.0v0.01M509.0,162.1v0.01M509.0,170.8v0.01M509.5,148.4v0.01M509.5,153.4v0.01M509.5,157.0v0.01M509.5,162.1v0.01M510.0,146.4V153.4M510.0,162.1v0.01M510.0,170.8v0.01M510.5,142.0v0.01M510.5,150.6V153.4M510.5,157.0v0.01M510.5,162.1v0.01M511.0,144.8V148.4M511.0,153.4v0.01M511.0,162.1v0.01M511.0,170.8v0.01M511.5,148.4V153.4M511.5,162.1v0.01M512.0,146.4V150.6M512.0,157.0v0.01M512.0,162.1v0.01M512.0,170.8v0.01M512.5,148.4V153.4M512.5,157.0v0.01M512.5,170.8v0.01M513.0,146.4v0.01M513.0,150.6V153.4M513.0,157.0v0.01M513.0,162.1v0.01M513.5,143.3v0.01M513.5,150.6V153.4M513.5,157.0v0.01M513.5,162.1v0.01M513.5,170.8v0.01M514.0,146.4V150.6M514.0,157.0v0.01M514.0,162.1v0.01M514.5,146.4V150.6M514.5,162.1v0.01M514.5,170.8v0.01M515.0,139.7v0.01M515.0,146.4V148.4M515.0,153.4v0.01M515.0,157.0v0.01M515.0,162.1v0.01M515.0,170.8v0.01M515.5,148.4V153.4M515.5,162.1v0.01M515.5,170.8v0.01M516.0,146.4V153.4M516.0,157.0v0.01M516.0,162.1v0.01M516.0,170.8v0.01M516.5,148.4V153.4M516.5,157.0v0.01M516.5,162.1v0.01M516.5,170.8v0.01M517.0,144.8V153.4M517.0,157.0v0.01M517.5,146.4v0.01M517.5,150.6V153.4M517.5,157.0v0.01M517.5,162.1v0.01M517.5,170.8v0.01M518.0,148.4V153.4M518.0,157.0v0.01M518.0,162.1v0.01M518.5,146.4v0.01M518.5,150.6v0.01M518.5,157.0v0.01M518.5,170.8v0.01M519.0,146.4V153.4M519.0,157.0v0.01M519.0,162.1v0.01M519.5,148.4V153.4M519.5,157.0v0.01M519.5,162.1v0.01M519.5,170.8v0.01M520.0,148.4V153.4M520.0,157.0v0.01M520.0,170.8v0.01M520.5,144.8V153.4M520.5,162.1v0.01M520.5,170.8v0.01M521.0,148.4V153.4M521.0,157.0v0.01M521.0,162.1v0.01M521.5,146.4v0.01M521.5,150.6V153.4M521.5,157.0v0.01M521.5,170.8v0.01M522.0,148.4V153.4M522.0,157.0v0.01M522.5,146.4V150.6M522.5,157.0v0.01M522.5,162.1v0.01M523.0,143.3V144.8M523.0,150.6V153.4M523.0,157.0v0.01M523.0,162.1v0.01M523.0,170.8v0.01M523.5,148.4V150.6M523.5,157.0v0.01M523.5,162.1v0.01M524.0,146.4V153.4M524.0,162.1v0.01M524.5,146.4V153.4M524.5,162.1v0.01M525.0,148.4V153.4M525.0,157.0v0.01M525.0,162.1v0.01M525.0,170.8v0.01M525.5,148.4V153.4M525.5,157.0v0.01M525.5,162.1v0.01M526.0,144.8v0.01M526.0,148.4V153.4M526.0,157.0v0.01M526.0,170.8v0.01M526.5,146.4V150.6M526.5,157.0v0.01M526.5,170.8v0.01M527.0,146.4V153.4M527.0,157.0v0.01M527.0,170.8v0.01M527.5,148.4V153.4M527.5,157.0v0.01M527.5,162.1v0.01M527.5,170.8v0.01M528.0,150.6V153.4M528.0,162.1v0.01M528.0,170.8v0.01M528.5,146.4V153.4M528.5,162.1v0.01M529.0,148.4V153.4M529.0,157.0v0.01M529.0,162.1v0.01M529.0,170.8v0.01M529.5,146.4v0.01M529.5,150.6V153.4M529.5,157.0v0.01M529.5,162.1v0.01M530.0,148.4v0.01M530.0,153.4v0.01M530.0,157.0v0.01M530.0,162.1v0.01M530.5,148.4V153.4M530.5,157.0v0.01M530.5,162.1v0.01M530.5,170.8v0.01M531.0,143.3V146.4M531.0,150.6V153.4M531.0,170.8v0.01M531.5,148.4V153.4M531.5,157.0v0.01M531.5,162.1v0.01M532.0,143.3V144.8M532.0,148.4V150.6M532.0,157.0v0.01M532.0,162.1v0.01M532.0,170.8v0.01M532.5,146.4v0.01M532.5,153.4v0.01M532.5,157.0v0.01M532.5,162.1v0.01M532.5,170.8v0.01M533.0,148.4V150.6M533.0,157.0v0.01M533.0,162.1v0.01M533.0,170.8v0.01M533.5,150.6v0.01M533.5,157.0v0.01M533.5,162.1v0.01M533.5,170.8v0.01M534.0,143.3V148.4M534.0,153.4v0.01M534.0,162.1v0.01M534.0,170.8v0.01M534.5,146.4V153.4M534.5,162.1v0.01M535.0,146.4V153.4M535.0,162.1v0.01M535.0,170.8v0.01M535.5,143.3v0.01M535.5,148.4V150.6M535.5,157.0v0.01M535.5,162.1v0.01M535.5,170.8v0.01M536.0,148.4v0.01M536.0,153.4v0.01M536.0,157.0v0.01M536.0,162.1v0.01M536.0,170.8v0.01M536.5,144.8v0.01M536.5,150.6V153.4M536.5,157.0v0.01M536.5,162.1v0.01M537.0,144.8v0.01M537.0,148.4V153.4M537.0,157.0v0.01M537.0,162.1v0.01M537.5,150.6V153.4M537.5,157.0v0.01M537.5,162.1v0.01M537.5,170.8v0.01M538.0,146.4V153.4M538.0,157.0v0.01M538.0,162.1v0.01M538.0,170.8v0.01M538.5,146.4v0.01M538.5,150.6V153.4M538.5,157.0v0.01M538.5,170.8v0.01M539.0,144.8v0.01M539.0,150.6V153.4M539.0,170.8v0.01M539.5,144.8v0.01M539.5,148.4V153.4M539.5,157.0v0.01M539.5,162.1v0.01M539.5,170.8v0.01M540.0,146.4V148.4M540.0,153.4v0.01M540.0,157.0v0.01M540.0,162.1v0.01M540.0,170.8v0.01M540.5,148.4V153.4M540.5,157.0v0.01M540.5,162.1v0.01M541.0,143.3v0.01M541.0,150.6V153.4M541.0,157.0v0.01M541.0,162.1v0.01M541.0,170.8v0.01M541.5,146.4V150.6M541.5,157.0v0.01M541.5,162.1v0.01M541.5,170.8v0.01M542.0,150.6V153.4M542.0,157.0v0.01M542.0,162.1v0.01M542.5,144.8V146.4M542.5,150.6v0.01M542.5,162.1v0.01M542.5,170.8v0.01M543.0,146.4v0.01M543.0,150.6V153.4M543.0,157.0v0.01M543.0,162.1v0.01M543.0,170.8v0.01M543.5,148.4V153.4M543.5,157.0v0.01M543.5,162.1v0.01M544.0,144.8v0.01M544.0,148.4V153.4M544.0,157.0v0.01M544.0,162.1v0.01M544.0,170.8v0.01M544.5,146.4v0.01M544.5,153.4v0.01M544.5,157.0v0.01M544.5,162.1v0.01M544.5,170.8v0.01M545.0,144.8v0.01M545.0,148.4V153.4M545.0,157.0v0.01M545.0,162.1v0.01M545.0,170.8v0.01M545.5,144.8V146.4M545.5,153.4v0.01M545.5,157.0v0.01M545.5,162.1v0.01M546.0,148.4v0.01M546.0,153.4v0.01M546.0,157.0v0.01M546.0,162.1v0.01M546.5,148.4V153.4M546.5,157.0v0.01M546.5,162.1v0.01M546.5,170.8v0.01M547.0,143.3v0.01M547.0,150.6V153.4M547.0,162.1v0.01M547.5,148.4v0.01M547.5,153.4v0.01M547.5,157.0v0.01M547.5,162.1v0.01M547.5,170.8v0.01M548.0,146.4V148.4M548.0,153.4v0.01M548.0,157.0v0.01M548.0,162.1v0.01M548.0,170.8v0.01M548.5,146.4v0.01M548.5,150.6V153.4M548.5,157.0v0.01M548.5,162.1v0.01M548.5,170.8v0.01M549.0,150.6V153.4M549.0,157.0v0.01M549.0,162.1v0.01M549.5,148.4v0.01M549.5,153.4v0.01M549.5,157.0v0.01M549.5,162.1v0.01M549.5,170.8v0.01M550.0,143.3v0.01M550.0,148.4v0.01M550.0,157.0v0.01M550.0,162.1v0.01M550.0,170.8v0.01M550.5,148.4V150.6M550.5,157.0v0.01M550.5,162.1v0.01M550.5,170.8v0.01M551.0,144.8v0.01M551.0,150.6V153.4M551.0,157.0v0.01M551.0,162.1v0.01M551.0,170.8v0.01M551.5,144.8V150.6M551.5,157.0v0.01M551.5,162.1v0.01M551.5,170.8v0.01M552.0,148.4V153.4M552.0,157.0v0.01M552.0,162.1v0.01M552.0,170.8v0.01M552.5,150.6V153.4M552.5,157.0v0.01M552.5,162.1v0.01M553.0,146.4V153.4M553.0,162.1v0.01M553.0,170.8v0.01M553.5,148.4V153.4M553.5,157.0v0.01M553.5,162.1v0.01M554.0,144.8v0.01M554.0,148.4v0.01M554.0,153.4v0.01M554.0,157.0v0.01M554.0,162.1v0.01M554.0,170.8v0.01M554.5,143.3v0.01M554.5,150.6V153.4M554.5,157.0v0.01M554.5,162.1v0.01M554.5,170.8v0.01M555.0,146.4V150.6M555.0,157.0v0.01M555.0,162.1v0.01M555.5,146.4v0.01M555.5,153.4v0.01M555.5,157.0v0.01M555.5,162.1v0.01M555.5,170.8v0.01M556.0,146.4V153.4M556.0,157.0v0.01M556.0,162.1v0.01M556.5,150.6V153.4M556.5,157.0v0.01M556.5,162.1v0.01M556.5,170.8v0.01M557.0,150.6v0.01M557.0,157.0v0.01M557.0,162.1v0.01M557.0,170.8v0.01M557.5,148.4v0.01M557.5,153.4v0.01M557.5,157.0v0.01M557.5,162.1v0.01M558.0,150.6V153.4M558.0,157.0v0.01M558.0,162.1v0.01M558.0,170.8v0.01M558.5,146.4V153.4M558.5,157.0v0.01M558.5,162.1v0.01M559.0,146.4V153.4M559.0,157.0v0.01M559.5,144.8V148.4M559.5,157.0v0.01M559.5,162.1v0.01M560.0,148.4v0.01M560.0,153.4v0.01M560.0,157.0v0.01M560.0,162.1v0.01M560.0,170.8v0.01M560.5,150.6V153.4M560.5,157.0v0.01M560.5,162.1v0.01M561.0,148.4V153.4M561.0,157.0v0.01M561.0,170.8v0.01M561.5,146.4V153.4M561.5,157.0v0.01M561.5,162.1v0.01M561.5,170.8v0.01M562.0,150.6V153.4M562.0,162.1v0.01M562.5,148.4V153.4M562.5,157.0v0.01M562.5,162.1v0.01M562.5,170.8v0.01M563.0,146.4v0.01M563.0,150.6V153.4M563.0,157.0v0.01M563.5,146.4V148.4M563.5,153.4v0.01M563.5,157.0v0.01M563.5,162.1v0.01M563.5,170.8v0.01M564.0,148.4V153.4M564.0,157.0v0.01M564.0,162.1v0.01M564.0,170.8v0.01M564.5,148.4V153.4M564.5,157.0v0.01M564.5,170.8v0.01M565.0,150.6V153.4M565.0,157.0v0.01M565.0,162.1v0.01M565.0,170.8v0.01M565.5,144.8V153.4M565.5,157.0v0.01M565.5,162.1v0.01M565.5,170.8v0.01M566.0,148.4v0.01M566.0,153.4v0.01M566.0,157.0v0.01M566.0,162.1v0.01M566.5,153.4v0.01M566.5,157.0v0.01M566.5,162.1v0.01M567.0,143.3V146.4M567.0,150.6V153.4M567.0,157.0v0.01M567.0,162.1v0.01M567.0,170.8v0.01M567.5,153.4v0.01M567.5,162.1v0.01M567.5,170.8v0.01M568.0,146.4v0.01M568.0,150.6V153.4M568.0,157.0v0.01M568.0,170.8v0.01M568.5,148.4V153.4M568.5,157.0v0.01M568.5,162.1v0.01M569.0,148.4V153.4M569.0,162.1v0.01M569.0,170.8v0.01M569.5,150.6V153.4M569.5,157.0v0.01M569.5,162.1v0.01M570.0,146.4v0.01M570.0,150.6V153.4M570.0,157.0v0.01M570.0,162.1v0.01M570.5,144.8v0.01M570.5,148.4V153.4M570.5,157.0v0.01M570.5,162.1v0.01M571.0,146.4V153.4M571.0,157.0v0.01M571.0,170.8v0.01M571.5,144.8v0.01M571.5,153.4v0.01M571.5,157.0v0.01M571.5,162.1v0.01M571.5,170.8v0.01M572.0,150.6V153.4M572.0,157.0v0.01M572.0,162.1v0.01M572.0,170.8v0.01M572.5,153.4v0.01M572.5,157.0v0.01M572.5,162.1v0.01M572.5,170.8v0.01M573.0,144.8V146.4M573.0,150.6V153.4M573.0,157.0v0.01M573.0,162.1v0.01M573.5,148.4V153.4M573.5,157.0v0.01M573.5,162.1v0.01M573.5,170.8v0.01M574.0,148.4V153.4M574.0,157.0v0.01M574.0,162.1v0.01M574.0,170.8v0.01M574.5,144.8v0.01M574.5,148.4V153.4M574.5,157.0v0.01M574.5,162.1v0.01M575.0,140.8v0.01M575.0,150.6v0.01M575.0,157.0v0.01M575.0,162.1v0.01M575.0,170.8v0.01M575.5,146.4v0.01M575.5,150.6V153.4M575.5,157.0v0.01M575.5,162.1v0.01M575.5,170.8v0.01" stroke="#90b683" stroke-width="3.8" stroke-linecap="round" fill="none"/>
<path d="M475.5,42.5V59.3M475.5,144.8V153.4M475.5,157.0v0.01M475.5,162.1v0.01M475.5,170.8v0.01M476.0,58.2V72.1M476.0,143.3V144.8M476.0,148.4V153.4M476.0,157.0v0.01M476.0,162.1v0.01M476.5,74.4V75.0M476.5,78.9V82.8M476.5,86.4V90.6M476.5,143.3v0.01M476.5,148.4V153.4M476.5,157.0v0.01M476.5,170.8v0.01M477.0,92.9V95.7M477.0,99.9V110.1M477.0,144.8v0.01M477.0,148.4V150.6M477.0,157.0v0.01M477.0,162.1v0.01M477.0,170.8v0.01M477.5,106.8v0.01M477.5,111.6V120.2M477.5,142.0v0.01M477.5,148.4V153.4M477.5,162.1v0.01M477.5,170.8v0.01M478.0,117.4V120.8M478.0,124.6V131.5M478.0,146.4v0.01M478.0,150.6V153.4M478.0,157.0v0.01M478.0,162.1v0.01M478.0,170.8v0.01M478.5,131.5V136.1M478.5,139.7V143.3M478.5,150.6V153.4M478.5,162.1v0.01M478.5,170.8v0.01M479.0,132.1V153.4M479.0,157.0v0.01M479.0,162.1v0.01M479.0,170.8v0.01M479.5,140.8V142.0M479.5,148.4V153.4M479.5,157.0v0.01M479.5,162.1v0.01M480.0,146.4V153.4M480.0,162.1v0.01M480.0,170.8v0.01M480.5,146.4V148.4M480.5,153.4v0.01M480.5,157.0v0.01M480.5,162.1v0.01M481.0,139.7v0.01M481.0,146.4V148.4M481.0,153.4v0.01M481.0,157.0v0.01M481.0,162.1v0.01M481.0,170.8v0.01M481.5,140.8V144.8M481.5,153.4v0.01M481.5,162.1v0.01M482.0,143.3V146.4M482.0,153.4v0.01M482.0,157.0v0.01M482.0,162.1v0.01M482.0,170.8v0.01M482.5,148.4V150.6M482.5,157.0v0.01M482.5,162.1v0.01M482.5,170.8v0.01M483.0,142.0v0.01M483.0,148.4V153.4M483.0,157.0v0.01M483.0,162.1v0.01M483.0,170.8v0.01M483.5,143.3V146.4M483.5,150.6V153.4M483.5,157.0v0.01M483.5,170.8v0.01M484.0,143.3v0.01M484.0,148.4V153.4M484.0,157.0v0.01M484.0,162.1v0.01M484.0,170.8v0.01M484.5,143.3V153.4M484.5,157.0v0.01M484.5,162.1v0.01M484.5,170.8v0.01M485.0,143.3V148.4M485.0,157.0v0.01M485.0,162.1v0.01M485.0,170.8v0.01M485.5,144.8v0.01M485.5,170.8v0.01" stroke="#e8962a" stroke-width="3.8" stroke-linecap="round" fill="none"/>
<rect x="470.2" y="12.5" width="205.3" height="164.7" stroke="#7a7a7a" stroke-width="1" fill="none"/>
<line x1="470.2" y1="170.80" x2="467" y2="170.80" stroke="#7a7a7a" stroke-width="1" fill="none"/>
<line x1="470.2" y1="162.12" x2="468.4" y2="162.12" stroke="#7a7a7a" stroke-width="0.7"/>
<line x1="470.2" y1="157.04" x2="468.4" y2="157.04" stroke="#7a7a7a" stroke-width="0.7"/>
<line x1="470.2" y1="153.44" x2="468.4" y2="153.44" stroke="#7a7a7a" stroke-width="0.7"/>
<line x1="470.2" y1="150.64" x2="468.4" y2="150.64" stroke="#7a7a7a" stroke-width="0.7"/>
<line x1="470.2" y1="148.36" x2="468.4" y2="148.36" stroke="#7a7a7a" stroke-width="0.7"/>
<line x1="470.2" y1="146.43" x2="468.4" y2="146.43" stroke="#7a7a7a" stroke-width="0.7"/>
<line x1="470.2" y1="144.75" x2="468.4" y2="144.75" stroke="#7a7a7a" stroke-width="0.7"/>
<line x1="470.2" y1="143.28" x2="468.4" y2="143.28" stroke="#7a7a7a" stroke-width="0.7"/>
<text x="451.8" y="173.70" font-size="10.2" text-anchor="start" fill="#1a1a1a" textLength="10.3">10</text>
<text x="462.7" y="169.90" font-size="6.6" text-anchor="start" fill="#1a1a1a">0</text>
<line x1="470.2" y1="141.96" x2="467" y2="141.96" stroke="#7a7a7a" stroke-width="1" fill="none"/>
<line x1="470.2" y1="133.28" x2="468.4" y2="133.28" stroke="#7a7a7a" stroke-width="0.7"/>
<line x1="470.2" y1="128.20" x2="468.4" y2="128.20" stroke="#7a7a7a" stroke-width="0.7"/>
<line x1="470.2" y1="124.60" x2="468.4" y2="124.60" stroke="#7a7a7a" stroke-width="0.7"/>
<line x1="470.2" y1="121.80" x2="468.4" y2="121.80" stroke="#7a7a7a" stroke-width="0.7"/>
<line x1="470.2" y1="119.52" x2="468.4" y2="119.52" stroke="#7a7a7a" stroke-width="0.7"/>
<line x1="470.2" y1="117.59" x2="468.4" y2="117.59" stroke="#7a7a7a" stroke-width="0.7"/>
<line x1="470.2" y1="115.91" x2="468.4" y2="115.91" stroke="#7a7a7a" stroke-width="0.7"/>
<line x1="470.2" y1="114.44" x2="468.4" y2="114.44" stroke="#7a7a7a" stroke-width="0.7"/>
<text x="451.8" y="144.86" font-size="10.2" text-anchor="start" fill="#1a1a1a" textLength="10.3">10</text>
<text x="462.7" y="141.06" font-size="6.6" text-anchor="start" fill="#1a1a1a">1</text>
<line x1="470.2" y1="113.12" x2="467" y2="113.12" stroke="#7a7a7a" stroke-width="1" fill="none"/>
<line x1="470.2" y1="104.44" x2="468.4" y2="104.44" stroke="#7a7a7a" stroke-width="0.7"/>
<line x1="470.2" y1="99.36" x2="468.4" y2="99.36" stroke="#7a7a7a" stroke-width="0.7"/>
<line x1="470.2" y1="95.76" x2="468.4" y2="95.76" stroke="#7a7a7a" stroke-width="0.7"/>
<line x1="470.2" y1="92.96" x2="468.4" y2="92.96" stroke="#7a7a7a" stroke-width="0.7"/>
<line x1="470.2" y1="90.68" x2="468.4" y2="90.68" stroke="#7a7a7a" stroke-width="0.7"/>
<line x1="470.2" y1="88.75" x2="468.4" y2="88.75" stroke="#7a7a7a" stroke-width="0.7"/>
<line x1="470.2" y1="87.07" x2="468.4" y2="87.07" stroke="#7a7a7a" stroke-width="0.7"/>
<line x1="470.2" y1="85.60" x2="468.4" y2="85.60" stroke="#7a7a7a" stroke-width="0.7"/>
<text x="451.8" y="116.02" font-size="10.2" text-anchor="start" fill="#1a1a1a" textLength="10.3">10</text>
<text x="462.7" y="112.22" font-size="6.6" text-anchor="start" fill="#1a1a1a">2</text>
<line x1="470.2" y1="84.28" x2="467" y2="84.28" stroke="#7a7a7a" stroke-width="1" fill="none"/>
<line x1="470.2" y1="75.60" x2="468.4" y2="75.60" stroke="#7a7a7a" stroke-width="0.7"/>
<line x1="470.2" y1="70.52" x2="468.4" y2="70.52" stroke="#7a7a7a" stroke-width="0.7"/>
<line x1="470.2" y1="66.92" x2="468.4" y2="66.92" stroke="#7a7a7a" stroke-width="0.7"/>
<line x1="470.2" y1="64.12" x2="468.4" y2="64.12" stroke="#7a7a7a" stroke-width="0.7"/>
<line x1="470.2" y1="61.84" x2="468.4" y2="61.84" stroke="#7a7a7a" stroke-width="0.7"/>
<line x1="470.2" y1="59.91" x2="468.4" y2="59.91" stroke="#7a7a7a" stroke-width="0.7"/>
<line x1="470.2" y1="58.23" x2="468.4" y2="58.23" stroke="#7a7a7a" stroke-width="0.7"/>
<line x1="470.2" y1="56.76" x2="468.4" y2="56.76" stroke="#7a7a7a" stroke-width="0.7"/>
<text x="451.8" y="87.18" font-size="10.2" text-anchor="start" fill="#1a1a1a" textLength="10.3">10</text>
<text x="462.7" y="83.38" font-size="6.6" text-anchor="start" fill="#1a1a1a">3</text>
<line x1="470.2" y1="55.44" x2="467" y2="55.44" stroke="#7a7a7a" stroke-width="1" fill="none"/>
<line x1="470.2" y1="46.76" x2="468.4" y2="46.76" stroke="#7a7a7a" stroke-width="0.7"/>
<line x1="470.2" y1="41.68" x2="468.4" y2="41.68" stroke="#7a7a7a" stroke-width="0.7"/>
<line x1="470.2" y1="38.08" x2="468.4" y2="38.08" stroke="#7a7a7a" stroke-width="0.7"/>
<line x1="470.2" y1="35.28" x2="468.4" y2="35.28" stroke="#7a7a7a" stroke-width="0.7"/>
<line x1="470.2" y1="33.00" x2="468.4" y2="33.00" stroke="#7a7a7a" stroke-width="0.7"/>
<line x1="470.2" y1="31.07" x2="468.4" y2="31.07" stroke="#7a7a7a" stroke-width="0.7"/>
<line x1="470.2" y1="29.39" x2="468.4" y2="29.39" stroke="#7a7a7a" stroke-width="0.7"/>
<line x1="470.2" y1="27.92" x2="468.4" y2="27.92" stroke="#7a7a7a" stroke-width="0.7"/>
<text x="451.8" y="58.34" font-size="10.2" text-anchor="start" fill="#1a1a1a" textLength="10.3">10</text>
<text x="462.7" y="54.54" font-size="6.6" text-anchor="start" fill="#1a1a1a">4</text>
<line x1="470.2" y1="26.60" x2="467" y2="26.60" stroke="#7a7a7a" stroke-width="1" fill="none"/>
<line x1="470.2" y1="17.92" x2="468.4" y2="17.92" stroke="#7a7a7a" stroke-width="0.7"/>
<line x1="470.2" y1="12.84" x2="468.4" y2="12.84" stroke="#7a7a7a" stroke-width="0.7"/>
<text x="451.8" y="29.50" font-size="10.2" text-anchor="start" fill="#1a1a1a" textLength="10.3">10</text>
<text x="462.7" y="25.70" font-size="6.6" text-anchor="start" fill="#1a1a1a">5</text>
<line x1="470.2" y1="175.27" x2="468.4" y2="175.27" stroke="#7a7a7a" stroke-width="0.7"/>
<line x1="470.2" y1="173.59" x2="468.4" y2="173.59" stroke="#7a7a7a" stroke-width="0.7"/>
<line x1="470.2" y1="172.12" x2="468.4" y2="172.12" stroke="#7a7a7a" stroke-width="0.7"/>
<line x1="475.30" y1="177.2" x2="475.30" y2="180.2" stroke="#7a7a7a" stroke-width="1" fill="none"/>
<line x1="500.38" y1="177.2" x2="500.38" y2="179.2" stroke="#7a7a7a" stroke-width="1" fill="none"/>
<line x1="525.45" y1="177.2" x2="525.45" y2="180.2" stroke="#7a7a7a" stroke-width="1" fill="none"/>
<line x1="550.52" y1="177.2" x2="550.52" y2="179.2" stroke="#7a7a7a" stroke-width="1" fill="none"/>
<line x1="575.60" y1="177.2" x2="575.60" y2="180.2" stroke="#7a7a7a" stroke-width="1" fill="none"/>
<line x1="600.67" y1="177.2" x2="600.67" y2="179.2" stroke="#7a7a7a" stroke-width="1" fill="none"/>
<line x1="625.75" y1="177.2" x2="625.75" y2="180.2" stroke="#7a7a7a" stroke-width="1" fill="none"/>
<line x1="650.83" y1="177.2" x2="650.83" y2="179.2" stroke="#7a7a7a" stroke-width="1" fill="none"/>
<line x1="675.90" y1="177.2" x2="675.90" y2="180.2" stroke="#7a7a7a" stroke-width="1" fill="none"/>
<text x="475.30" y="188.60" font-size="10.5" text-anchor="middle" font-weight="normal" fill="#1a1a1a" >0.0</text>
<text x="525.45" y="188.60" font-size="10.5" text-anchor="middle" font-weight="normal" fill="#1a1a1a" >0.5</text>
<text x="575.60" y="188.60" font-size="10.5" text-anchor="middle" font-weight="normal" fill="#1a1a1a" >1.0</text>
<text x="625.75" y="188.60" font-size="10.5" text-anchor="middle" font-weight="normal" fill="#1a1a1a" >1.5</text>
<text x="675.90" y="188.60" font-size="10.5" text-anchor="middle" font-weight="normal" fill="#1a1a1a" >2.0</text>
<text x="573.00" y="199.40" font-size="10.5" text-anchor="middle" font-weight="normal" fill="#1a1a1a" >Time (s)</text>
<text x="0" y="0" font-size="10.5" text-anchor="middle" fill="#1a1a1a" transform="translate(449.6,96) rotate(-90)">Intensity (counts)</text>
<text x="439.30" y="11.00" font-size="13" text-anchor="start" font-weight="bold" fill="#000" >c</text>
<circle cx="541.8" cy="35.4" r="2" fill="#5cb3e0"/>
<text x="550.80" y="39.20" font-size="10.5" text-anchor="start" font-weight="normal" fill="#1a1a1a" >DCzBr</text>
<text x="588.80" y="39.20" font-size="10.5" text-anchor="start" font-weight="normal" fill="#1a1a1a" >&#964; = 572.27 ms</text>
<circle cx="541.8" cy="53.6" r="2" fill="#90b683"/>
<text x="550.80" y="57.40" font-size="10.5" text-anchor="start" font-weight="normal" fill="#1a1a1a" >DPBr</text>
<text x="588.80" y="57.40" font-size="10.5" text-anchor="start" font-weight="normal" fill="#1a1a1a" >&#964; = 31.91 ms</text>
<circle cx="541.8" cy="72" r="2" fill="#e8962a"/>
<text x="550.80" y="75.80" font-size="10.5" text-anchor="start" font-weight="normal" fill="#1a1a1a" >DBrNBr</text>
<text x="588.80" y="75.80" font-size="10.5" text-anchor="start" font-weight="normal" fill="#1a1a1a" >&#964; = 5.87 ms</text>
<rect x="246.7" y="222.2" width="428.8" height="178" fill="none" stroke="#8c8c8c" stroke-width="0.9" stroke-dasharray="3,2.2"/>
<text x="238.00" y="225.20" font-size="13" text-anchor="start" font-weight="bold" fill="#000" >d</text>
<defs>
<linearGradient id="lvP" x1="0" y1="0" x2="0" y2="1"><stop offset="0" stop-color="#fff" stop-opacity="0"/><stop offset="0.45" stop-color="#8f86c6" stop-opacity="0.25"/><stop offset="1" stop-color="#8f86c6" stop-opacity="1"/></linearGradient>
<linearGradient id="lvC" x1="0" y1="0" x2="0" y2="1"><stop offset="0" stop-color="#fff" stop-opacity="0"/><stop offset="0.45" stop-color="#7fd0f2" stop-opacity="0.25"/><stop offset="1" stop-color="#7fd0f2" stop-opacity="1"/></linearGradient>
<linearGradient id="lvG" x1="0" y1="0" x2="0" y2="1"><stop offset="0" stop-color="#fff" stop-opacity="0"/><stop offset="0.45" stop-color="#a8d0a2" stop-opacity="0.25"/><stop offset="1" stop-color="#a8d0a2" stop-opacity="1"/></linearGradient>
<linearGradient id="lvO" x1="0" y1="0" x2="0" y2="1"><stop offset="0" stop-color="#fff" stop-opacity="0"/><stop offset="0.45" stop-color="#f0c070" stop-opacity="0.25"/><stop offset="1" stop-color="#f0c070" stop-opacity="1"/></linearGradient>
<linearGradient id="arP" gradientUnits="userSpaceOnUse" x1="0" y1="245.5" x2="0" y2="379"><stop offset="0" stop-color="#f4f0f8"/><stop offset="0.8" stop-color="#6a2ca0" stop-opacity="0.92"/><stop offset="1" stop-color="#6a2ca0"/></linearGradient>
<linearGradient id="arC" gradientUnits="userSpaceOnUse" x1="0" y1="286.0" x2="0" y2="379"><stop offset="0" stop-color="#eef8fa"/><stop offset="0.8" stop-color="#3a9ac4" stop-opacity="0.92"/><stop offset="1" stop-color="#3a9ac4"/></linearGradient>
<linearGradient id="arG" gradientUnits="userSpaceOnUse" x1="0" y1="298.0" x2="0" y2="379"><stop offset="0" stop-color="#f2f8f2"/><stop offset="0.8" stop-color="#86bc84" stop-opacity="0.92"/><stop offset="1" stop-color="#86bc84"/></linearGradient>
<linearGradient id="arO" gradientUnits="userSpaceOnUse" x1="0" y1="332.0" x2="0" y2="379"><stop offset="0" stop-color="#fdf4e2"/><stop offset="0.8" stop-color="#e8a42c" stop-opacity="0.92"/><stop offset="1" stop-color="#e8a42c"/></linearGradient>
<linearGradient id="s0sh" x1="0" y1="0" x2="0" y2="1"><stop offset="0" stop-color="#707070"/><stop offset="0.4" stop-color="#c4c4c4"/><stop offset="1" stop-color="#fff"/></linearGradient>
<linearGradient id="espbar" x1="0" y1="0" x2="1" y2="0"><stop offset="0" stop-color="#2a3ea8"/><stop offset="0.12" stop-color="#3648b0"/><stop offset="0.42" stop-color="#eceefa"/><stop offset="0.44" stop-color="#ffffff"/><stop offset="0.56" stop-color="#ffffff"/><stop offset="0.6" stop-color="#fbecec"/><stop offset="0.88" stop-color="#e04040"/><stop offset="1" stop-color="#dc2626"/></linearGradient>
<filter id="soft" x="-20%" y="-20%" width="140%" height="140%"><feGaussianBlur stdDeviation="0.8"/></filter>
<filter id="zblur" x="-50%" y="-50%" width="200%" height="200%"><feGaussianBlur stdDeviation="5"/></filter>
<filter id="stip" x="0" y="0" width="1" height="1" color-interpolation-filters="sRGB"><feTurbulence type="fractalNoise" baseFrequency="1.6" numOctaves="1" seed="9" result="nz"/><feColorMatrix in="nz" type="matrix" values="0 0 0 0 0  0 0 0 0 0  0 0 0 0 0  8 0 0 0 -4.1" result="mk"/><feComposite in="SourceGraphic" in2="mk" operator="in"/></filter>
<linearGradient id="edgeC" gradientUnits="userSpaceOnUse" x1="0" y1="300" x2="0" y2="375"><stop offset="0" stop-color="#8a90d4"/><stop offset="0.6" stop-color="#a8acdc"/><stop offset="0.75" stop-color="#e0a8b0"/><stop offset="1" stop-color="#e09098"/></linearGradient>
<linearGradient id="edgeG" gradientUnits="userSpaceOnUse" x1="0" y1="300" x2="0" y2="378"><stop offset="0" stop-color="#8a90d4"/><stop offset="0.62" stop-color="#a8acdc"/><stop offset="0.75" stop-color="#e0a8b0"/><stop offset="1" stop-color="#e09098"/></linearGradient>
<linearGradient id="edgeN" gradientUnits="userSpaceOnUse" x1="568" y1="0" x2="672" y2="0"><stop offset="0" stop-color="#e09098"/><stop offset="0.22" stop-color="#e0a0a8"/><stop offset="0.3" stop-color="#9098d6"/><stop offset="0.62" stop-color="#9aa0d8"/><stop offset="0.7" stop-color="#e8b4ba"/><stop offset="1" stop-color="#e8b8bc"/></linearGradient>
</defs>
<rect x="506.6" y="229.4" width="52.5" height="6.2" fill="url(#espbar)"/>
<text x="502.90" y="236.40" font-size="10.7" text-anchor="end" font-weight="normal" fill="#1a1a1a" >-22</text>
<text x="562.30" y="236.40" font-size="10.7" text-anchor="start" font-weight="normal" fill="#1a1a1a" >22</text>
<text x="531.80" y="248.20" font-size="10.6" text-anchor="middle" font-weight="normal" fill="#1a1a1a" >ESP (kcal/mol)</text>
<rect x="260.2" y="381.4" width="411.8" height="7" fill="url(#s0sh)"/>
<rect x="260.2" y="379.6" width="411.8" height="2.1" fill="#1e1e1e"/>
<text x="248.4" y="385.6" font-size="10.8" fill="#1a1a1a">S<tspan font-size="7" dy="0.6">0</tspan></text>
<text x="302.90" y="394.80" font-size="10.5" text-anchor="middle" font-weight="normal" fill="#1a1a1a" >HDBr</text>
<text x="411.20" y="394.80" font-size="10.5" text-anchor="middle" font-weight="normal" fill="#1a1a1a" >CzHBr</text>
<text x="520.00" y="394.80" font-size="10.5" text-anchor="middle" font-weight="normal" fill="#1a1a1a" >PTZHBr</text>
<text x="629.20" y="394.80" font-size="10.5" text-anchor="middle" font-weight="normal" fill="#1a1a1a" >4BrNapHBr</text>
<defs><clipPath id="sc1"><path d="M353.50,298.50 C355.25,296.63 357.40,295.72 359.80,294.80 C362.20,293.88 365.70,293.72 367.90,293.00 C370.10,292.28 371.25,291.25 373.00,290.50 C374.75,289.75 376.40,289.05 378.40,288.50 C380.40,287.95 382.68,287.42 385.00,287.20 C387.32,286.98 389.72,286.60 392.30,287.20 C394.88,287.80 398.30,289.42 400.50,290.80 C402.70,292.18 404.32,293.80 405.50,295.50 C406.68,297.20 407.25,299.08 407.60,301.00 C407.95,302.92 407.78,305.17 407.60,307.00 C407.42,308.83 407.02,310.33 406.50,312.00 C405.98,313.67 405.75,315.75 404.50,317.00 C403.25,318.25 400.67,318.67 399.00,319.50 C397.33,320.33 395.33,320.42 394.50,322.00 C393.67,323.58 394.13,326.67 394.00,329.00 C393.87,331.33 393.47,333.20 393.70,336.00 C393.93,338.80 394.77,343.13 395.40,345.80 C396.03,348.47 397.32,349.80 397.50,352.00 C397.68,354.20 397.17,356.67 396.50,359.00 C395.83,361.33 394.67,363.92 393.50,366.00 C392.33,368.08 391.25,370.00 389.50,371.50 C387.75,373.00 385.25,374.17 383.00,375.00 C380.75,375.83 378.42,376.42 376.00,376.50 C373.58,376.58 370.83,376.33 368.50,375.50 C366.17,374.67 363.55,373.42 362.00,371.50 C360.45,369.58 359.90,366.75 359.20,364.00 C358.50,361.25 358.08,357.75 357.80,355.00 C357.52,352.25 357.63,350.17 357.50,347.50 C357.37,344.83 357.42,341.83 357.00,339.00 C356.58,336.17 355.92,333.17 355.00,330.50 C354.08,327.83 352.53,325.75 351.50,323.00 C350.47,320.25 349.17,316.83 348.80,314.00 C348.43,311.17 348.52,308.58 349.30,306.00 C350.08,303.42 351.75,300.37 353.50,298.50 Z"/><circle cx="353.5" cy="298.5" r="2.4"/><circle cx="359.8" cy="294.8" r="2.4"/><circle cx="367.9" cy="293.0" r="2.4"/><circle cx="373.0" cy="290.5" r="2.4"/><circle cx="378.4" cy="288.5" r="2.4"/><circle cx="385.0" cy="287.2" r="2.4"/><circle cx="392.3" cy="287.2" r="2.4"/><circle cx="400.5" cy="290.8" r="2.4"/><circle cx="405.5" cy="295.5" r="2.4"/><circle cx="407.6" cy="301.0" r="2.4"/><circle cx="407.6" cy="307.0" r="2.4"/><circle cx="406.5" cy="312.0" r="2.4"/><circle cx="404.5" cy="317.0" r="2.4"/><circle cx="399.0" cy="319.5" r="2.4"/><circle cx="394.5" cy="322.0" r="2.4"/><circle cx="394.0" cy="329.0" r="2.4"/><circle cx="393.7" cy="336.0" r="2.4"/><circle cx="395.4" cy="345.8" r="2.4"/><circle cx="397.5" cy="352.0" r="2.4"/><circle cx="396.5" cy="359.0" r="2.4"/><circle cx="393.5" cy="366.0" r="2.4"/><circle cx="389.5" cy="371.5" r="2.4"/><circle cx="383.0" cy="375.0" r="2.4"/><circle cx="376.0" cy="376.5" r="2.4"/><circle cx="368.5" cy="375.5" r="2.4"/><circle cx="362.0" cy="371.5" r="2.4"/><circle cx="359.2" cy="364.0" r="2.4"/><circle cx="357.8" cy="355.0" r="2.4"/><circle cx="357.5" cy="347.5" r="2.4"/><circle cx="357.0" cy="339.0" r="2.4"/><circle cx="355.0" cy="330.5" r="2.4"/><circle cx="351.5" cy="323.0" r="2.4"/><circle cx="348.8" cy="314.0" r="2.4"/><circle cx="349.3" cy="306.0" r="2.4"/></clipPath></defs>
<g filter="url(#soft)" opacity="0.5"><path d="M353.50,298.50 C355.25,296.63 357.40,295.72 359.80,294.80 C362.20,293.88 365.70,293.72 367.90,293.00 C370.10,292.28 371.25,291.25 373.00,290.50 C374.75,289.75 376.40,289.05 378.40,288.50 C380.40,287.95 382.68,287.42 385.00,287.20 C387.32,286.98 389.72,286.60 392.30,287.20 C394.88,287.80 398.30,289.42 400.50,290.80 C402.70,292.18 404.32,293.80 405.50,295.50 C406.68,297.20 407.25,299.08 407.60,301.00 C407.95,302.92 407.78,305.17 407.60,307.00 C407.42,308.83 407.02,310.33 406.50,312.00 C405.98,313.67 405.75,315.75 404.50,317.00 C403.25,318.25 400.67,318.67 399.00,319.50 C397.33,320.33 395.33,320.42 394.50,322.00 C393.67,323.58 394.13,326.67 394.00,329.00 C393.87,331.33 393.47,333.20 393.70,336.00 C393.93,338.80 394.77,343.13 395.40,345.80 C396.03,348.47 397.32,349.80 397.50,352.00 C397.68,354.20 397.17,356.67 396.50,359.00 C395.83,361.33 394.67,363.92 393.50,366.00 C392.33,368.08 391.25,370.00 389.50,371.50 C387.75,373.00 385.25,374.17 383.00,375.00 C380.75,375.83 378.42,376.42 376.00,376.50 C373.58,376.58 370.83,376.33 368.50,375.50 C366.17,374.67 363.55,373.42 362.00,371.50 C360.45,369.58 359.90,366.75 359.20,364.00 C358.50,361.25 358.08,357.75 357.80,355.00 C357.52,352.25 357.63,350.17 357.50,347.50 C357.37,344.83 357.42,341.83 357.00,339.00 C356.58,336.17 355.92,333.17 355.00,330.50 C354.08,327.83 352.53,325.75 351.50,323.00 C350.47,320.25 349.17,316.83 348.80,314.00 C348.43,311.17 348.52,308.58 349.30,306.00 C350.08,303.42 351.75,300.37 353.50,298.50 Z" fill="none" stroke="url(#edgeC)" stroke-width="2.2"/></g>
<g clip-path="url(#sc1)">
<rect x="342.8" y="281.2" width="70.8" height="101.3" fill="#f8f8fc"/>
<g filter="url(#zblur)" opacity="0.3"><ellipse cx="378" cy="310" rx="30" ry="22" fill="#5a64c4" opacity="1"/><ellipse cx="368" cy="334" rx="13" ry="12" fill="#5a64c4" opacity="0.8"/><ellipse cx="377" cy="364" rx="21" ry="14" fill="#e0606c" opacity="1"/><ellipse cx="377" cy="364" rx="21" ry="14" fill="#e0606c" opacity="0.6"/></g>
<g filter="url(#stip)" opacity="0.28"><g filter="url(#zblur)"><ellipse cx="378" cy="310" rx="30" ry="22" fill="#5a64c4" opacity="1"/><ellipse cx="368" cy="334" rx="13" ry="12" fill="#5a64c4" opacity="0.8"/><ellipse cx="377" cy="364" rx="21" ry="14" fill="#e0606c" opacity="1"/><ellipse cx="377" cy="364" rx="21" ry="14" fill="#e0606c" opacity="0.6"/></g></g>
</g>
<path d="M353.50,298.50 C355.25,296.63 357.40,295.72 359.80,294.80 C362.20,293.88 365.70,293.72 367.90,293.00 C370.10,292.28 371.25,291.25 373.00,290.50 C374.75,289.75 376.40,289.05 378.40,288.50 C380.40,287.95 382.68,287.42 385.00,287.20 C387.32,286.98 389.72,286.60 392.30,287.20 C394.88,287.80 398.30,289.42 400.50,290.80 C402.70,292.18 404.32,293.80 405.50,295.50 C406.68,297.20 407.25,299.08 407.60,301.00 C407.95,302.92 407.78,305.17 407.60,307.00 C407.42,308.83 407.02,310.33 406.50,312.00 C405.98,313.67 405.75,315.75 404.50,317.00 C403.25,318.25 400.67,318.67 399.00,319.50 C397.33,320.33 395.33,320.42 394.50,322.00 C393.67,323.58 394.13,326.67 394.00,329.00 C393.87,331.33 393.47,333.20 393.70,336.00 C393.93,338.80 394.77,343.13 395.40,345.80 C396.03,348.47 397.32,349.80 397.50,352.00 C397.68,354.20 397.17,356.67 396.50,359.00 C395.83,361.33 394.67,363.92 393.50,366.00 C392.33,368.08 391.25,370.00 389.50,371.50 C387.75,373.00 385.25,374.17 383.00,375.00 C380.75,375.83 378.42,376.42 376.00,376.50 C373.58,376.58 370.83,376.33 368.50,375.50 C366.17,374.67 363.55,373.42 362.00,371.50 C360.45,369.58 359.90,366.75 359.20,364.00 C358.50,361.25 358.08,357.75 357.80,355.00 C357.52,352.25 357.63,350.17 357.50,347.50 C357.37,344.83 357.42,341.83 357.00,339.00 C356.58,336.17 355.92,333.17 355.00,330.50 C354.08,327.83 352.53,325.75 351.50,323.00 C350.47,320.25 349.17,316.83 348.80,314.00 C348.43,311.17 348.52,308.58 349.30,306.00 C350.08,303.42 351.75,300.37 353.50,298.50 Z" fill="none" stroke="url(#edgeC)" stroke-width="1.2" opacity="0.35" clip-path="url(#sc1)"/>
<path d="M367.0,306.2L367.0,301.7M361.1,309.6L357.2,307.4M361.1,316.4L357.2,318.6M367.0,319.8L367.0,324.3M384.5,299.6L382.2,295.7M391.5,299.6L393.8,295.7M395.0,305.7L399.5,305.7M391.5,311.8L393.8,315.7M379.1,323.1L375.6,323.5M379.1,323.1L382.7,322.7M382.9,328.3L379.4,328.7M382.9,328.3L386.5,327.9M380.4,334.3L376.8,334.7M380.4,334.3L384.0,333.9M384.2,339.5L380.6,339.9M384.2,339.5L387.8,339.1M381.7,345.5L378.1,345.9M381.7,345.5L385.2,345.1M385.5,350.7L381.9,351.1M385.5,350.7L389.0,350.3M370.1,349.5L366.5,347.5M370.1,349.5L371.5,345.5M366.1,361.0L362.0,359.0M366.1,361.0L363.0,364.5M375.0,367.5L372.0,371.0M375.0,367.5L378.5,370.0" stroke="#8cbcb6" stroke-width="0.95" stroke-linecap="round" fill="none"/>
<path d="M367.0,303.9L367.0,301.7M359.2,308.5L357.2,307.4M359.2,317.5L357.2,318.6M367.0,322.1L367.0,324.3M383.4,297.7L382.2,295.7M392.6,297.7L393.8,295.7M397.2,305.7L399.5,305.7M392.6,313.7L393.8,315.7M377.3,323.3L375.6,323.5M380.9,322.9L382.7,322.7M381.2,328.5L379.4,328.7M384.7,328.1L386.5,327.9M378.6,334.5L376.8,334.7M382.2,334.1L384.0,333.9M382.4,339.7L380.6,339.9M386.0,339.3L387.8,339.1M379.9,345.7L378.1,345.9M383.4,345.3L385.2,345.1M383.7,350.9L381.9,351.1M387.3,350.5L389.0,350.3M368.3,348.5L366.5,347.5M370.8,347.5L371.5,345.5M364.1,360.0L362.0,359.0M364.6,362.8L363.0,364.5M373.5,369.2L372.0,371.0M376.8,368.8L378.5,370.0" stroke="#9a9aa0" stroke-width="0.95" stroke-linecap="round" fill="none"/>
<path d="M372.9,316.4L367.0,319.8M367.0,319.8L361.1,316.4M361.1,316.4L361.1,309.6M361.1,309.6L367.0,306.2M367.0,306.2L372.9,309.6M372.9,309.6L372.9,316.4M395.0,305.7L391.5,311.8M391.5,311.8L384.5,311.8M384.5,311.8L381.0,305.7M381.0,305.7L384.5,299.6M384.5,299.6L391.5,299.6M391.5,299.6L395.0,305.7M372.9,309.6L381.0,305.7M372.9,316.4L380.1,317.3M380.1,317.3L384.5,311.8M380.1,317.3L379.1,323.1M379.1,323.1L382.9,328.3M382.9,328.3L380.4,334.3M380.4,334.3L384.2,339.5M384.2,339.5L381.7,345.5M381.7,345.5L385.5,350.7M385.5,350.7L384.5,356.5M384.5,356.5L373.4,358.0M373.4,358.0L370.1,349.5M373.4,358.0L366.1,361.0M373.4,358.0L375.0,367.5" stroke="#3f9e90" stroke-width="1.25" stroke-linecap="round" fill="none"/>
<path d="M372.9,316.4L367.0,319.8M367.0,319.8L361.1,316.4M361.1,316.4L361.1,309.6M361.1,309.6L367.0,306.2M367.0,306.2L372.9,309.6M372.9,309.6L372.9,316.4M395.0,305.7L391.5,311.8M391.5,311.8L384.5,311.8M384.5,311.8L381.0,305.7M381.0,305.7L384.5,299.6M384.5,299.6L391.5,299.6M391.5,299.6L395.0,305.7M372.9,309.6L381.0,305.7M372.9,316.4L380.1,317.3M380.1,317.3L384.5,311.8M380.1,317.3L379.1,323.1M379.1,323.1L382.9,328.3M382.9,328.3L380.4,334.3M380.4,334.3L384.2,339.5M384.2,339.5L381.7,345.5M381.7,345.5L385.5,350.7M385.5,350.7L384.5,356.5M384.5,356.5L373.4,358.0M373.4,358.0L370.1,349.5M373.4,358.0L366.1,361.0M373.4,358.0L375.0,367.5" stroke="#6cc4b4" stroke-width="0.4375" stroke-linecap="round" fill="none"/>
<path d="M380.1,317.3L381.5,321.0" stroke="#2c3c9c" stroke-width="1.6" stroke-linecap="round" fill="none"/>
<path d="M373.4,358.0L372.8,356.0" stroke="#2c3c9c" stroke-width="1.6" stroke-linecap="round" fill="none"/>
<path d="M373.4,358.0L374.5,361.0" stroke="#2c3c9c" stroke-width="1.4" stroke-linecap="round" fill="none"/>
<defs><clipPath id="sc2"><path d="M472.50,302.00 C474.25,300.78 475.75,299.80 478.00,299.20 C480.25,298.60 483.33,298.35 486.00,298.40 C488.67,298.45 491.33,299.27 494.00,299.50 C496.67,299.73 499.45,299.50 502.00,299.80 C504.55,300.10 507.47,300.10 509.30,301.30 C511.13,302.50 512.30,304.57 513.00,307.00 C513.70,309.43 513.92,313.15 513.50,315.90 C513.08,318.65 511.88,321.07 510.50,323.50 C509.12,325.93 506.37,328.25 505.20,330.50 C504.03,332.75 503.62,334.92 503.50,337.00 C503.38,339.08 503.92,341.00 504.50,343.00 C505.08,345.00 506.50,346.55 507.00,349.00 C507.50,351.45 507.67,355.20 507.50,357.70 C507.33,360.20 506.67,361.92 506.00,364.00 C505.33,366.08 504.83,368.28 503.50,370.20 C502.17,372.12 500.17,374.28 498.00,375.50 C495.83,376.72 493.00,377.42 490.50,377.50 C488.00,377.58 485.08,377.25 483.00,376.00 C480.92,374.75 479.08,372.33 478.00,370.00 C476.92,367.67 476.75,364.50 476.50,362.00 C476.25,359.50 477.08,356.75 476.50,355.00 C475.92,353.25 473.88,353.00 473.00,351.50 C472.12,350.00 471.62,347.92 471.20,346.00 C470.78,344.08 470.83,342.17 470.50,340.00 C470.17,337.83 470.20,335.08 469.20,333.00 C468.20,330.92 465.65,329.67 464.50,327.50 C463.35,325.33 462.47,322.58 462.30,320.00 C462.13,317.42 462.63,314.25 463.50,312.00 C464.37,309.75 466.00,308.17 467.50,306.50 C469.00,304.83 470.75,303.22 472.50,302.00 Z"/><circle cx="472.5" cy="302.0" r="2.4"/><circle cx="478.0" cy="299.2" r="2.4"/><circle cx="486.0" cy="298.4" r="2.4"/><circle cx="494.0" cy="299.5" r="2.4"/><circle cx="502.0" cy="299.8" r="2.4"/><circle cx="509.3" cy="301.3" r="2.4"/><circle cx="513.0" cy="307.0" r="2.4"/><circle cx="513.5" cy="315.9" r="2.4"/><circle cx="510.5" cy="323.5" r="2.4"/><circle cx="505.2" cy="330.5" r="2.4"/><circle cx="503.5" cy="337.0" r="2.4"/><circle cx="504.5" cy="343.0" r="2.4"/><circle cx="507.0" cy="349.0" r="2.4"/><circle cx="507.5" cy="357.7" r="2.4"/><circle cx="506.0" cy="364.0" r="2.4"/><circle cx="503.5" cy="370.2" r="2.4"/><circle cx="498.0" cy="375.5" r="2.4"/><circle cx="490.5" cy="377.5" r="2.4"/><circle cx="483.0" cy="376.0" r="2.4"/><circle cx="478.0" cy="370.0" r="2.4"/><circle cx="476.5" cy="362.0" r="2.4"/><circle cx="476.5" cy="355.0" r="2.4"/><circle cx="473.0" cy="351.5" r="2.4"/><circle cx="471.2" cy="346.0" r="2.4"/><circle cx="470.5" cy="340.0" r="2.4"/><circle cx="469.2" cy="333.0" r="2.4"/><circle cx="464.5" cy="327.5" r="2.4"/><circle cx="462.3" cy="320.0" r="2.4"/><circle cx="463.5" cy="312.0" r="2.4"/><circle cx="467.5" cy="306.5" r="2.4"/></clipPath></defs>
<g filter="url(#soft)" opacity="0.5"><path d="M472.50,302.00 C474.25,300.78 475.75,299.80 478.00,299.20 C480.25,298.60 483.33,298.35 486.00,298.40 C488.67,298.45 491.33,299.27 494.00,299.50 C496.67,299.73 499.45,299.50 502.00,299.80 C504.55,300.10 507.47,300.10 509.30,301.30 C511.13,302.50 512.30,304.57 513.00,307.00 C513.70,309.43 513.92,313.15 513.50,315.90 C513.08,318.65 511.88,321.07 510.50,323.50 C509.12,325.93 506.37,328.25 505.20,330.50 C504.03,332.75 503.62,334.92 503.50,337.00 C503.38,339.08 503.92,341.00 504.50,343.00 C505.08,345.00 506.50,346.55 507.00,349.00 C507.50,351.45 507.67,355.20 507.50,357.70 C507.33,360.20 506.67,361.92 506.00,364.00 C505.33,366.08 504.83,368.28 503.50,370.20 C502.17,372.12 500.17,374.28 498.00,375.50 C495.83,376.72 493.00,377.42 490.50,377.50 C488.00,377.58 485.08,377.25 483.00,376.00 C480.92,374.75 479.08,372.33 478.00,370.00 C476.92,367.67 476.75,364.50 476.50,362.00 C476.25,359.50 477.08,356.75 476.50,355.00 C475.92,353.25 473.88,353.00 473.00,351.50 C472.12,350.00 471.62,347.92 471.20,346.00 C470.78,344.08 470.83,342.17 470.50,340.00 C470.17,337.83 470.20,335.08 469.20,333.00 C468.20,330.92 465.65,329.67 464.50,327.50 C463.35,325.33 462.47,322.58 462.30,320.00 C462.13,317.42 462.63,314.25 463.50,312.00 C464.37,309.75 466.00,308.17 467.50,306.50 C469.00,304.83 470.75,303.22 472.50,302.00 Z" fill="none" stroke="url(#edgeG)" stroke-width="2.2"/></g>
<g clip-path="url(#sc2)">
<rect x="456.3" y="292.4" width="63.2" height="91.1" fill="#f8f8fc"/>
<g filter="url(#zblur)" opacity="0.3"><ellipse cx="474" cy="318" rx="16" ry="18" fill="#5a64c4" opacity="1"/><ellipse cx="488" cy="305" rx="14" ry="7" fill="#5a64c4" opacity="0.8"/><ellipse cx="480" cy="342" rx="9" ry="10" fill="#5a64c4" opacity="0.8"/><ellipse cx="492" cy="365" rx="18" ry="13" fill="#e0606c" opacity="1"/><ellipse cx="514" cy="318" rx="4" ry="12" fill="#e0606c" opacity="0.5"/></g>
<g filter="url(#stip)" opacity="0.28"><g filter="url(#zblur)"><ellipse cx="474" cy="318" rx="16" ry="18" fill="#5a64c4" opacity="1"/><ellipse cx="488" cy="305" rx="14" ry="7" fill="#5a64c4" opacity="0.8"/><ellipse cx="480" cy="342" rx="9" ry="10" fill="#5a64c4" opacity="0.8"/><ellipse cx="492" cy="365" rx="18" ry="13" fill="#e0606c" opacity="1"/><ellipse cx="514" cy="318" rx="4" ry="12" fill="#e0606c" opacity="0.5"/></g></g>
</g>
<path d="M472.50,302.00 C474.25,300.78 475.75,299.80 478.00,299.20 C480.25,298.60 483.33,298.35 486.00,298.40 C488.67,298.45 491.33,299.27 494.00,299.50 C496.67,299.73 499.45,299.50 502.00,299.80 C504.55,300.10 507.47,300.10 509.30,301.30 C511.13,302.50 512.30,304.57 513.00,307.00 C513.70,309.43 513.92,313.15 513.50,315.90 C513.08,318.65 511.88,321.07 510.50,323.50 C509.12,325.93 506.37,328.25 505.20,330.50 C504.03,332.75 503.62,334.92 503.50,337.00 C503.38,339.08 503.92,341.00 504.50,343.00 C505.08,345.00 506.50,346.55 507.00,349.00 C507.50,351.45 507.67,355.20 507.50,357.70 C507.33,360.20 506.67,361.92 506.00,364.00 C505.33,366.08 504.83,368.28 503.50,370.20 C502.17,372.12 500.17,374.28 498.00,375.50 C495.83,376.72 493.00,377.42 490.50,377.50 C488.00,377.58 485.08,377.25 483.00,376.00 C480.92,374.75 479.08,372.33 478.00,370.00 C476.92,367.67 476.75,364.50 476.50,362.00 C476.25,359.50 477.08,356.75 476.50,355.00 C475.92,353.25 473.88,353.00 473.00,351.50 C472.12,350.00 471.62,347.92 471.20,346.00 C470.78,344.08 470.83,342.17 470.50,340.00 C470.17,337.83 470.20,335.08 469.20,333.00 C468.20,330.92 465.65,329.67 464.50,327.50 C463.35,325.33 462.47,322.58 462.30,320.00 C462.13,317.42 462.63,314.25 463.50,312.00 C464.37,309.75 466.00,308.17 467.50,306.50 C469.00,304.83 470.75,303.22 472.50,302.00 Z" fill="none" stroke="url(#edgeG)" stroke-width="1.2" opacity="0.35" clip-path="url(#sc2)"/>
<path d="M474.9,316.9L472.6,313.0M471.8,322.3L467.3,322.3M474.9,327.7L472.6,331.6M481.1,327.7L483.4,331.6M494.7,307.8L492.0,304.3M501.3,306.9L503.0,302.7M505.3,312.1L509.8,311.5M502.9,318.2L505.6,321.7M489.5,328.0L486.0,328.8M489.5,328.0L493.0,327.3M493.7,332.2L490.2,333.0M493.7,332.2L497.2,331.5M491.7,337.8L488.1,338.6M491.7,337.8L495.2,337.0M495.8,342.0L492.3,342.8M495.8,342.0L499.4,341.2M493.8,347.6L490.3,348.3M493.8,347.6L497.3,346.8M498.0,351.8L494.5,352.5M498.0,351.8L501.5,351.0M486.5,356.0L483.0,353.5M485.5,365.5L481.5,364.0M485.5,365.5L483.0,369.0M493.5,369.5L491.0,373.5M493.5,369.5L497.0,372.5" stroke="#8cbcb6" stroke-width="0.95" stroke-linecap="round" fill="none"/>
<path d="M473.8,315.0L472.6,313.0M469.6,322.3L467.3,322.3M473.8,329.6L472.6,331.6M482.2,329.6L483.4,331.6M493.4,306.0L492.0,304.3M502.1,304.8L503.0,302.7M507.6,311.8L509.8,311.5M504.2,320.0L505.6,321.7M487.8,328.4L486.0,328.8M491.3,327.6L493.0,327.3M491.9,332.6L490.2,333.0M495.5,331.8L497.2,331.5M489.9,338.2L488.1,338.6M493.4,337.4L495.2,337.0M494.1,342.4L492.3,342.8M497.6,341.6L499.4,341.2M492.0,348.0L490.3,348.3M495.6,347.2L497.3,346.8M496.2,352.2L494.5,352.5M499.7,351.4L501.5,351.0M484.8,354.8L483.0,353.5M483.5,364.8L481.5,364.0M484.2,367.2L483.0,369.0M492.2,371.5L491.0,373.5M495.2,371.0L497.0,372.5" stroke="#9a9aa0" stroke-width="0.95" stroke-linecap="round" fill="none"/>
<path d="M484.2,322.3L481.1,327.7M481.1,327.7L474.9,327.7M474.9,327.7L471.8,322.3M471.8,322.3L474.9,316.9M474.9,316.9L481.1,316.9M481.1,316.9L484.2,322.3M505.3,312.1L502.9,318.2M502.9,318.2L496.3,319.1M496.3,319.1L492.3,313.9M492.3,313.9L494.7,307.8M494.7,307.8L501.3,306.9M501.3,306.9L505.3,312.1M481.1,316.9L485.6,310.5M485.6,310.5L492.3,313.9M484.2,322.3L490.0,322.8M490.0,322.8L496.3,319.1M490.0,322.8L489.5,328.0M489.5,328.0L493.7,332.2M493.7,332.2L491.7,337.8M491.7,337.8L495.8,342.0M495.8,342.0L493.8,347.6M493.8,347.6L498.0,351.8M498.0,351.8L497.5,357.0M497.5,357.0L491.5,361.0M491.5,361.0L486.5,356.0M491.5,361.0L485.5,365.5M491.5,361.0L493.5,369.5" stroke="#3f9e90" stroke-width="1.25" stroke-linecap="round" fill="none"/>
<path d="M484.2,322.3L481.1,327.7M481.1,327.7L474.9,327.7M474.9,327.7L471.8,322.3M471.8,322.3L474.9,316.9M474.9,316.9L481.1,316.9M481.1,316.9L484.2,322.3M505.3,312.1L502.9,318.2M502.9,318.2L496.3,319.1M496.3,319.1L492.3,313.9M492.3,313.9L494.7,307.8M494.7,307.8L501.3,306.9M501.3,306.9L505.3,312.1M481.1,316.9L485.6,310.5M485.6,310.5L492.3,313.9M484.2,322.3L490.0,322.8M490.0,322.8L496.3,319.1M490.0,322.8L489.5,328.0M489.5,328.0L493.7,332.2M493.7,332.2L491.7,337.8M491.7,337.8L495.8,342.0M495.8,342.0L493.8,347.6M493.8,347.6L498.0,351.8M498.0,351.8L497.5,357.0M497.5,357.0L491.5,361.0M491.5,361.0L486.5,356.0M491.5,361.0L485.5,365.5M491.5,361.0L493.5,369.5" stroke="#6cc4b4" stroke-width="0.4375" stroke-linecap="round" fill="none"/>
<path d="M485.6,310.5L484.0,310.2M485.6,310.5L487.5,310.8" stroke="#d8d040" stroke-width="1.8" stroke-linecap="round" fill="none"/>
<path d="M490.0,322.8L491.0,326.0" stroke="#2c3c9c" stroke-width="1.6" stroke-linecap="round" fill="none"/>
<path d="M491.5,361.0L490.5,359.0M491.5,361.0L492.5,363.0" stroke="#2c3c9c" stroke-width="1.5" stroke-linecap="round" fill="none"/>
<defs><clipPath id="sc3"><path d="M569.50,266.90 C569.75,264.40 570.03,261.90 571.50,259.50 C572.97,257.10 575.90,253.55 578.30,252.50 C580.70,251.45 584.12,254.03 585.90,253.20 C587.68,252.37 587.65,249.00 589.00,247.50 C590.35,246.00 592.43,244.87 594.00,244.20 C595.57,243.53 596.82,243.45 598.40,243.50 C599.98,243.55 601.82,243.67 603.50,244.50 C605.18,245.33 607.17,246.92 608.50,248.50 C609.83,250.08 610.50,252.33 611.50,254.00 C612.50,255.67 613.25,258.33 614.50,258.50 C615.75,258.67 617.42,256.17 619.00,255.00 C620.58,253.83 622.17,252.33 624.00,251.50 C625.83,250.67 628.00,250.08 630.00,250.00 C632.00,249.92 634.17,251.08 636.00,251.00 C637.83,250.92 639.00,249.83 641.00,249.50 C643.00,249.17 645.67,248.75 648.00,249.00 C650.33,249.25 652.83,250.08 655.00,251.00 C657.17,251.92 659.33,253.00 661.00,254.50 C662.67,256.00 663.75,257.92 665.00,260.00 C666.25,262.08 667.42,264.67 668.50,267.00 C669.58,269.33 671.00,271.50 671.50,274.00 C672.00,276.50 672.08,279.42 671.50,282.00 C670.92,284.58 669.75,287.42 668.00,289.50 C666.25,291.58 663.67,293.17 661.00,294.50 C658.33,295.83 655.00,297.08 652.00,297.50 C649.00,297.92 645.83,297.67 643.00,297.00 C640.17,296.33 637.18,294.58 635.00,293.50 C632.82,292.42 631.90,291.08 629.90,290.50 C627.90,289.92 624.88,291.25 623.00,290.00 C621.12,288.75 620.43,283.83 618.60,283.00 C616.77,282.17 614.60,284.58 612.00,285.00 C609.40,285.42 605.67,285.75 603.00,285.50 C600.33,285.25 598.50,283.58 596.00,283.50 C593.50,283.42 590.50,284.67 588.00,285.00 C585.50,285.33 583.33,286.08 581.00,285.50 C578.67,284.92 575.83,283.33 574.00,281.50 C572.17,279.67 570.75,276.93 570.00,274.50 C569.25,272.07 569.25,269.40 569.50,266.90 Z"/><circle cx="569.5" cy="266.9" r="2.4"/><circle cx="571.5" cy="259.5" r="2.4"/><circle cx="578.3" cy="252.5" r="2.4"/><circle cx="585.9" cy="253.2" r="2.4"/><circle cx="589.0" cy="247.5" r="2.4"/><circle cx="594.0" cy="244.2" r="2.4"/><circle cx="598.4" cy="243.5" r="2.4"/><circle cx="603.5" cy="244.5" r="2.4"/><circle cx="608.5" cy="248.5" r="2.4"/><circle cx="611.5" cy="254.0" r="2.4"/><circle cx="614.5" cy="258.5" r="2.4"/><circle cx="619.0" cy="255.0" r="2.4"/><circle cx="624.0" cy="251.5" r="2.4"/><circle cx="630.0" cy="250.0" r="2.4"/><circle cx="636.0" cy="251.0" r="2.4"/><circle cx="641.0" cy="249.5" r="2.4"/><circle cx="648.0" cy="249.0" r="2.4"/><circle cx="655.0" cy="251.0" r="2.4"/><circle cx="661.0" cy="254.5" r="2.4"/><circle cx="665.0" cy="260.0" r="2.4"/><circle cx="668.5" cy="267.0" r="2.4"/><circle cx="671.5" cy="274.0" r="2.4"/><circle cx="671.5" cy="282.0" r="2.4"/><circle cx="668.0" cy="289.5" r="2.4"/><circle cx="661.0" cy="294.5" r="2.4"/><circle cx="652.0" cy="297.5" r="2.4"/><circle cx="643.0" cy="297.0" r="2.4"/><circle cx="635.0" cy="293.5" r="2.4"/><circle cx="629.9" cy="290.5" r="2.4"/><circle cx="623.0" cy="290.0" r="2.4"/><circle cx="618.6" cy="283.0" r="2.4"/><circle cx="612.0" cy="285.0" r="2.4"/><circle cx="603.0" cy="285.5" r="2.4"/><circle cx="596.0" cy="283.5" r="2.4"/><circle cx="588.0" cy="285.0" r="2.4"/><circle cx="581.0" cy="285.5" r="2.4"/><circle cx="574.0" cy="281.5" r="2.4"/><circle cx="570.0" cy="274.5" r="2.4"/></clipPath></defs>
<g filter="url(#soft)" opacity="0.5"><path d="M569.50,266.90 C569.75,264.40 570.03,261.90 571.50,259.50 C572.97,257.10 575.90,253.55 578.30,252.50 C580.70,251.45 584.12,254.03 585.90,253.20 C587.68,252.37 587.65,249.00 589.00,247.50 C590.35,246.00 592.43,244.87 594.00,244.20 C595.57,243.53 596.82,243.45 598.40,243.50 C599.98,243.55 601.82,243.67 603.50,244.50 C605.18,245.33 607.17,246.92 608.50,248.50 C609.83,250.08 610.50,252.33 611.50,254.00 C612.50,255.67 613.25,258.33 614.50,258.50 C615.75,258.67 617.42,256.17 619.00,255.00 C620.58,253.83 622.17,252.33 624.00,251.50 C625.83,250.67 628.00,250.08 630.00,250.00 C632.00,249.92 634.17,251.08 636.00,251.00 C637.83,250.92 639.00,249.83 641.00,249.50 C643.00,249.17 645.67,248.75 648.00,249.00 C650.33,249.25 652.83,250.08 655.00,251.00 C657.17,251.92 659.33,253.00 661.00,254.50 C662.67,256.00 663.75,257.92 665.00,260.00 C666.25,262.08 667.42,264.67 668.50,267.00 C669.58,269.33 671.00,271.50 671.50,274.00 C672.00,276.50 672.08,279.42 671.50,282.00 C670.92,284.58 669.75,287.42 668.00,289.50 C666.25,291.58 663.67,293.17 661.00,294.50 C658.33,295.83 655.00,297.08 652.00,297.50 C649.00,297.92 645.83,297.67 643.00,297.00 C640.17,296.33 637.18,294.58 635.00,293.50 C632.82,292.42 631.90,291.08 629.90,290.50 C627.90,289.92 624.88,291.25 623.00,290.00 C621.12,288.75 620.43,283.83 618.60,283.00 C616.77,282.17 614.60,284.58 612.00,285.00 C609.40,285.42 605.67,285.75 603.00,285.50 C600.33,285.25 598.50,283.58 596.00,283.50 C593.50,283.42 590.50,284.67 588.00,285.00 C585.50,285.33 583.33,286.08 581.00,285.50 C578.67,284.92 575.83,283.33 574.00,281.50 C572.17,279.67 570.75,276.93 570.00,274.50 C569.25,272.07 569.25,269.40 569.50,266.90 Z" fill="none" stroke="url(#edgeN)" stroke-width="2.2"/></g>
<g clip-path="url(#sc3)">
<rect x="563.5" y="237.5" width="114.0" height="66.0" fill="#f8f8fc"/>
<g filter="url(#zblur)" opacity="0.3"><ellipse cx="580" cy="270" rx="14" ry="15" fill="#e0606c" opacity="1"/><ellipse cx="598" cy="252" rx="12" ry="10" fill="#5a64c4" opacity="1"/><ellipse cx="628" cy="266" rx="9" ry="12" fill="#5a64c4" opacity="0.9"/><ellipse cx="626" cy="284" rx="8" ry="7" fill="#5a64c4" opacity="0.9"/><ellipse cx="656" cy="262" rx="10" ry="10" fill="#e0606c" opacity="0.55"/><ellipse cx="660" cy="288" rx="10" ry="8" fill="#e0606c" opacity="0.5"/><ellipse cx="604" cy="280" rx="8" ry="5" fill="#e0606c" opacity="0.35"/></g>
<g filter="url(#stip)" opacity="0.28"><g filter="url(#zblur)"><ellipse cx="580" cy="270" rx="14" ry="15" fill="#e0606c" opacity="1"/><ellipse cx="598" cy="252" rx="12" ry="10" fill="#5a64c4" opacity="1"/><ellipse cx="628" cy="266" rx="9" ry="12" fill="#5a64c4" opacity="0.9"/><ellipse cx="626" cy="284" rx="8" ry="7" fill="#5a64c4" opacity="0.9"/><ellipse cx="656" cy="262" rx="10" ry="10" fill="#e0606c" opacity="0.55"/><ellipse cx="660" cy="288" rx="10" ry="8" fill="#e0606c" opacity="0.5"/><ellipse cx="604" cy="280" rx="8" ry="5" fill="#e0606c" opacity="0.35"/></g></g>
</g>
<path d="M569.50,266.90 C569.75,264.40 570.03,261.90 571.50,259.50 C572.97,257.10 575.90,253.55 578.30,252.50 C580.70,251.45 584.12,254.03 585.90,253.20 C587.68,252.37 587.65,249.00 589.00,247.50 C590.35,246.00 592.43,244.87 594.00,244.20 C595.57,243.53 596.82,243.45 598.40,243.50 C599.98,243.55 601.82,243.67 603.50,244.50 C605.18,245.33 607.17,246.92 608.50,248.50 C609.83,250.08 610.50,252.33 611.50,254.00 C612.50,255.67 613.25,258.33 614.50,258.50 C615.75,258.67 617.42,256.17 619.00,255.00 C620.58,253.83 622.17,252.33 624.00,251.50 C625.83,250.67 628.00,250.08 630.00,250.00 C632.00,249.92 634.17,251.08 636.00,251.00 C637.83,250.92 639.00,249.83 641.00,249.50 C643.00,249.17 645.67,248.75 648.00,249.00 C650.33,249.25 652.83,250.08 655.00,251.00 C657.17,251.92 659.33,253.00 661.00,254.50 C662.67,256.00 663.75,257.92 665.00,260.00 C666.25,262.08 667.42,264.67 668.50,267.00 C669.58,269.33 671.00,271.50 671.50,274.00 C672.00,276.50 672.08,279.42 671.50,282.00 C670.92,284.58 669.75,287.42 668.00,289.50 C666.25,291.58 663.67,293.17 661.00,294.50 C658.33,295.83 655.00,297.08 652.00,297.50 C649.00,297.92 645.83,297.67 643.00,297.00 C640.17,296.33 637.18,294.58 635.00,293.50 C632.82,292.42 631.90,291.08 629.90,290.50 C627.90,289.92 624.88,291.25 623.00,290.00 C621.12,288.75 620.43,283.83 618.60,283.00 C616.77,282.17 614.60,284.58 612.00,285.00 C609.40,285.42 605.67,285.75 603.00,285.50 C600.33,285.25 598.50,283.58 596.00,283.50 C593.50,283.42 590.50,284.67 588.00,285.00 C585.50,285.33 583.33,286.08 581.00,285.50 C578.67,284.92 575.83,283.33 574.00,281.50 C572.17,279.67 570.75,276.93 570.00,274.50 C569.25,272.07 569.25,269.40 569.50,266.90 Z" fill="none" stroke="url(#edgeN)" stroke-width="1.2" opacity="0.35" clip-path="url(#sc3)"/>
<path d="M642.0,261.7L639.7,257.8M648.5,261.7L650.7,257.8M651.7,267.3L656.2,267.3M642.5,285.4L640.2,289.3M649.1,285.4L651.3,289.3M591.0,271.0L590.9,274.6M591.0,271.0L591.1,267.4M595.0,268.1L594.9,271.7M595.0,268.1L595.1,264.5M598.9,271.3L598.8,274.9M598.9,271.3L599.0,267.7M602.9,268.4L602.8,272.0M602.9,268.4L603.0,264.8M606.8,271.5L606.6,275.1M606.8,271.5L606.9,267.9M610.8,268.6L610.7,272.2M610.8,268.6L610.9,265.0M614.6,271.7L614.5,275.3M614.6,271.7L614.7,268.1M618.7,268.9L618.6,272.5M618.7,268.9L618.8,265.3M622.5,272.0L622.4,275.6M622.5,272.0L622.6,268.4M587.8,261.3L585.0,258.0M587.8,261.3L591.0,258.5M579.6,271.3L576.0,268.5M579.6,271.3L577.5,275.0M582.1,264.5L578.5,262.0" stroke="#8cbcb6" stroke-width="0.95" stroke-linecap="round" fill="none"/>
<path d="M640.8,259.7L639.7,257.8M649.6,259.7L650.7,257.8M654.0,267.3L656.2,267.3M641.4,287.4L640.2,289.3M650.2,287.4L651.3,289.3M590.9,272.8L590.9,274.6M591.0,269.2L591.1,267.4M595.0,269.9L594.9,271.7M595.1,266.3L595.1,264.5M598.8,273.1L598.8,274.9M598.9,269.5L599.0,267.7M602.9,270.2L602.8,272.0M603.0,266.6L603.0,264.8M606.7,273.3L606.6,275.1M606.8,269.7L606.9,267.9M610.7,270.4L610.7,272.2M610.8,266.8L610.9,265.0M614.6,273.5L614.5,275.3M614.7,269.9L614.7,268.1M618.6,270.7L618.6,272.5M618.7,267.1L618.8,265.3M622.5,273.8L622.4,275.6M622.6,270.2L622.6,268.4M586.4,259.6L585.0,258.0M589.4,259.9L591.0,258.5M577.8,269.9L576.0,268.5M578.5,273.1L577.5,275.0M580.3,263.2L578.5,262.0" stroke="#9a9aa0" stroke-width="0.95" stroke-linecap="round" fill="none"/>
<path d="M651.7,267.3L648.5,272.9M648.5,272.9L642.0,272.9M642.0,272.9L638.7,267.3M638.7,267.3L642.0,261.7M642.0,261.7L648.5,261.7M648.5,261.7L651.7,267.3M652.4,279.7L649.1,285.4M649.1,285.4L642.5,285.4M642.5,285.4L639.2,279.7M639.2,279.7L642.5,274.0M642.5,274.0L649.1,274.0M649.1,274.0L652.4,279.7M632.6,265.7L638.7,267.3M632.6,265.7L629.9,270.4M629.9,270.4L632.6,277.7M632.6,277.7L639.2,279.7M587.1,269.4L591.0,271.0M591.0,271.0L595.0,268.1M595.0,268.1L598.9,271.3M598.9,271.3L602.9,268.4M602.9,268.4L606.8,271.5M606.8,271.5L610.8,268.6M610.8,268.6L614.6,271.7M614.6,271.7L618.7,268.9M618.7,268.9L622.5,272.0M622.5,272.0L626.5,270.6M587.1,269.4L587.8,261.3M587.1,269.4L579.6,271.3M587.1,269.4L582.1,264.5M626.5,270.6L629.9,270.4" stroke="#3f9e90" stroke-width="1.25" stroke-linecap="round" fill="none"/>
<path d="M651.7,267.3L648.5,272.9M648.5,272.9L642.0,272.9M642.0,272.9L638.7,267.3M638.7,267.3L642.0,261.7M642.0,261.7L648.5,261.7M648.5,261.7L651.7,267.3M652.4,279.7L649.1,285.4M649.1,285.4L642.5,285.4M642.5,285.4L639.2,279.7M639.2,279.7L642.5,274.0M642.5,274.0L649.1,274.0M649.1,274.0L652.4,279.7M632.6,265.7L638.7,267.3M632.6,265.7L629.9,270.4M629.9,270.4L632.6,277.7M632.6,277.7L639.2,279.7M587.1,269.4L591.0,271.0M591.0,271.0L595.0,268.1M595.0,268.1L598.9,271.3M598.9,271.3L602.9,268.4M602.9,268.4L606.8,271.5M606.8,271.5L610.8,268.6M610.8,268.6L614.6,271.7M614.6,271.7L618.7,268.9M618.7,268.9L622.5,272.0M622.5,272.0L626.5,270.6M587.1,269.4L587.8,261.3M587.1,269.4L579.6,271.3M587.1,269.4L582.1,264.5M626.5,270.6L629.9,270.4" stroke="#6cc4b4" stroke-width="0.4375" stroke-linecap="round" fill="none"/>
<path d="M632.6,265.7L629.9,260.5M632.6,277.7L630.5,281.4" stroke="#d03030" stroke-width="1.6" stroke-linecap="round" fill="none"/>
<path d="M652.4,279.7L660.3,281.4" stroke="#b04a4a" stroke-width="1.6" stroke-linecap="round" fill="none"/>
<path d="M629.9,270.4L627.5,270.5" stroke="#2c3c9c" stroke-width="1.7" stroke-linecap="round" fill="none"/>
<path d="M587.1,269.4L585.5,268.5" stroke="#2c3c9c" stroke-width="1.7" stroke-linecap="round" fill="none"/>
<rect x="259.9" y="230.60" width="85.50" height="10.6" fill="url(#lvP)"/>
<rect x="259.9" y="240.90" width="85.50" height="2.2" fill="#5b2496"/>
<text x="302.65" y="235.90" font-size="10.6" text-anchor="middle" fill="#1a1a1a">T<tspan font-size="7" dy="0.8">1</tspan><tspan dy="-0.8">: 5.508 eV</tspan></text>
<rect x="369.2" y="270.40" width="84.60" height="10.6" fill="url(#lvC)"/>
<rect x="369.2" y="280.70" width="84.60" height="2.2" fill="#35a4e0"/>
<text x="411.50" y="275.70" font-size="10.6" text-anchor="middle" fill="#1a1a1a">T<tspan font-size="7" dy="0.8">1</tspan><tspan dy="-0.8">: 3.434 eV</tspan></text>
<rect x="477.4" y="282.00" width="85.80" height="10.6" fill="url(#lvG)"/>
<rect x="477.4" y="292.30" width="85.80" height="2.2" fill="#78b473"/>
<text x="520.30" y="287.30" font-size="10.6" text-anchor="middle" fill="#1a1a1a">T<tspan font-size="7" dy="0.8">1</tspan><tspan dy="-0.8">: 3.148 eV</tspan></text>
<rect x="585.6" y="316.10" width="86.40" height="10.6" fill="url(#lvO)"/>
<rect x="585.6" y="326.40" width="86.40" height="2.2" fill="#e8a02a"/>
<text x="628.80" y="321.40" font-size="10.6" text-anchor="middle" fill="#1a1a1a">T<tspan font-size="7" dy="0.8">1</tspan><tspan dy="-0.8">: 2.520 eV</tspan></text>
<rect x="301.00" y="245.5" width="3.2" height="120.50" fill="url(#arP)"/>
<path d="M302.60,379.2 L296.30,364.8 Q302.60,367 302.60,368.2 Q302.60,367 308.90,364.8 Z" fill="#6a2ca0"/>
<rect x="409.90" y="286.0" width="3.2" height="80.00" fill="url(#arC)"/>
<path d="M411.50,379.2 L405.20,364.8 Q411.50,367 411.50,368.2 Q411.50,367 417.80,364.8 Z" fill="#3a9ac4"/>
<rect x="518.20" y="298.0" width="3.2" height="68.00" fill="url(#arG)"/>
<path d="M519.80,379.2 L513.50,364.8 Q519.80,367 519.80,368.2 Q519.80,367 526.10,364.8 Z" fill="#86bc84"/>
<rect x="627.40" y="332.0" width="3.2" height="34.00" fill="url(#arO)"/>
<path d="M629.00,379.2 L622.70,364.8 Q629.00,367 629.00,368.2 Q629.00,367 635.30,364.8 Z" fill="#e8a42c"/>
</svg></body></html>
